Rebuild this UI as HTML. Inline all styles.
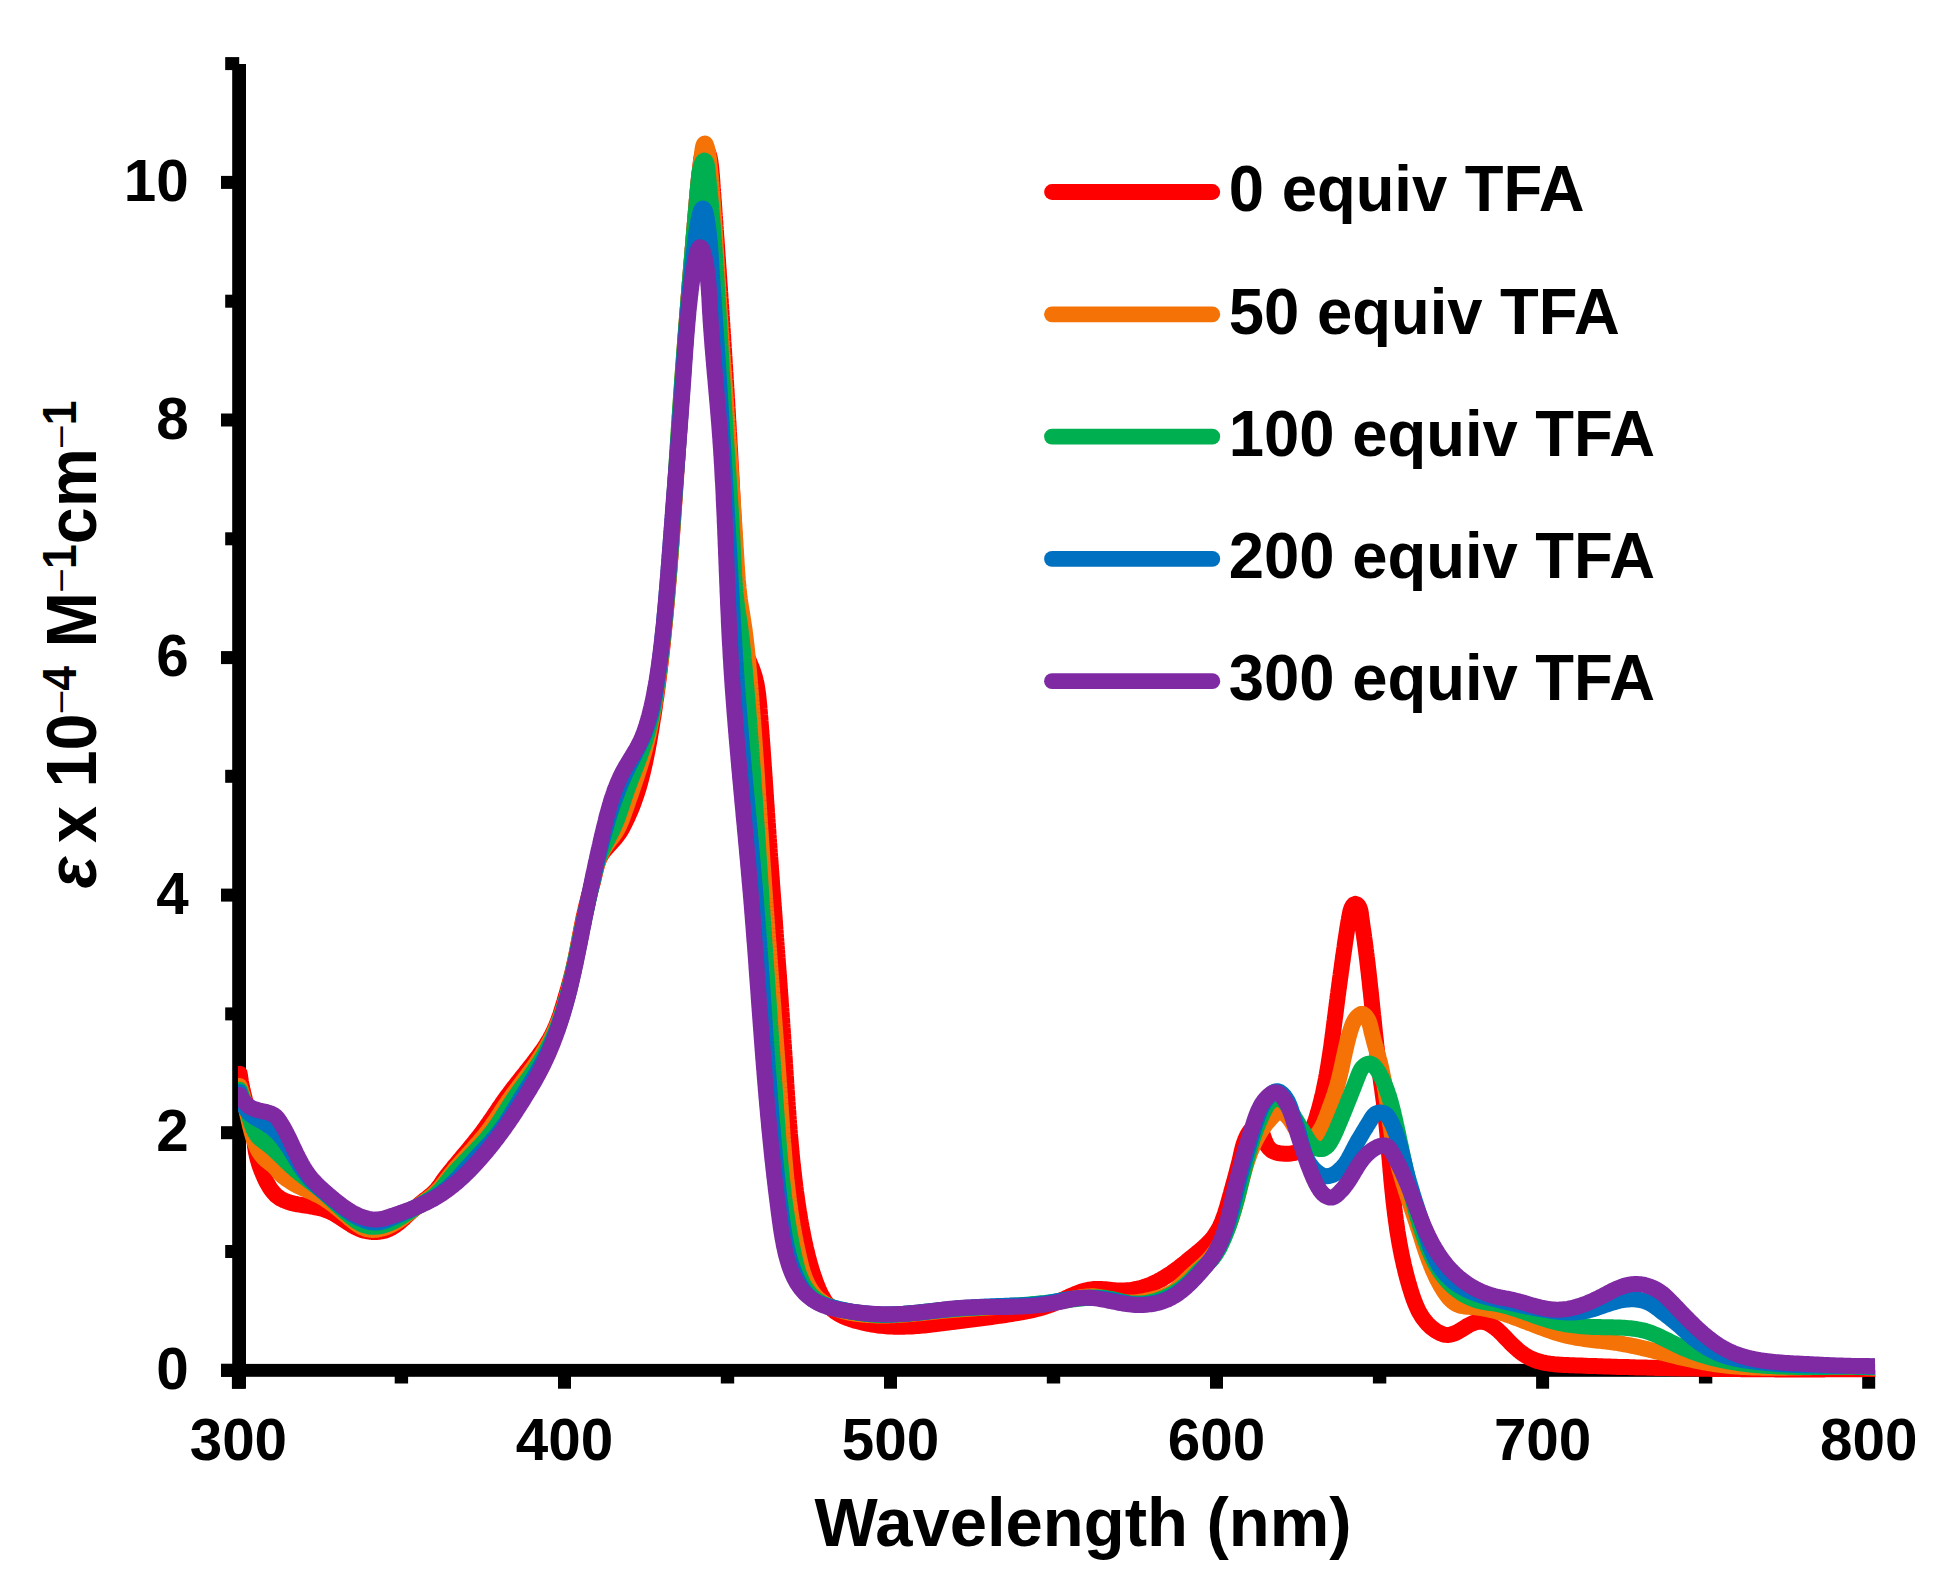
<!DOCTYPE html>
<html><head><meta charset="utf-8"><title>UV-vis titration</title>
<style>
html,body{margin:0;padding:0;background:#fff;}
body{width:1945px;height:1594px;overflow:hidden;}
svg{display:block;}
text{font-family:"Liberation Sans",sans-serif;font-weight:bold;fill:#000;}
</style></head><body>
<svg width="1945" height="1594" viewBox="0 0 1945 1594">
<rect width="1945" height="1594" fill="#fff"/>
<defs><clipPath id="pc"><rect x="238" y="0" width="1637" height="1400"/></clipPath></defs>
<g fill="#000"><rect x="232.2" y="64" width="13.8" height="1324.7"/><rect x="221" y="1363.9" width="1654.1" height="12.9"/><rect x="221" y="1363.8" width="18" height="13"/><rect x="225.2" y="1245.0" width="14" height="13"/><rect x="221" y="1126.2" width="18" height="13"/><rect x="225.2" y="1007.4" width="14" height="13"/><rect x="221" y="888.6" width="18" height="13"/><rect x="225.2" y="769.8" width="14" height="13"/><rect x="221" y="651.1" width="18" height="13"/><rect x="225.2" y="532.3" width="14" height="13"/><rect x="221" y="413.5" width="18" height="13"/><rect x="225.2" y="294.7" width="14" height="13"/><rect x="221" y="175.9" width="18" height="13"/><rect x="225.2" y="57.1" width="14" height="13"/><rect x="231.9" y="1370" width="13" height="18.7"/><rect x="394.7" y="1370" width="13.4" height="13.5"/><rect x="558.0" y="1370" width="13" height="18.7"/><rect x="720.8" y="1370" width="13.4" height="13.5"/><rect x="884.0" y="1370" width="13" height="18.7"/><rect x="1046.8" y="1370" width="13.4" height="13.5"/><rect x="1210.0" y="1370" width="13" height="18.7"/><rect x="1372.9" y="1370" width="13.4" height="13.5"/><rect x="1536.1" y="1370" width="13" height="18.7"/><rect x="1698.9" y="1370" width="13.4" height="13.5"/><rect x="1862.2" y="1370" width="13" height="18.7"/></g>
<g clip-path="url(#pc)" fill="none" stroke-width="16" stroke-linejoin="round" stroke-linecap="round">
<path stroke="#FF0000" d="M239.7 1073.8L240.0 1075.8L240.3 1077.8L240.6 1079.7L240.9 1081.7L241.3 1083.7L241.7 1085.6L242.1 1087.6L242.5 1089.5L243.0 1091.5L243.4 1093.4L243.9 1095.4L244.4 1097.3L244.9 1099.3L245.5 1101.2L246.0 1103.1L246.6 1105.1L247.1 1107.0L247.7 1108.9L248.3 1110.8L248.9 1112.7L249.5 1114.6L250.1 1116.5L250.6 1118.4L251.2 1120.4L251.7 1122.3L252.2 1124.2L252.7 1126.1L253.0 1128.1L253.4 1130.1L253.7 1132.1L253.9 1134.1L254.1 1136.1L254.2 1138.1L254.4 1140.2L254.6 1142.2L254.8 1144.2L255.0 1146.2L255.3 1148.1L255.6 1150.1L256.0 1152.0L256.4 1154.0L256.8 1155.9L257.3 1157.8L257.8 1159.7L258.4 1161.6L258.9 1163.5L259.6 1165.4L260.2 1167.3L260.9 1169.1L261.6 1171.0L262.4 1172.9L263.1 1174.7L264.0 1176.6L264.8 1178.4L265.7 1180.3L266.6 1182.1L267.6 1183.9L268.6 1185.7L269.7 1187.5L270.8 1189.2L272.0 1190.8L273.2 1192.3L274.6 1193.8L275.9 1195.2L277.4 1196.4L279.0 1197.6L280.6 1198.6L282.3 1199.5L284.0 1200.4L285.8 1201.1L287.7 1201.8L289.6 1202.4L291.5 1202.9L293.5 1203.4L295.5 1203.9L297.5 1204.3L299.5 1204.6L301.6 1205.0L303.6 1205.3L305.6 1205.6L307.6 1205.9L309.6 1206.2L311.6 1206.6L313.6 1206.9L315.5 1207.3L317.5 1207.7L319.4 1208.1L321.3 1208.6L323.2 1209.1L325.0 1209.7L326.9 1210.4L328.7 1211.1L330.5 1211.9L332.3 1212.8L334.0 1213.7L335.8 1214.7L337.5 1215.8L339.2 1216.8L340.9 1218.0L342.6 1219.1L344.3 1220.3L346.0 1221.4L347.7 1222.5L349.5 1223.7L351.2 1224.7L352.9 1225.8L354.7 1226.8L356.5 1227.7L358.3 1228.5L360.2 1229.3L362.0 1230.0L363.9 1230.6L365.9 1231.0L367.8 1231.4L369.8 1231.7L371.7 1231.9L373.7 1232.0L375.6 1232.0L377.6 1231.9L379.5 1231.7L381.5 1231.4L383.4 1231.0L385.3 1230.5L387.1 1229.8L388.9 1229.1L390.7 1228.2L392.5 1227.2L394.2 1226.2L395.8 1225.0L397.5 1223.8L399.1 1222.5L400.7 1221.2L402.2 1219.8L403.8 1218.5L405.3 1217.0L406.8 1215.6L408.3 1214.2L409.8 1212.8L411.2 1211.5L412.7 1210.1L414.2 1208.8L415.7 1207.5L417.2 1206.3L418.6 1205.0L420.1 1203.8L421.7 1202.5L423.2 1201.3L424.7 1200.0L426.3 1198.8L427.9 1197.6L429.5 1196.3L431.1 1195.0L432.6 1193.7L434.1 1192.3L435.5 1190.9L436.9 1189.4L438.1 1187.8L439.3 1186.3L440.5 1184.7L441.6 1183.0L442.7 1181.4L443.9 1179.7L445.0 1178.1L446.2 1176.5L447.5 1174.9L448.7 1173.4L449.9 1171.8L451.2 1170.2L452.5 1168.7L453.7 1167.1L455.0 1165.6L456.3 1164.0L457.6 1162.5L458.8 1161.0L460.1 1159.4L461.4 1157.9L462.7 1156.3L464.0 1154.8L465.3 1153.3L466.6 1151.7L467.8 1150.2L469.1 1148.7L470.4 1147.1L471.7 1145.6L472.9 1144.0L474.2 1142.5L475.4 1140.9L476.7 1139.3L477.9 1137.8L479.1 1136.2L480.4 1134.6L481.6 1133.0L482.8 1131.4L483.9 1129.8L485.1 1128.2L486.3 1126.5L487.4 1124.9L488.6 1123.3L489.7 1121.6L490.8 1120.0L492.0 1118.3L493.1 1116.7L494.2 1115.0L495.3 1113.3L496.5 1111.7L497.6 1110.0L498.7 1108.4L499.8 1106.7L501.0 1105.1L502.1 1103.4L503.2 1101.8L504.4 1100.1L505.6 1098.5L506.7 1096.9L507.9 1095.3L509.1 1093.7L510.3 1092.1L511.5 1090.5L512.7 1088.9L513.9 1087.3L515.2 1085.7L516.4 1084.2L517.6 1082.6L518.9 1081.0L520.1 1079.5L521.4 1077.9L522.6 1076.3L523.9 1074.8L525.1 1073.2L526.3 1071.6L527.6 1070.0L528.8 1068.5L530.1 1066.9L531.3 1065.3L532.6 1063.7L533.8 1062.1L535.0 1060.5L536.2 1058.9L537.5 1057.3L538.6 1055.7L539.8 1054.1L541.0 1052.4L542.2 1050.8L543.3 1049.2L544.4 1047.5L545.5 1045.8L546.6 1044.1L547.6 1042.4L548.7 1040.7L549.7 1039.0L550.6 1037.2L551.6 1035.5L552.5 1033.7L553.4 1031.9L554.2 1030.1L555.0 1028.3L555.8 1026.5L556.6 1024.6L557.3 1022.8L558.0 1020.9L558.7 1019.0L559.4 1017.1L560.1 1015.2L560.7 1013.3L561.3 1011.4L561.9 1009.5L562.5 1007.6L563.1 1005.6L563.7 1003.7L564.3 1001.8L564.8 999.9L565.4 997.9L566.0 996.0L566.5 994.1L567.1 992.2L567.6 990.2L568.2 988.3L568.7 986.4L569.2 984.5L569.8 982.5L570.3 980.6L570.8 978.7L571.3 976.8L571.8 974.8L572.3 972.9L572.8 970.9L573.2 969.0L573.7 967.1L574.1 965.1L574.5 963.2L575.0 961.2L575.4 959.2L575.8 957.3L576.2 955.3L576.6 953.3L577.0 951.4L577.4 949.4L577.8 947.4L578.1 945.5L578.5 943.5L578.9 941.5L579.3 939.6L579.6 937.6L580.0 935.6L580.4 933.6L580.8 931.7L581.1 929.7L581.5 927.7L581.9 925.8L582.3 923.8L582.7 921.8L583.1 919.9L583.5 917.9L583.9 916.0L584.4 914.0L584.8 912.1L585.3 910.1L585.7 908.2L586.2 906.2L586.7 904.3L587.2 902.4L587.7 900.5L588.2 898.6L588.7 896.6L589.3 894.7L589.8 892.8L590.4 890.9L590.9 889.0L591.5 887.1L592.0 885.1L592.6 883.2L593.1 881.2L593.6 879.3L594.0 877.3L594.5 875.3L594.9 873.3L595.4 871.3L595.9 869.3L596.4 867.3L596.9 865.4L597.5 863.5L598.1 861.6L598.8 859.7L599.6 857.9L600.6 856.2L601.6 854.5L602.6 852.8L603.8 851.3L605.1 849.7L606.3 848.2L607.7 846.7L609.0 845.2L610.4 843.7L611.8 842.2L613.1 840.7L614.5 839.2L615.8 837.6L617.0 836.1L618.2 834.5L619.4 832.8L620.5 831.1L621.5 829.4L622.5 827.7L623.4 825.9L624.3 824.1L625.2 822.3L626.1 820.5L627.0 818.7L627.8 816.9L628.6 815.1L629.4 813.3L630.2 811.5L631.0 809.6L631.7 807.8L632.5 805.9L633.2 804.1L633.9 802.2L634.5 800.3L635.2 798.4L635.8 796.6L636.5 794.7L637.1 792.8L637.7 790.9L638.3 789.0L638.9 787.1L639.4 785.2L640.0 783.2L640.5 781.3L641.0 779.4L641.5 777.5L642.0 775.5L642.5 773.6L643.0 771.6L643.4 769.7L643.9 767.7L644.3 765.8L644.8 763.8L645.2 761.9L645.6 759.9L646.0 758.0L646.4 756.0L646.8 754.0L647.2 752.1L647.6 750.1L648.0 748.1L648.3 746.2L648.7 744.2L649.1 742.2L649.4 740.2L649.8 738.2L650.1 736.3L650.4 734.3L650.8 732.3L651.1 730.3L651.4 728.4L651.8 726.4L652.1 724.4L652.4 722.4L652.7 720.4L653.0 718.5L653.4 716.5L653.7 714.5L654.0 712.5L654.3 710.5L654.6 708.6L654.9 706.6L655.1 704.6L655.4 702.6L655.7 700.6L656.0 698.7L656.3 696.7L656.6 694.7L656.8 692.7L657.1 690.7L657.4 688.7L657.6 686.8L657.9 684.8L658.2 682.8L658.4 680.8L658.7 678.8L658.9 676.8L659.2 674.8L659.4 672.9L659.7 670.9L659.9 668.9L660.1 666.9L660.4 664.9L660.6 662.9L660.8 660.9L661.1 659.0L661.3 657.0L661.5 655.0L661.7 653.0L662.0 651.0L662.2 649.0L662.4 647.0L662.6 645.1L662.8 643.1L663.0 641.1L663.2 639.1L663.4 637.1L663.6 635.1L663.8 633.1L664.0 631.1L664.2 629.1L664.4 627.2L664.6 625.2L664.8 623.2L665.0 621.2L665.2 619.2L665.4 617.2L665.6 615.2L665.8 613.2L665.9 611.2L666.1 609.2L666.3 607.2L666.5 605.3L666.7 603.3L666.8 601.3L667.0 599.3L667.2 597.3L667.3 595.3L667.5 593.3L667.7 591.3L667.8 589.3L668.0 587.3L668.2 585.3L668.3 583.3L668.5 581.3L668.7 579.4L668.8 577.4L669.0 575.4L669.1 573.4L669.3 571.4L669.5 569.4L669.6 567.4L669.8 565.4L669.9 563.4L670.1 561.4L670.2 559.4L670.4 557.4L670.5 555.4L670.7 553.4L670.8 551.4L671.0 549.4L671.1 547.4L671.3 545.5L671.4 543.5L671.6 541.5L671.7 539.5L671.9 537.5L672.0 535.5L672.2 533.5L672.3 531.5L672.4 529.5L672.6 527.5L672.7 525.5L672.9 523.5L673.0 521.5L673.2 519.5L673.3 517.5L673.4 515.5L673.6 513.5L673.7 511.5L673.9 509.5L674.0 507.5L674.1 505.5L674.3 503.5L674.4 501.5L674.6 499.5L674.7 497.5L674.8 495.5L675.0 493.6L675.1 491.6L675.2 489.6L675.4 487.6L675.5 485.6L675.6 483.6L675.8 481.6L675.9 479.6L676.1 477.6L676.2 475.6L676.3 473.6L676.5 471.6L676.6 469.6L676.7 467.6L676.9 465.6L677.0 463.6L677.1 461.6L677.3 459.6L677.4 457.6L677.5 455.6L677.7 453.6L677.8 451.6L677.9 449.6L678.1 447.6L678.2 445.6L678.3 443.6L678.5 441.6L678.6 439.6L678.7 437.6L678.9 435.6L679.0 433.6L679.1 431.6L679.3 429.6L679.4 427.6L679.5 425.6L679.7 423.6L679.8 421.6L679.9 419.6L680.1 417.6L680.2 415.7L680.3 413.7L680.5 411.7L680.6 409.7L680.7 407.7L680.9 405.7L681.0 403.7L681.1 401.7L681.3 399.7L681.4 397.7L681.5 395.7L681.7 393.7L681.8 391.7L681.9 389.7L682.1 387.7L682.2 385.7L682.4 383.7L682.5 381.7L682.6 379.7L682.8 377.7L682.9 375.7L683.0 373.7L683.2 371.7L683.3 369.7L683.5 367.7L683.6 365.7L683.7 363.7L683.9 361.7L684.0 359.7L684.2 357.7L684.3 355.7L684.4 353.7L684.6 351.7L684.7 349.8L684.9 347.8L685.0 345.8L685.2 343.8L685.3 341.8L685.5 339.8L685.6 337.8L685.7 335.8L685.9 333.8L686.0 331.8L686.2 329.8L686.3 327.8L686.5 325.8L686.6 323.8L686.8 321.8L686.9 319.8L687.1 317.8L687.2 315.8L687.4 313.8L687.5 311.8L687.7 309.8L687.9 307.9L688.0 305.9L688.2 303.9L688.3 301.9L688.5 299.9L688.6 297.9L688.8 295.9L689.0 293.9L689.1 291.9L689.3 289.9L689.4 287.9L689.6 285.9L689.8 283.9L689.9 281.9L690.1 280.0L690.3 278.0L690.4 276.0L690.6 274.0L690.8 272.0L690.9 270.0L691.1 268.0L691.3 266.0L691.4 264.0L691.6 262.0L691.8 260.0L692.0 258.0L692.1 256.0L692.3 254.0L692.5 252.0L692.6 250.1L692.8 248.1L693.0 246.1L693.1 244.1L693.3 242.1L693.5 240.1L693.6 238.1L693.8 236.1L694.0 234.1L694.1 232.1L694.3 230.1L694.5 228.1L694.7 226.1L694.8 224.1L695.0 222.1L695.2 220.1L695.3 218.1L695.5 216.1L695.7 214.1L695.8 212.1L696.0 210.1L696.2 208.1L696.3 206.1L696.5 204.2L696.7 202.2L696.8 200.2L697.0 198.2L697.2 196.2L697.4 194.2L697.5 192.3L697.7 190.3L697.9 188.3L698.1 186.3L698.3 184.3L698.5 182.3L698.7 180.3L698.9 178.4L699.1 176.4L699.3 174.4L699.6 172.4L699.8 170.4L700.1 168.4L700.3 166.4L700.6 164.4L700.8 162.3L701.1 160.3L701.4 158.3L701.9 156.3L702.5 154.3L703.4 152.3L704.5 150.7L705.7 150.1L706.8 150.8L707.8 152.2L708.6 153.8L709.2 155.7L709.7 157.7L710.1 159.8L710.5 161.9L710.7 164.0L711.0 166.2L711.2 168.2L711.4 170.3L711.6 172.3L711.8 174.3L712.0 176.3L712.1 178.3L712.3 180.3L712.4 182.3L712.5 184.3L712.7 186.3L712.8 188.2L713.0 190.2L713.1 192.2L713.3 194.2L713.4 196.2L713.5 198.2L713.7 200.1L713.8 202.1L714.0 204.1L714.1 206.1L714.3 208.1L714.4 210.1L714.5 212.1L714.7 214.0L714.8 216.0L715.0 218.0L715.1 220.0L715.3 222.0L715.4 224.0L715.5 226.0L715.7 228.0L715.8 230.0L716.0 231.9L716.1 233.9L716.2 235.9L716.4 237.9L716.5 239.9L716.7 241.9L716.8 243.9L717.0 245.9L717.1 247.9L717.2 249.9L717.4 251.9L717.5 253.8L717.6 255.8L717.8 257.8L717.9 259.8L718.1 261.8L718.2 263.8L718.3 265.8L718.5 267.8L718.6 269.8L718.8 271.8L718.9 273.8L719.0 275.8L719.2 277.8L719.3 279.8L719.4 281.8L719.6 283.8L719.7 285.8L719.9 287.8L720.0 289.7L720.1 291.7L720.3 293.7L720.4 295.7L720.5 297.7L720.7 299.7L720.8 301.7L720.9 303.7L721.1 305.7L721.2 307.7L721.3 309.7L721.5 311.7L721.6 313.7L721.7 315.7L721.9 317.7L722.0 319.7L722.1 321.7L722.3 323.7L722.4 325.7L722.5 327.7L722.7 329.7L722.8 331.7L722.9 333.7L723.1 335.7L723.2 337.7L723.3 339.7L723.4 341.7L723.6 343.7L723.7 345.7L723.8 347.7L724.0 349.7L724.1 351.7L724.2 353.7L724.3 355.7L724.5 357.7L724.6 359.7L724.7 361.7L724.8 363.7L725.0 365.7L725.1 367.7L725.2 369.7L725.3 371.7L725.5 373.7L725.6 375.7L725.7 377.7L725.8 379.7L726.0 381.7L726.1 383.7L726.2 385.7L726.3 387.7L726.5 389.7L726.6 391.7L726.7 393.7L726.8 395.7L726.9 397.7L727.1 399.7L727.2 401.7L727.3 403.7L727.4 405.7L727.5 407.7L727.7 409.7L727.8 411.7L727.9 413.7L728.0 415.7L728.1 417.7L728.2 419.7L728.4 421.7L728.5 423.7L728.6 425.7L728.7 427.7L728.8 429.7L728.9 431.7L729.1 433.7L729.2 435.7L729.3 437.7L729.4 439.7L729.5 441.7L729.6 443.7L729.7 445.7L729.8 447.6L730.0 449.6L730.1 451.6L730.2 453.6L730.3 455.6L730.4 457.6L730.5 459.6L730.6 461.6L730.7 463.6L730.8 465.6L730.9 467.6L731.0 469.6L731.1 471.6L731.3 473.6L731.4 475.6L731.5 477.6L731.6 479.6L731.7 481.6L731.8 483.6L731.9 485.6L732.0 487.6L732.1 489.6L732.2 491.6L732.3 493.6L732.4 495.6L732.5 497.6L732.6 499.6L732.7 501.6L732.8 503.6L732.9 505.5L733.0 507.5L733.1 509.5L733.2 511.5L733.3 513.5L733.4 515.5L733.5 517.5L733.6 519.5L733.7 521.5L733.8 523.5L733.9 525.5L734.0 527.5L734.1 529.5L734.2 531.5L734.3 533.5L734.4 535.5L734.4 537.5L734.5 539.5L734.6 541.5L734.7 543.5L734.8 545.5L734.9 547.5L735.0 549.5L735.1 551.5L735.2 553.5L735.3 555.5L735.4 557.5L735.5 559.5L735.5 561.5L735.6 563.5L735.7 565.5L735.8 567.5L735.9 569.5L736.0 571.5L736.1 573.5L736.2 575.5L736.2 577.5L736.3 579.5L736.4 581.5L736.5 583.5L736.6 585.5L736.7 587.5L736.7 589.5L736.8 591.5L736.9 593.5L737.0 595.5L737.1 597.5L737.2 599.5L737.3 601.5L737.5 603.5L737.6 605.5L737.7 607.5L737.9 609.5L738.0 611.5L738.2 613.5L738.4 615.5L738.6 617.5L738.8 619.5L739.1 621.4L739.3 623.4L739.6 625.4L739.9 627.4L740.2 629.4L740.6 631.4L740.9 633.3L741.3 635.3L741.7 637.3L742.1 639.2L742.6 641.2L743.0 643.1L743.5 645.0L744.0 646.9L744.6 648.8L745.2 650.8L745.8 652.6L746.4 654.5L747.1 656.4L747.8 658.3L748.6 660.2L749.4 662.0L750.1 663.9L750.9 665.8L751.7 667.6L752.4 669.5L753.1 671.4L753.7 673.3L754.3 675.2L754.9 677.1L755.4 679.1L755.8 681.0L756.3 682.9L756.7 684.9L757.0 686.8L757.3 688.8L757.6 690.8L757.9 692.8L758.2 694.7L758.4 696.7L758.6 698.7L758.8 700.7L759.0 702.7L759.2 704.7L759.4 706.7L759.5 708.7L759.7 710.7L759.9 712.7L760.0 714.7L760.2 716.7L760.4 718.7L760.5 720.7L760.7 722.7L760.8 724.7L761.0 726.6L761.1 728.6L761.3 730.6L761.4 732.6L761.6 734.6L761.7 736.6L761.9 738.6L762.0 740.6L762.2 742.6L762.3 744.6L762.5 746.6L762.6 748.6L762.8 750.6L762.9 752.6L763.0 754.6L763.2 756.6L763.3 758.6L763.5 760.6L763.6 762.6L763.7 764.6L763.9 766.6L764.0 768.6L764.2 770.6L764.3 772.6L764.4 774.6L764.6 776.6L764.7 778.6L764.9 780.6L765.0 782.6L765.1 784.6L765.3 786.6L765.4 788.6L765.5 790.6L765.7 792.6L765.8 794.6L765.9 796.6L766.1 798.6L766.2 800.6L766.3 802.6L766.5 804.6L766.6 806.6L766.8 808.6L766.9 810.6L767.0 812.5L767.2 814.5L767.3 816.5L767.4 818.5L767.6 820.5L767.7 822.5L767.9 824.5L768.0 826.5L768.1 828.5L768.3 830.5L768.4 832.5L768.5 834.5L768.7 836.5L768.8 838.5L769.0 840.5L769.1 842.5L769.3 844.5L769.4 846.5L769.5 848.5L769.7 850.5L769.8 852.5L770.0 854.5L770.1 856.5L770.3 858.4L770.4 860.4L770.5 862.4L770.7 864.4L770.8 866.4L771.0 868.4L771.1 870.4L771.3 872.4L771.4 874.4L771.6 876.4L771.7 878.4L771.9 880.4L772.0 882.4L772.1 884.4L772.3 886.4L772.4 888.4L772.6 890.4L772.7 892.4L772.9 894.3L773.0 896.3L773.2 898.3L773.3 900.3L773.5 902.3L773.6 904.3L773.8 906.3L773.9 908.3L774.1 910.3L774.2 912.3L774.4 914.3L774.5 916.3L774.7 918.3L774.8 920.3L774.9 922.3L775.1 924.3L775.2 926.3L775.4 928.2L775.5 930.2L775.7 932.2L775.8 934.2L776.0 936.2L776.1 938.2L776.3 940.2L776.4 942.2L776.6 944.2L776.7 946.2L776.9 948.2L777.0 950.2L777.2 952.2L777.3 954.2L777.5 956.2L777.6 958.2L777.8 960.2L777.9 962.2L778.0 964.1L778.2 966.1L778.3 968.1L778.5 970.1L778.6 972.1L778.8 974.1L778.9 976.1L779.1 978.1L779.2 980.1L779.4 982.1L779.5 984.1L779.7 986.1L779.8 988.1L779.9 990.1L780.1 992.1L780.2 994.1L780.4 996.1L780.5 998.1L780.7 1000.1L780.8 1002.1L780.9 1004.1L781.1 1006.0L781.2 1008.0L781.4 1010.0L781.5 1012.0L781.7 1014.0L781.8 1016.0L781.9 1018.0L782.1 1020.0L782.2 1022.0L782.3 1024.0L782.5 1026.0L782.6 1028.0L782.8 1030.0L782.9 1032.0L783.0 1034.0L783.2 1036.0L783.3 1038.0L783.4 1040.0L783.6 1042.0L783.7 1044.0L783.9 1046.0L784.0 1048.0L784.1 1050.0L784.3 1052.0L784.4 1054.0L784.5 1056.0L784.7 1058.0L784.8 1060.0L784.9 1062.0L785.0 1064.0L785.2 1066.0L785.3 1068.0L785.4 1070.0L785.6 1072.0L785.7 1074.0L785.8 1076.0L786.0 1078.0L786.1 1080.0L786.2 1082.0L786.3 1084.0L786.5 1086.0L786.6 1088.0L786.7 1090.0L786.9 1092.0L787.0 1094.0L787.1 1096.0L787.3 1098.0L787.4 1100.0L787.5 1102.0L787.7 1104.0L787.8 1106.0L788.0 1108.0L788.1 1110.0L788.3 1112.0L788.4 1114.0L788.5 1116.0L788.7 1118.0L788.8 1120.0L789.0 1122.0L789.1 1124.0L789.3 1126.0L789.5 1128.0L789.6 1130.0L789.8 1132.0L789.9 1134.0L790.1 1136.0L790.3 1138.0L790.5 1139.9L790.6 1141.9L790.8 1143.9L791.0 1145.9L791.2 1147.9L791.4 1149.9L791.5 1151.9L791.7 1153.9L791.9 1155.9L792.1 1157.9L792.3 1159.9L792.5 1161.8L792.7 1163.8L792.9 1165.8L793.2 1167.8L793.4 1169.8L793.6 1171.8L793.8 1173.8L794.1 1175.8L794.3 1177.7L794.5 1179.7L794.8 1181.7L795.0 1183.7L795.3 1185.7L795.5 1187.6L795.8 1189.6L796.0 1191.6L796.3 1193.6L796.6 1195.5L796.9 1197.5L797.1 1199.5L797.4 1201.5L797.7 1203.4L798.0 1205.4L798.3 1207.4L798.6 1209.4L798.9 1211.3L799.3 1213.3L799.6 1215.3L799.9 1217.2L800.2 1219.2L800.6 1221.2L800.9 1223.1L801.3 1225.1L801.6 1227.0L802.0 1229.0L802.4 1231.0L802.7 1232.9L803.1 1234.9L803.5 1236.8L803.9 1238.8L804.3 1240.7L804.7 1242.7L805.2 1244.6L805.6 1246.6L806.0 1248.5L806.5 1250.5L807.0 1252.4L807.4 1254.4L807.9 1256.3L808.4 1258.3L808.9 1260.2L809.5 1262.1L810.0 1264.1L810.6 1266.0L811.1 1268.0L811.7 1269.9L812.3 1271.8L813.0 1273.8L813.6 1275.7L814.3 1277.6L814.9 1279.6L815.6 1281.5L816.3 1283.4L817.1 1285.3L817.8 1287.2L818.6 1289.1L819.5 1291.0L820.3 1292.8L821.2 1294.6L822.2 1296.4L823.2 1298.1L824.2 1299.8L825.3 1301.5L826.4 1303.1L827.6 1304.6L828.9 1306.1L830.2 1307.5L831.6 1308.8L833.1 1310.1L834.6 1311.3L836.2 1312.4L837.8 1313.5L839.6 1314.5L841.3 1315.4L843.1 1316.3L845.0 1317.1L846.9 1317.9L848.8 1318.6L850.7 1319.3L852.7 1319.9L854.6 1320.5L856.6 1321.1L858.6 1321.6L860.6 1322.1L862.6 1322.6L864.5 1323.0L866.5 1323.5L868.5 1323.9L870.4 1324.2L872.4 1324.6L874.4 1324.9L876.3 1325.2L878.3 1325.5L880.3 1325.7L882.2 1325.9L884.2 1326.1L886.2 1326.3L888.1 1326.4L890.1 1326.5L892.1 1326.6L894.1 1326.7L896.1 1326.7L898.1 1326.7L900.0 1326.7L902.0 1326.7L904.0 1326.7L906.0 1326.6L908.0 1326.6L910.0 1326.5L912.0 1326.4L914.0 1326.3L916.0 1326.1L918.0 1326.0L920.0 1325.8L922.0 1325.6L924.0 1325.5L926.0 1325.3L928.0 1325.1L930.0 1324.8L932.0 1324.6L934.0 1324.4L936.0 1324.1L938.0 1323.9L940.0 1323.6L942.0 1323.4L944.0 1323.1L945.9 1322.9L947.9 1322.6L949.9 1322.3L951.9 1322.1L953.9 1321.8L955.9 1321.5L957.9 1321.3L959.9 1321.0L961.9 1320.8L963.9 1320.5L965.8 1320.2L967.8 1320.0L969.8 1319.7L971.8 1319.5L973.8 1319.2L975.7 1319.0L977.7 1318.7L979.7 1318.5L981.7 1318.2L983.6 1318.0L985.6 1317.7L987.6 1317.5L989.5 1317.2L991.5 1317.0L993.5 1316.7L995.5 1316.4L997.4 1316.1L999.4 1315.9L1001.4 1315.6L1003.4 1315.3L1005.3 1315.0L1007.3 1314.7L1009.3 1314.4L1011.3 1314.1L1013.2 1313.7L1015.2 1313.4L1017.2 1313.1L1019.2 1312.7L1021.2 1312.3L1023.2 1312.0L1025.1 1311.6L1027.1 1311.2L1029.1 1310.8L1031.1 1310.4L1033.1 1309.9L1035.0 1309.4L1037.0 1309.0L1038.9 1308.5L1040.8 1307.9L1042.8 1307.4L1044.7 1306.8L1046.6 1306.2L1048.4 1305.6L1050.3 1304.9L1052.1 1304.2L1053.9 1303.5L1055.7 1302.7L1057.5 1302.0L1059.3 1301.2L1061.1 1300.3L1062.9 1299.5L1064.7 1298.7L1066.6 1297.8L1068.4 1297.0L1070.3 1296.1L1072.1 1295.3L1074.0 1294.5L1075.9 1293.7L1077.8 1293.0L1079.7 1292.3L1081.6 1291.6L1083.6 1291.1L1085.5 1290.5L1087.4 1290.1L1089.4 1289.7L1091.4 1289.4L1093.3 1289.1L1095.3 1289.0L1097.3 1289.0L1099.3 1289.0L1101.3 1289.1L1103.3 1289.2L1105.3 1289.3L1107.3 1289.5L1109.3 1289.7L1111.3 1289.9L1113.3 1290.1L1115.3 1290.3L1117.3 1290.4L1119.3 1290.5L1121.4 1290.6L1123.3 1290.5L1125.3 1290.5L1127.3 1290.3L1129.3 1290.1L1131.3 1289.9L1133.2 1289.6L1135.2 1289.2L1137.1 1288.8L1139.1 1288.4L1141.0 1287.9L1142.9 1287.3L1144.8 1286.7L1146.6 1286.1L1148.5 1285.4L1150.4 1284.7L1152.2 1283.9L1154.0 1283.1L1155.8 1282.2L1157.6 1281.3L1159.3 1280.4L1161.1 1279.5L1162.8 1278.5L1164.5 1277.4L1166.2 1276.4L1167.9 1275.3L1169.6 1274.2L1171.3 1273.1L1172.9 1271.9L1174.5 1270.8L1176.2 1269.6L1177.8 1268.4L1179.4 1267.1L1181.0 1265.9L1182.6 1264.7L1184.2 1263.4L1185.8 1262.1L1187.4 1260.8L1188.9 1259.6L1190.5 1258.3L1192.1 1257.0L1193.6 1255.7L1195.2 1254.4L1196.8 1253.1L1198.3 1251.8L1199.9 1250.6L1201.4 1249.3L1202.9 1248.0L1204.4 1246.6L1205.9 1245.3L1207.3 1243.9L1208.7 1242.5L1210.0 1241.1L1211.4 1239.7L1212.6 1238.2L1213.8 1236.6L1214.9 1235.0L1216.0 1233.4L1217.1 1231.7L1218.0 1230.0L1219.0 1228.3L1219.9 1226.5L1220.7 1224.7L1221.5 1222.9L1222.3 1221.0L1223.0 1219.1L1223.7 1217.2L1224.4 1215.3L1225.1 1213.4L1225.7 1211.4L1226.3 1209.5L1226.9 1207.5L1227.5 1205.5L1228.0 1203.6L1228.6 1201.6L1229.1 1199.6L1229.7 1197.7L1230.2 1195.7L1230.8 1193.8L1231.3 1191.8L1231.8 1189.9L1232.4 1188.0L1232.9 1186.0L1233.4 1184.1L1234.0 1182.2L1234.5 1180.3L1235.0 1178.4L1235.5 1176.5L1236.0 1174.6L1236.5 1172.7L1237.0 1170.8L1237.5 1168.9L1238.0 1166.9L1238.5 1165.0L1239.0 1163.1L1239.5 1161.2L1239.9 1159.2L1240.4 1157.3L1240.8 1155.3L1241.3 1153.4L1241.7 1151.4L1242.2 1149.5L1242.7 1147.5L1243.2 1145.6L1243.8 1143.7L1244.5 1141.8L1245.2 1139.9L1246.0 1138.0L1246.9 1136.2L1247.8 1134.4L1248.9 1132.6L1250.1 1130.9L1251.5 1129.4L1253.0 1128.1L1254.8 1127.3L1256.8 1127.0L1258.5 1127.5L1259.8 1128.6L1260.9 1130.2L1261.7 1132.2L1262.5 1134.2L1263.3 1136.2L1264.0 1138.3L1264.7 1140.3L1265.5 1142.2L1266.4 1144.0L1267.3 1145.8L1268.4 1147.3L1269.6 1148.7L1271.0 1150.0L1272.5 1151.0L1274.2 1151.8L1276.1 1152.5L1278.0 1153.0L1280.1 1153.3L1282.2 1153.6L1284.3 1153.7L1286.4 1153.7L1288.6 1153.7L1290.7 1153.5L1292.7 1153.2L1294.6 1152.8L1296.5 1152.2L1298.2 1151.4L1299.7 1150.4L1301.2 1149.2L1302.5 1148.0L1303.8 1146.6L1305.0 1145.0L1306.0 1143.4L1307.1 1141.7L1308.0 1139.9L1308.9 1138.1L1309.7 1136.2L1310.5 1134.2L1311.3 1132.3L1312.0 1130.4L1312.8 1128.4L1313.5 1126.5L1314.1 1124.5L1314.8 1122.6L1315.5 1120.7L1316.1 1118.8L1316.7 1116.8L1317.3 1114.9L1317.9 1113.0L1318.4 1111.1L1319.0 1109.1L1319.5 1107.2L1320.0 1105.3L1320.5 1103.4L1321.0 1101.5L1321.5 1099.5L1322.0 1097.6L1322.4 1095.7L1322.9 1093.7L1323.3 1091.8L1323.7 1089.9L1324.1 1088.0L1324.5 1086.0L1324.9 1084.1L1325.3 1082.1L1325.7 1080.2L1326.1 1078.2L1326.4 1076.3L1326.8 1074.3L1327.1 1072.4L1327.5 1070.4L1327.8 1068.4L1328.2 1066.5L1328.5 1064.5L1328.8 1062.5L1329.1 1060.5L1329.4 1058.6L1329.7 1056.6L1330.0 1054.6L1330.3 1052.6L1330.6 1050.6L1330.9 1048.6L1331.2 1046.7L1331.5 1044.7L1331.7 1042.7L1332.0 1040.7L1332.3 1038.7L1332.5 1036.7L1332.8 1034.7L1333.1 1032.7L1333.3 1030.7L1333.6 1028.7L1333.8 1026.7L1334.1 1024.7L1334.3 1022.7L1334.6 1020.7L1334.8 1018.8L1335.1 1016.8L1335.4 1014.8L1335.6 1012.8L1335.9 1010.8L1336.1 1008.8L1336.4 1006.8L1336.6 1004.8L1336.9 1002.8L1337.1 1000.8L1337.4 998.9L1337.6 996.9L1337.9 994.9L1338.2 992.9L1338.4 990.9L1338.7 988.9L1339.0 987.0L1339.2 985.0L1339.5 983.0L1339.8 981.0L1340.0 979.1L1340.3 977.1L1340.6 975.1L1340.8 973.1L1341.1 971.1L1341.4 969.2L1341.7 967.2L1341.9 965.2L1342.2 963.2L1342.5 961.3L1342.8 959.3L1343.0 957.3L1343.3 955.3L1343.6 953.4L1343.9 951.4L1344.2 949.4L1344.5 947.4L1344.7 945.5L1345.0 943.5L1345.3 941.5L1345.6 939.5L1345.9 937.6L1346.2 935.6L1346.5 933.6L1346.8 931.6L1347.1 929.6L1347.4 927.6L1347.8 925.7L1348.1 923.7L1348.4 921.7L1348.8 919.7L1349.1 917.7L1349.5 915.7L1349.9 913.7L1350.3 911.7L1350.9 909.7L1351.6 907.8L1352.6 906.1L1353.9 904.6L1355.4 903.9L1357.0 904.5L1358.4 905.9L1359.4 907.7L1360.1 909.6L1360.6 911.6L1360.9 913.7L1361.1 915.8L1361.4 917.8L1361.7 919.8L1362.0 921.8L1362.2 923.8L1362.5 925.8L1362.8 927.7L1363.1 929.7L1363.4 931.7L1363.7 933.6L1364.0 935.6L1364.2 937.6L1364.5 939.6L1364.8 941.5L1365.0 943.5L1365.3 945.5L1365.6 947.5L1365.8 949.4L1366.1 951.4L1366.3 953.4L1366.6 955.4L1366.8 957.4L1367.1 959.3L1367.3 961.3L1367.5 963.3L1367.8 965.3L1368.0 967.3L1368.2 969.3L1368.5 971.3L1368.7 973.3L1368.9 975.2L1369.1 977.2L1369.4 979.2L1369.6 981.2L1369.8 983.2L1370.0 985.2L1370.2 987.2L1370.4 989.2L1370.7 991.2L1370.9 993.2L1371.1 995.2L1371.3 997.2L1371.5 999.2L1371.7 1001.1L1371.9 1003.1L1372.1 1005.1L1372.3 1007.1L1372.5 1009.1L1372.7 1011.1L1372.9 1013.1L1373.1 1015.1L1373.4 1017.1L1373.6 1019.1L1373.8 1021.1L1374.0 1023.1L1374.2 1025.0L1374.4 1027.0L1374.6 1029.0L1374.8 1031.0L1375.0 1033.0L1375.2 1035.0L1375.4 1037.0L1375.7 1039.0L1375.9 1040.9L1376.1 1042.9L1376.3 1044.9L1376.6 1046.9L1376.8 1048.9L1377.0 1050.9L1377.2 1052.9L1377.5 1054.8L1377.7 1056.8L1378.0 1058.8L1378.2 1060.8L1378.5 1062.8L1378.7 1064.8L1379.0 1066.7L1379.2 1068.7L1379.5 1070.7L1379.8 1072.7L1380.0 1074.7L1380.3 1076.6L1380.6 1078.6L1380.9 1080.6L1381.1 1082.6L1381.4 1084.6L1381.7 1086.6L1382.0 1088.5L1382.3 1090.5L1382.5 1092.5L1382.8 1094.5L1383.1 1096.5L1383.3 1098.4L1383.6 1100.4L1383.9 1102.4L1384.1 1104.4L1384.4 1106.4L1384.6 1108.4L1384.8 1110.4L1385.1 1112.3L1385.3 1114.3L1385.5 1116.3L1385.7 1118.3L1386.0 1120.3L1386.2 1122.3L1386.4 1124.3L1386.6 1126.3L1386.8 1128.3L1387.0 1130.3L1387.2 1132.2L1387.4 1134.2L1387.5 1136.2L1387.7 1138.2L1387.9 1140.2L1388.1 1142.2L1388.3 1144.2L1388.4 1146.2L1388.6 1148.2L1388.8 1150.2L1389.0 1152.2L1389.1 1154.2L1389.3 1156.2L1389.5 1158.2L1389.7 1160.2L1389.8 1162.2L1390.0 1164.2L1390.2 1166.1L1390.4 1168.1L1390.5 1170.1L1390.7 1172.1L1390.9 1174.1L1391.1 1176.1L1391.2 1178.1L1391.4 1180.1L1391.6 1182.1L1391.8 1184.1L1392.0 1186.1L1392.2 1188.1L1392.4 1190.1L1392.6 1192.1L1392.8 1194.0L1393.0 1196.0L1393.2 1198.0L1393.4 1200.0L1393.6 1202.0L1393.9 1204.0L1394.1 1206.0L1394.3 1208.0L1394.6 1209.9L1394.8 1211.9L1395.0 1213.9L1395.3 1215.9L1395.6 1217.9L1395.8 1219.9L1396.1 1221.8L1396.4 1223.8L1396.7 1225.8L1396.9 1227.8L1397.2 1229.8L1397.5 1231.7L1397.9 1233.7L1398.2 1235.7L1398.5 1237.6L1398.8 1239.6L1399.2 1241.6L1399.5 1243.6L1399.9 1245.5L1400.3 1247.5L1400.6 1249.5L1401.0 1251.4L1401.4 1253.4L1401.8 1255.3L1402.2 1257.3L1402.6 1259.3L1403.1 1261.2L1403.5 1263.2L1403.9 1265.1L1404.4 1267.1L1404.9 1269.0L1405.3 1271.0L1405.8 1272.9L1406.3 1274.9L1406.8 1276.8L1407.3 1278.7L1407.9 1280.7L1408.4 1282.6L1409.0 1284.5L1409.5 1286.5L1410.1 1288.4L1410.7 1290.3L1411.3 1292.3L1411.9 1294.2L1412.5 1296.1L1413.2 1298.0L1413.9 1299.9L1414.6 1301.8L1415.3 1303.6L1416.1 1305.5L1416.9 1307.3L1417.7 1309.1L1418.6 1310.9L1419.5 1312.6L1420.5 1314.3L1421.5 1316.0L1422.6 1317.6L1423.8 1319.2L1425.0 1320.8L1426.2 1322.3L1427.5 1323.8L1428.9 1325.2L1430.4 1326.6L1431.9 1327.9L1433.6 1329.2L1435.2 1330.4L1437.0 1331.5L1438.9 1332.5L1440.8 1333.4L1442.7 1334.2L1444.7 1334.7L1446.7 1334.9L1448.6 1334.9L1450.6 1334.6L1452.6 1334.1L1454.5 1333.4L1456.3 1332.6L1458.1 1331.7L1459.8 1330.7L1461.5 1329.7L1463.1 1328.6L1464.8 1327.6L1466.5 1326.5L1468.2 1325.5L1470.1 1324.5L1471.9 1323.6L1473.9 1322.9L1475.8 1322.2L1477.8 1321.8L1479.8 1321.6L1481.8 1321.6L1483.7 1321.9L1485.7 1322.4L1487.6 1323.2L1489.4 1324.1L1491.1 1325.1L1492.8 1326.2L1494.4 1327.3L1495.9 1328.5L1497.4 1329.7L1498.8 1331.0L1500.2 1332.3L1501.6 1333.7L1503.0 1335.1L1504.3 1336.5L1505.7 1338.0L1507.1 1339.4L1508.5 1340.9L1509.9 1342.4L1511.4 1343.8L1512.9 1345.3L1514.4 1346.7L1515.9 1348.1L1517.5 1349.5L1519.1 1350.9L1520.7 1352.2L1522.4 1353.4L1524.1 1354.6L1525.8 1355.7L1527.5 1356.7L1529.2 1357.6L1531.0 1358.5L1532.8 1359.3L1534.6 1360.0L1536.5 1360.7L1538.3 1361.3L1540.2 1361.8L1542.1 1362.3L1544.0 1362.7L1545.9 1363.1L1547.9 1363.4L1549.8 1363.7L1551.8 1363.9L1553.8 1364.2L1555.8 1364.4L1557.7 1364.5L1559.7 1364.7L1561.7 1364.8L1563.7 1364.9L1565.8 1365.0L1567.8 1365.1L1569.8 1365.2L1571.8 1365.2L1573.8 1365.3L1575.8 1365.4L1577.8 1365.5L1579.8 1365.6L1581.8 1365.6L1583.8 1365.7L1585.8 1365.8L1587.9 1365.9L1589.9 1365.9L1591.9 1366.0L1593.9 1366.1L1595.9 1366.1L1597.9 1366.2L1599.9 1366.3L1601.9 1366.3L1603.9 1366.4L1605.9 1366.5L1607.9 1366.5L1609.9 1366.6L1611.9 1366.7L1613.9 1366.7L1615.9 1366.8L1617.9 1366.9L1619.9 1366.9L1621.9 1367.0L1623.9 1367.0L1625.9 1367.1L1627.9 1367.1L1629.9 1367.2L1631.9 1367.3L1634.0 1367.3L1636.0 1367.4L1638.0 1367.4L1640.0 1367.5L1642.0 1367.5L1644.0 1367.6L1646.0 1367.6L1648.0 1367.7L1650.0 1367.7L1651.9 1367.8L1653.9 1367.8L1655.9 1367.9L1657.9 1367.9L1659.9 1368.0L1661.9 1368.0L1663.9 1368.0L1665.9 1368.1L1667.9 1368.1L1669.9 1368.2L1671.9 1368.2L1673.9 1368.2L1675.9 1368.3L1677.9 1368.3L1679.9 1368.4L1681.9 1368.4L1683.9 1368.4L1685.9 1368.5L1687.9 1368.5L1689.9 1368.5L1691.9 1368.6L1693.9 1368.6L1695.9 1368.6L1697.9 1368.7L1699.9 1368.7L1701.9 1368.7L1703.9 1368.7L1705.9 1368.8L1707.9 1368.8L1709.9 1368.8L1711.9 1368.9L1713.9 1368.9L1715.9 1368.9L1717.9 1368.9L1719.8 1369.0L1721.8 1369.0L1723.8 1369.0L1725.8 1369.0L1727.8 1369.0L1729.8 1369.1L1731.8 1369.1L1733.8 1369.1L1735.8 1369.1L1737.8 1369.1L1739.8 1369.1L1741.8 1369.2L1743.8 1369.2L1745.8 1369.2L1747.8 1369.2L1749.8 1369.2L1751.8 1369.2L1753.8 1369.3L1755.8 1369.3L1757.8 1369.3L1759.8 1369.3L1761.8 1369.3L1763.8 1369.3L1765.8 1369.3L1767.8 1369.3L1769.8 1369.3L1771.8 1369.3L1773.8 1369.3L1775.8 1369.4L1777.8 1369.4L1779.8 1369.4L1781.8 1369.4L1783.8 1369.4L1785.7 1369.4L1787.7 1369.4L1789.7 1369.4L1791.7 1369.4L1793.7 1369.4L1795.7 1369.4L1797.7 1369.4L1799.7 1369.4L1801.7 1369.4L1803.7 1369.4L1805.8 1369.4L1807.8 1369.4L1809.8 1369.4L1811.8 1369.4L1813.8 1369.4L1815.8 1369.4L1817.8 1369.4L1819.8 1369.4L1821.8 1369.4L1823.8 1369.4L1825.8 1369.3L1827.8 1369.3L1829.8 1369.3L1831.8 1369.3L1833.8 1369.3L1835.8 1369.3L1837.8 1369.3L1839.8 1369.3L1841.8 1369.3L1843.8 1369.3L1845.8 1369.3L1847.8 1369.2L1849.8 1369.2L1851.9 1369.2L1853.9 1369.2L1855.9 1369.2L1857.9 1369.2L1859.9 1369.2L1861.9 1369.2L1863.9 1369.1L1865.9 1369.1L1867.9 1369.1L1869.9 1369.1L1872.0 1369.1L1874.0 1369.1L1876.0 1369.0L1878.0 1369.0L1880.0 1369.0"/>
<path stroke="#F47206" d="M239.6 1086.0L240.3 1087.9L240.9 1089.8L241.5 1091.8L242.1 1093.7L242.7 1095.6L243.2 1097.5L243.7 1099.5L244.2 1101.4L244.7 1103.3L245.2 1105.3L245.7 1107.2L246.1 1109.1L246.6 1111.1L247.0 1113.0L247.5 1115.0L247.9 1116.9L248.4 1118.9L248.8 1120.8L249.3 1122.7L249.7 1124.7L250.2 1126.6L250.7 1128.6L251.2 1130.5L251.7 1132.5L252.3 1134.4L252.8 1136.3L253.4 1138.3L254.0 1140.2L254.7 1142.1L255.4 1144.0L256.1 1145.8L256.9 1147.7L257.8 1149.4L258.7 1151.2L259.8 1152.9L260.9 1154.5L262.1 1156.0L263.4 1157.5L264.8 1158.9L266.3 1160.3L267.9 1161.5L269.5 1162.8L271.2 1164.1L272.7 1165.3L274.2 1166.7L275.6 1168.1L276.9 1169.7L278.1 1171.2L279.4 1172.8L280.7 1174.2L282.2 1175.6L283.7 1176.9L285.3 1178.1L286.9 1179.3L288.6 1180.4L290.3 1181.5L291.9 1182.5L293.6 1183.5L295.3 1184.5L297.1 1185.5L298.9 1186.4L300.7 1187.2L302.5 1188.1L304.3 1188.9L306.2 1189.7L308.0 1190.6L309.9 1191.4L311.7 1192.2L313.5 1193.0L315.4 1193.9L317.2 1194.8L318.9 1195.7L320.7 1196.6L322.4 1197.6L324.1 1198.6L325.8 1199.7L327.4 1200.8L329.0 1201.9L330.6 1203.0L332.2 1204.2L333.8 1205.4L335.4 1206.6L336.9 1207.9L338.5 1209.1L340.0 1210.4L341.6 1211.7L343.1 1213.0L344.7 1214.3L346.2 1215.6L347.8 1216.9L349.3 1218.2L350.9 1219.5L352.5 1220.8L354.1 1222.1L355.7 1223.3L357.4 1224.5L359.1 1225.6L360.8 1226.6L362.6 1227.5L364.3 1228.2L366.2 1228.9L368.1 1229.4L370.0 1229.7L372.0 1229.9L374.0 1229.9L376.0 1229.7L378.0 1229.5L380.0 1229.1L382.0 1228.6L383.9 1228.0L385.8 1227.4L387.7 1226.7L389.5 1225.9L391.3 1225.0L393.1 1224.1L394.9 1223.1L396.6 1222.1L398.3 1221.0L400.0 1219.9L401.6 1218.7L403.2 1217.6L404.8 1216.4L406.4 1215.1L408.0 1213.9L409.6 1212.7L411.1 1211.4L412.7 1210.2L414.3 1209.0L415.8 1207.7L417.4 1206.5L419.0 1205.3L420.6 1204.1L422.3 1203.0L423.9 1201.8L425.5 1200.6L427.2 1199.4L428.8 1198.2L430.4 1197.0L431.9 1195.7L433.4 1194.5L434.9 1193.1L436.4 1191.8L437.7 1190.3L439.1 1188.9L440.4 1187.4L441.7 1185.9L443.0 1184.3L444.2 1182.7L445.4 1181.2L446.7 1179.6L447.9 1178.0L449.1 1176.4L450.3 1174.8L451.6 1173.2L452.9 1171.7L454.1 1170.1L455.4 1168.6L456.7 1167.1L458.0 1165.6L459.4 1164.0L460.7 1162.5L462.0 1161.0L463.4 1159.5L464.7 1158.1L466.0 1156.6L467.4 1155.1L468.7 1153.6L470.1 1152.1L471.4 1150.6L472.8 1149.1L474.1 1147.6L475.4 1146.1L476.7 1144.6L478.0 1143.1L479.4 1141.6L480.6 1140.1L481.9 1138.6L483.2 1137.0L484.5 1135.5L485.7 1133.9L486.9 1132.3L488.1 1130.7L489.3 1129.1L490.5 1127.5L491.7 1125.9L492.8 1124.3L493.9 1122.6L495.1 1121.0L496.2 1119.3L497.3 1117.6L498.4 1116.0L499.5 1114.3L500.6 1112.6L501.7 1110.9L502.8 1109.3L503.9 1107.6L505.0 1105.9L506.1 1104.3L507.3 1102.6L508.4 1100.9L509.5 1099.3L510.7 1097.7L511.8 1096.0L513.0 1094.4L514.2 1092.8L515.4 1091.2L516.6 1089.6L517.8 1088.0L519.0 1086.4L520.2 1084.8L521.4 1083.2L522.6 1081.6L523.8 1080.0L525.0 1078.4L526.2 1076.8L527.4 1075.2L528.6 1073.6L529.8 1072.0L531.0 1070.4L532.2 1068.8L533.4 1067.1L534.5 1065.5L535.7 1063.8L536.8 1062.2L537.9 1060.5L539.0 1058.9L540.1 1057.2L541.2 1055.5L542.3 1053.8L543.3 1052.1L544.4 1050.4L545.4 1048.6L546.4 1046.9L547.4 1045.2L548.4 1043.4L549.3 1041.7L550.3 1039.9L551.2 1038.1L552.1 1036.3L553.0 1034.5L553.8 1032.7L554.6 1030.9L555.5 1029.1L556.3 1027.3L557.0 1025.4L557.8 1023.6L558.5 1021.8L559.3 1019.9L560.0 1018.0L560.7 1016.2L561.3 1014.3L562.0 1012.4L562.6 1010.5L563.3 1008.6L563.9 1006.7L564.5 1004.8L565.0 1002.9L565.6 1001.0L566.2 999.1L566.7 997.2L567.2 995.2L567.8 993.3L568.3 991.4L568.8 989.4L569.3 987.5L569.7 985.5L570.2 983.6L570.7 981.6L571.1 979.7L571.6 977.7L572.0 975.7L572.5 973.8L572.9 971.8L573.3 969.9L573.7 967.9L574.2 965.9L574.6 963.9L575.0 962.0L575.4 960.0L575.8 958.0L576.2 956.1L576.6 954.1L577.0 952.1L577.4 950.1L577.8 948.2L578.1 946.2L578.5 944.2L578.9 942.3L579.3 940.3L579.7 938.3L580.1 936.4L580.5 934.4L581.0 932.5L581.4 930.5L581.8 928.6L582.2 926.6L582.6 924.7L583.1 922.7L583.5 920.8L583.9 918.8L584.3 916.9L584.8 914.9L585.2 913.0L585.7 911.1L586.1 909.1L586.6 907.2L587.0 905.2L587.5 903.3L587.9 901.4L588.4 899.4L588.8 897.5L589.3 895.5L589.8 893.6L590.2 891.6L590.7 889.7L591.2 887.8L591.6 885.8L592.1 883.9L592.6 881.9L593.0 879.9L593.5 878.0L594.0 876.0L594.5 874.1L595.0 872.1L595.5 870.2L596.0 868.2L596.6 866.3L597.1 864.4L597.8 862.5L598.4 860.6L599.1 858.7L599.8 856.9L600.6 855.0L601.5 853.3L602.4 851.5L603.3 849.7L604.3 848.0L605.4 846.3L606.5 844.7L607.7 843.0L608.9 841.4L610.1 839.8L611.4 838.2L612.6 836.6L613.8 835.0L615.0 833.3L616.0 831.6L617.0 829.9L618.0 828.2L618.9 826.4L619.7 824.6L620.5 822.8L621.3 820.9L622.0 819.1L622.7 817.2L623.4 815.4L624.1 813.5L624.7 811.6L625.4 809.7L626.1 807.8L626.7 805.9L627.4 804.0L628.0 802.1L628.7 800.2L629.3 798.3L630.0 796.4L630.7 794.5L631.3 792.6L632.0 790.7L632.6 788.8L633.3 786.9L633.9 785.0L634.6 783.1L635.2 781.2L635.8 779.3L636.5 777.4L637.1 775.5L637.7 773.6L638.3 771.7L638.9 769.8L639.5 767.9L640.1 766.0L640.7 764.1L641.3 762.2L641.9 760.2L642.4 758.3L643.0 756.4L643.5 754.5L644.1 752.5L644.6 750.6L645.1 748.7L645.6 746.8L646.1 744.8L646.6 742.9L647.1 740.9L647.5 739.0L648.0 737.1L648.4 735.1L648.9 733.2L649.3 731.2L649.7 729.3L650.1 727.3L650.5 725.3L650.9 723.4L651.3 721.4L651.7 719.5L652.1 717.5L652.5 715.6L652.8 713.6L653.2 711.6L653.5 709.7L653.9 707.7L654.2 705.7L654.6 703.7L654.9 701.8L655.2 699.8L655.5 697.8L655.8 695.8L656.1 693.9L656.4 691.9L656.7 689.9L657.0 687.9L657.3 686.0L657.6 684.0L657.8 682.0L658.1 680.0L658.4 678.0L658.6 676.0L658.9 674.1L659.1 672.1L659.4 670.1L659.6 668.1L659.9 666.1L660.1 664.1L660.4 662.1L660.6 660.1L660.8 658.2L661.1 656.2L661.3 654.2L661.5 652.2L661.7 650.2L661.9 648.2L662.2 646.2L662.4 644.2L662.6 642.2L662.8 640.2L663.0 638.2L663.2 636.3L663.4 634.3L663.6 632.3L663.8 630.3L664.0 628.3L664.2 626.3L664.4 624.3L664.6 622.3L664.8 620.3L665.0 618.3L665.2 616.3L665.4 614.3L665.6 612.4L665.8 610.4L666.0 608.4L666.2 606.4L666.3 604.4L666.5 602.4L666.7 600.4L666.9 598.4L667.1 596.4L667.2 594.4L667.4 592.4L667.6 590.4L667.8 588.4L667.9 586.4L668.1 584.4L668.3 582.4L668.4 580.5L668.6 578.5L668.8 576.5L668.9 574.5L669.1 572.5L669.2 570.5L669.4 568.5L669.6 566.5L669.7 564.5L669.9 562.5L670.0 560.5L670.2 558.5L670.3 556.5L670.5 554.5L670.6 552.5L670.8 550.5L670.9 548.5L671.1 546.5L671.2 544.5L671.4 542.5L671.5 540.5L671.7 538.6L671.8 536.6L672.0 534.6L672.1 532.6L672.2 530.6L672.4 528.6L672.5 526.6L672.7 524.6L672.8 522.6L672.9 520.6L673.1 518.6L673.2 516.6L673.4 514.6L673.5 512.6L673.6 510.6L673.8 508.6L673.9 506.6L674.0 504.6L674.2 502.6L674.3 500.6L674.4 498.6L674.6 496.6L674.7 494.6L674.8 492.6L675.0 490.6L675.1 488.6L675.2 486.6L675.3 484.7L675.5 482.7L675.6 480.7L675.7 478.7L675.9 476.7L676.0 474.7L676.1 472.7L676.3 470.7L676.4 468.7L676.5 466.7L676.6 464.7L676.8 462.7L676.9 460.7L677.0 458.7L677.1 456.7L677.3 454.7L677.4 452.7L677.5 450.7L677.7 448.7L677.8 446.7L677.9 444.7L678.0 442.7L678.2 440.7L678.3 438.7L678.4 436.7L678.6 434.7L678.7 432.7L678.8 430.7L679.0 428.7L679.1 426.7L679.2 424.8L679.3 422.8L679.5 420.8L679.6 418.8L679.7 416.8L679.9 414.8L680.0 412.8L680.1 410.8L680.3 408.8L680.4 406.8L680.5 404.8L680.7 402.8L680.8 400.8L680.9 398.8L681.1 396.8L681.2 394.8L681.4 392.8L681.5 390.8L681.6 388.8L681.8 386.8L681.9 384.8L682.1 382.8L682.2 380.8L682.3 378.9L682.5 376.9L682.6 374.9L682.8 372.9L682.9 370.9L683.1 368.9L683.2 366.9L683.4 364.9L683.5 362.9L683.7 360.9L683.8 358.9L684.0 356.9L684.1 354.9L684.3 352.9L684.4 350.9L684.6 348.9L684.7 346.9L684.9 344.9L685.0 342.9L685.2 341.0L685.3 339.0L685.5 337.0L685.6 335.0L685.8 333.0L685.9 331.0L686.1 329.0L686.3 327.0L686.4 325.0L686.6 323.0L686.7 321.0L686.9 319.0L687.1 317.0L687.2 315.0L687.4 313.0L687.5 311.0L687.7 309.0L687.9 307.0L688.0 305.1L688.2 303.1L688.3 301.1L688.5 299.1L688.7 297.1L688.8 295.1L689.0 293.1L689.1 291.1L689.3 289.1L689.5 287.1L689.6 285.1L689.8 283.1L690.0 281.1L690.1 279.1L690.3 277.1L690.5 275.1L690.6 273.1L690.8 271.1L691.0 269.1L691.1 267.1L691.3 265.1L691.5 263.2L691.6 261.2L691.8 259.2L692.0 257.2L692.1 255.2L692.3 253.2L692.5 251.2L692.6 249.2L692.8 247.2L693.0 245.2L693.1 243.2L693.3 241.2L693.5 239.2L693.7 237.2L693.8 235.2L694.0 233.2L694.2 231.2L694.3 229.2L694.5 227.2L694.7 225.2L694.8 223.2L695.0 221.2L695.2 219.2L695.3 217.2L695.5 215.2L695.7 213.2L695.9 211.2L696.0 209.2L696.2 207.2L696.4 205.3L696.6 203.3L696.7 201.3L696.9 199.3L697.1 197.3L697.3 195.3L697.5 193.3L697.7 191.4L697.9 189.4L698.1 187.4L698.3 185.4L698.5 183.5L698.7 181.5L698.9 179.6L699.1 177.6L699.3 175.6L699.5 173.7L699.8 171.7L700.0 169.7L700.2 167.8L700.5 165.8L700.7 163.8L701.0 161.8L701.2 159.7L701.5 157.7L701.8 155.6L702.0 153.5L702.3 151.4L702.6 149.2L703.0 147.1L703.5 145.2L704.3 143.8L705.1 143.5L705.9 144.8L706.5 146.6L707.1 148.4L707.5 150.4L708.0 152.3L708.3 154.3L708.6 156.4L708.9 158.4L709.2 160.5L709.4 162.5L709.6 164.6L709.8 166.6L710.0 168.6L710.2 170.6L710.4 172.6L710.6 174.6L710.8 176.6L711.0 178.6L711.1 180.5L711.3 182.5L711.5 184.5L711.6 186.5L711.8 188.5L711.9 190.5L712.1 192.4L712.3 194.4L712.4 196.4L712.6 198.4L712.7 200.4L712.8 202.4L713.0 204.4L713.1 206.4L713.3 208.3L713.4 210.3L713.6 212.3L713.7 214.3L713.8 216.3L714.0 218.3L714.1 220.3L714.2 222.3L714.3 224.3L714.5 226.3L714.6 228.3L714.7 230.3L714.9 232.3L715.0 234.3L715.1 236.3L715.2 238.3L715.4 240.3L715.5 242.3L715.6 244.3L715.7 246.3L715.8 248.3L716.0 250.2L716.1 252.2L716.2 254.2L716.3 256.2L716.4 258.2L716.6 260.2L716.7 262.2L716.8 264.2L716.9 266.2L717.0 268.2L717.2 270.2L717.3 272.2L717.4 274.2L717.5 276.2L717.6 278.2L717.8 280.2L717.9 282.2L718.0 284.2L718.1 286.2L718.2 288.2L718.4 290.2L718.5 292.2L718.6 294.2L718.7 296.2L718.9 298.2L719.0 300.2L719.1 302.2L719.2 304.2L719.4 306.2L719.5 308.2L719.6 310.2L719.8 312.2L719.9 314.2L720.0 316.2L720.2 318.2L720.3 320.2L720.4 322.2L720.6 324.2L720.7 326.2L720.8 328.2L720.9 330.2L721.1 332.2L721.2 334.2L721.4 336.2L721.5 338.2L721.6 340.2L721.8 342.2L721.9 344.2L722.0 346.2L722.2 348.2L722.3 350.2L722.4 352.2L722.6 354.2L722.7 356.1L722.9 358.1L723.0 360.1L723.1 362.1L723.3 364.1L723.4 366.1L723.5 368.1L723.7 370.1L723.8 372.1L724.0 374.1L724.1 376.1L724.2 378.1L724.4 380.1L724.5 382.1L724.7 384.1L724.8 386.1L724.9 388.1L725.1 390.1L725.2 392.1L725.4 394.1L725.5 396.1L725.7 398.1L725.8 400.1L725.9 402.1L726.1 404.0L726.2 406.0L726.4 408.0L726.5 410.0L726.6 412.0L726.8 414.0L726.9 416.0L727.1 418.0L727.2 420.0L727.3 422.0L727.5 424.0L727.6 426.0L727.8 428.0L727.9 430.0L728.1 432.0L728.2 434.0L728.3 436.0L728.5 438.0L728.6 440.0L728.8 442.0L728.9 444.0L729.0 445.9L729.2 447.9L729.3 449.9L729.5 451.9L729.6 453.9L729.7 455.9L729.9 457.9L730.0 459.9L730.1 461.9L730.3 463.9L730.4 465.9L730.6 467.9L730.7 469.9L730.8 471.9L731.0 473.9L731.1 475.9L731.2 477.9L731.4 479.9L731.5 481.9L731.7 483.9L731.8 485.9L731.9 487.9L732.1 489.9L732.2 491.9L732.3 493.9L732.5 495.8L732.6 497.8L732.7 499.8L732.9 501.8L733.0 503.8L733.1 505.8L733.2 507.8L733.4 509.8L733.5 511.8L733.6 513.8L733.8 515.8L733.9 517.8L734.0 519.8L734.1 521.8L734.3 523.8L734.4 525.8L734.5 527.8L734.6 529.8L734.8 531.8L734.9 533.8L735.0 535.8L735.1 537.8L735.3 539.8L735.4 541.8L735.5 543.8L735.6 545.8L735.7 547.8L735.9 549.8L736.0 551.8L736.1 553.8L736.2 555.8L736.3 557.8L736.5 559.8L736.6 561.8L736.7 563.8L736.8 565.8L737.0 567.8L737.1 569.8L737.2 571.8L737.4 573.8L737.5 575.8L737.7 577.8L737.8 579.7L738.0 581.7L738.2 583.7L738.4 585.7L738.5 587.7L738.7 589.7L739.0 591.7L739.2 593.7L739.4 595.7L739.7 597.6L739.9 599.6L740.2 601.6L740.5 603.6L740.8 605.6L741.1 607.5L741.4 609.5L741.7 611.5L742.0 613.4L742.4 615.4L742.7 617.4L743.0 619.4L743.3 621.3L743.6 623.3L743.9 625.3L744.2 627.3L744.5 629.3L744.8 631.2L745.0 633.2L745.3 635.2L745.5 637.2L745.8 639.2L746.0 641.2L746.2 643.2L746.5 645.1L746.7 647.1L746.9 649.1L747.1 651.1L747.3 653.1L747.5 655.1L747.7 657.1L747.9 659.1L748.1 661.1L748.3 663.1L748.4 665.1L748.6 667.1L748.8 669.1L749.0 671.1L749.2 673.1L749.3 675.1L749.5 677.1L749.7 679.1L749.9 681.0L750.0 683.0L750.2 685.0L750.4 687.0L750.5 689.0L750.7 691.0L750.9 693.0L751.0 695.0L751.2 697.0L751.4 699.0L751.5 701.0L751.7 703.0L751.8 705.0L752.0 707.0L752.1 709.0L752.3 711.0L752.4 713.0L752.6 715.0L752.8 717.0L752.9 719.0L753.1 720.9L753.2 722.9L753.3 724.9L753.5 726.9L753.6 728.9L753.8 730.9L753.9 732.9L754.1 734.9L754.2 736.9L754.4 738.9L754.5 740.9L754.6 742.9L754.8 744.9L754.9 746.9L755.1 748.9L755.2 750.9L755.3 752.9L755.5 754.9L755.6 756.8L755.7 758.8L755.9 760.8L756.0 762.8L756.2 764.8L756.3 766.8L756.4 768.8L756.6 770.8L756.7 772.8L756.8 774.8L757.0 776.8L757.1 778.8L757.2 780.8L757.3 782.8L757.5 784.8L757.6 786.8L757.7 788.8L757.9 790.8L758.0 792.7L758.1 794.7L758.3 796.7L758.4 798.7L758.5 800.7L758.7 802.7L758.8 804.7L758.9 806.7L759.0 808.7L759.2 810.7L759.3 812.7L759.4 814.7L759.6 816.7L759.7 818.7L759.8 820.7L759.9 822.7L760.1 824.7L760.2 826.7L760.3 828.7L760.5 830.7L760.6 832.7L760.7 834.6L760.9 836.6L761.0 838.6L761.1 840.6L761.3 842.6L761.4 844.6L761.5 846.6L761.7 848.6L761.8 850.6L761.9 852.6L762.1 854.6L762.2 856.6L762.3 858.6L762.5 860.6L762.6 862.6L762.7 864.6L762.9 866.6L763.0 868.6L763.2 870.6L763.3 872.6L763.4 874.6L763.6 876.6L763.7 878.6L763.9 880.6L764.0 882.6L764.1 884.6L764.3 886.6L764.4 888.6L764.6 890.6L764.7 892.6L764.9 894.5L765.0 896.5L765.1 898.5L765.3 900.5L765.4 902.5L765.6 904.5L765.7 906.5L765.9 908.5L766.0 910.5L766.2 912.5L766.3 914.5L766.5 916.5L766.6 918.5L766.8 920.5L766.9 922.5L767.1 924.5L767.2 926.5L767.3 928.5L767.5 930.5L767.6 932.5L767.8 934.5L767.9 936.5L768.1 938.5L768.2 940.5L768.4 942.5L768.6 944.5L768.7 946.5L768.9 948.5L769.0 950.5L769.2 952.5L769.3 954.5L769.5 956.5L769.6 958.5L769.8 960.5L769.9 962.5L770.1 964.5L770.2 966.5L770.4 968.5L770.5 970.5L770.7 972.5L770.8 974.5L771.0 976.5L771.1 978.5L771.3 980.5L771.4 982.5L771.6 984.5L771.7 986.5L771.9 988.5L772.1 990.5L772.2 992.5L772.4 994.4L772.5 996.4L772.7 998.4L772.8 1000.4L773.0 1002.4L773.1 1004.4L773.3 1006.4L773.4 1008.4L773.6 1010.4L773.7 1012.4L773.9 1014.4L774.0 1016.4L774.2 1018.4L774.3 1020.4L774.5 1022.4L774.6 1024.4L774.8 1026.4L774.9 1028.4L775.1 1030.4L775.2 1032.4L775.4 1034.4L775.5 1036.4L775.7 1038.4L775.8 1040.4L776.0 1042.4L776.1 1044.4L776.3 1046.4L776.4 1048.3L776.6 1050.3L776.7 1052.3L776.9 1054.3L777.0 1056.3L777.2 1058.3L777.3 1060.3L777.5 1062.3L777.6 1064.3L777.8 1066.3L777.9 1068.3L778.0 1070.3L778.2 1072.3L778.3 1074.3L778.5 1076.3L778.6 1078.3L778.8 1080.3L778.9 1082.2L779.1 1084.2L779.2 1086.2L779.3 1088.2L779.5 1090.2L779.6 1092.2L779.8 1094.2L779.9 1096.2L780.0 1098.2L780.2 1100.2L780.3 1102.2L780.4 1104.2L780.6 1106.2L780.7 1108.1L780.9 1110.1L781.0 1112.1L781.1 1114.1L781.3 1116.1L781.4 1118.1L781.6 1120.1L781.7 1122.1L781.8 1124.1L782.0 1126.1L782.1 1128.0L782.3 1130.0L782.4 1132.0L782.5 1134.0L782.7 1136.0L782.8 1138.0L783.0 1140.0L783.1 1142.0L783.3 1144.0L783.5 1145.9L783.6 1147.9L783.8 1149.9L783.9 1151.9L784.1 1153.9L784.3 1155.9L784.4 1157.9L784.6 1159.9L784.8 1161.9L785.0 1163.8L785.2 1165.8L785.3 1167.8L785.5 1169.8L785.7 1171.8L785.9 1173.8L786.1 1175.8L786.3 1177.8L786.5 1179.7L786.8 1181.7L787.0 1183.7L787.2 1185.7L787.4 1187.7L787.7 1189.7L787.9 1191.7L788.1 1193.7L788.4 1195.6L788.6 1197.6L788.9 1199.6L789.1 1201.6L789.4 1203.6L789.7 1205.6L790.0 1207.6L790.2 1209.6L790.5 1211.6L790.8 1213.5L791.1 1215.5L791.4 1217.5L791.7 1219.5L792.1 1221.5L792.4 1223.5L792.7 1225.5L793.1 1227.5L793.4 1229.5L793.8 1231.4L794.1 1233.4L794.5 1235.4L794.9 1237.4L795.3 1239.4L795.6 1241.4L796.0 1243.4L796.5 1245.4L796.9 1247.4L797.3 1249.3L797.7 1251.3L798.2 1253.3L798.6 1255.3L799.1 1257.3L799.5 1259.3L800.0 1261.3L800.5 1263.3L801.0 1265.2L801.5 1267.2L802.1 1269.2L802.6 1271.1L803.2 1273.0L803.9 1274.9L804.5 1276.8L805.2 1278.7L806.0 1280.5L806.8 1282.3L807.6 1284.0L808.5 1285.8L809.4 1287.5L810.4 1289.1L811.4 1290.7L812.5 1292.3L813.6 1293.8L814.8 1295.2L816.1 1296.6L817.5 1298.0L818.9 1299.3L820.4 1300.5L822.0 1301.7L823.6 1302.8L825.3 1303.8L827.0 1304.8L828.8 1305.7L830.7 1306.6L832.6 1307.5L834.5 1308.2L836.4 1309.0L838.4 1309.6L840.3 1310.3L842.3 1310.9L844.3 1311.4L846.3 1311.9L848.3 1312.4L850.3 1312.8L852.3 1313.2L854.3 1313.5L856.3 1313.8L858.3 1314.1L860.2 1314.3L862.2 1314.5L864.2 1314.7L866.2 1314.9L868.2 1315.0L870.2 1315.1L872.1 1315.2L874.1 1315.3L876.1 1315.4L878.1 1315.4L880.1 1315.5L882.1 1315.5L884.1 1315.4L886.1 1315.4L888.0 1315.4L890.0 1315.3L892.0 1315.2L894.0 1315.2L896.0 1315.1L898.0 1315.0L900.0 1314.8L902.0 1314.7L904.0 1314.6L906.0 1314.4L908.0 1314.3L910.0 1314.1L911.9 1313.9L913.9 1313.7L915.9 1313.6L917.9 1313.4L919.9 1313.2L921.9 1313.0L923.9 1312.8L925.9 1312.6L927.9 1312.4L929.9 1312.2L931.9 1311.9L933.9 1311.7L935.9 1311.5L937.9 1311.3L939.9 1311.1L941.9 1310.9L943.9 1310.7L945.9 1310.6L947.9 1310.4L949.8 1310.2L951.8 1310.0L953.8 1309.8L955.8 1309.7L957.8 1309.5L959.8 1309.4L961.8 1309.2L963.8 1309.1L965.8 1308.9L967.8 1308.8L969.8 1308.7L971.8 1308.5L973.8 1308.4L975.8 1308.3L977.8 1308.1L979.8 1308.0L981.8 1307.9L983.8 1307.8L985.8 1307.7L987.8 1307.5L989.7 1307.4L991.7 1307.3L993.7 1307.2L995.7 1307.1L997.7 1307.0L999.7 1306.9L1001.7 1306.8L1003.7 1306.7L1005.7 1306.6L1007.7 1306.5L1009.7 1306.4L1011.7 1306.3L1013.7 1306.1L1015.7 1306.0L1017.7 1305.9L1019.7 1305.8L1021.7 1305.7L1023.7 1305.6L1025.7 1305.4L1027.7 1305.3L1029.7 1305.1L1031.6 1305.0L1033.6 1304.8L1035.6 1304.6L1037.6 1304.5L1039.6 1304.3L1041.6 1304.1L1043.6 1303.8L1045.6 1303.6L1047.6 1303.4L1049.6 1303.1L1051.5 1302.8L1053.5 1302.6L1055.5 1302.3L1057.5 1301.9L1059.5 1301.6L1061.5 1301.2L1063.4 1300.9L1065.4 1300.5L1067.4 1300.1L1069.4 1299.7L1071.3 1299.2L1073.3 1298.8L1075.3 1298.4L1077.3 1298.0L1079.2 1297.6L1081.2 1297.2L1083.2 1296.9L1085.2 1296.7L1087.1 1296.5L1089.1 1296.4L1091.1 1296.3L1093.1 1296.3L1095.0 1296.5L1097.0 1296.7L1099.0 1296.9L1101.0 1297.3L1103.0 1297.6L1105.0 1298.1L1106.9 1298.5L1108.9 1299.0L1110.9 1299.4L1112.9 1299.9L1114.9 1300.4L1116.8 1300.8L1118.8 1301.2L1120.8 1301.6L1122.7 1301.9L1124.7 1302.2L1126.7 1302.4L1128.6 1302.5L1130.6 1302.6L1132.6 1302.6L1134.6 1302.5L1136.5 1302.3L1138.5 1302.0L1140.5 1301.8L1142.5 1301.4L1144.4 1301.0L1146.4 1300.6L1148.4 1300.2L1150.4 1299.8L1152.4 1299.3L1154.4 1298.8L1156.4 1298.3L1158.4 1297.8L1160.3 1297.2L1162.2 1296.6L1164.1 1296.0L1166.0 1295.2L1167.8 1294.4L1169.6 1293.6L1171.3 1292.6L1173.0 1291.6L1174.6 1290.5L1176.2 1289.3L1177.7 1288.0L1179.2 1286.8L1180.7 1285.4L1182.2 1284.1L1183.7 1282.7L1185.1 1281.3L1186.6 1279.9L1188.0 1278.5L1189.5 1277.1L1191.0 1275.8L1192.5 1274.4L1194.0 1273.1L1195.5 1271.7L1197.0 1270.4L1198.5 1269.1L1200.0 1267.7L1201.5 1266.4L1203.0 1265.0L1204.4 1263.7L1205.9 1262.3L1207.3 1260.9L1208.7 1259.5L1210.0 1258.0L1211.3 1256.5L1212.6 1255.0L1213.8 1253.4L1215.0 1251.8L1216.2 1250.2L1217.3 1248.5L1218.4 1246.9L1219.4 1245.2L1220.4 1243.4L1221.4 1241.7L1222.4 1239.9L1223.3 1238.2L1224.2 1236.4L1225.0 1234.6L1225.8 1232.8L1226.6 1231.0L1227.4 1229.1L1228.1 1227.3L1228.9 1225.4L1229.6 1223.6L1230.2 1221.7L1230.9 1219.8L1231.5 1217.9L1232.1 1216.0L1232.7 1214.1L1233.3 1212.2L1233.9 1210.2L1234.4 1208.3L1235.0 1206.4L1235.5 1204.4L1236.1 1202.5L1236.6 1200.5L1237.1 1198.6L1237.6 1196.6L1238.1 1194.7L1238.6 1192.7L1239.1 1190.8L1239.6 1188.8L1240.1 1186.9L1240.6 1184.9L1241.0 1183.0L1241.5 1181.0L1242.1 1179.1L1242.6 1177.1L1243.1 1175.2L1243.6 1173.2L1244.2 1171.3L1244.7 1169.4L1245.3 1167.4L1245.8 1165.5L1246.4 1163.6L1247.0 1161.7L1247.7 1159.8L1248.3 1157.9L1249.0 1156.1L1249.6 1154.2L1250.3 1152.3L1251.1 1150.5L1251.8 1148.7L1252.6 1146.8L1253.4 1145.0L1254.2 1143.2L1255.1 1141.5L1256.0 1139.7L1256.9 1137.9L1257.9 1136.2L1258.9 1134.5L1259.9 1132.8L1260.9 1131.1L1262.0 1129.4L1263.2 1127.8L1264.4 1126.1L1265.6 1124.5L1266.8 1122.9L1268.2 1121.4L1269.5 1119.8L1270.9 1118.3L1272.3 1116.7L1273.7 1115.2L1275.2 1113.7L1276.8 1112.5L1278.4 1111.7L1280.1 1111.5L1281.9 1112.0L1283.7 1113.1L1285.5 1114.5L1287.1 1116.1L1288.5 1117.7L1289.8 1119.3L1290.9 1121.0L1292.0 1122.6L1293.0 1124.3L1293.9 1125.9L1294.9 1127.5L1296.0 1129.1L1297.0 1130.7L1298.2 1132.4L1299.4 1134.1L1300.7 1136.0L1302.1 1137.8L1303.6 1139.4L1305.2 1140.5L1307.0 1140.9L1308.8 1140.4L1310.7 1139.6L1312.4 1138.5L1314.0 1137.4L1315.5 1136.1L1316.9 1134.7L1318.1 1133.2L1319.3 1131.6L1320.3 1130.0L1321.3 1128.3L1322.3 1126.5L1323.1 1124.7L1324.0 1122.8L1324.8 1120.9L1325.5 1119.0L1326.3 1117.1L1327.0 1115.2L1327.7 1113.3L1328.4 1111.4L1329.1 1109.5L1329.8 1107.6L1330.5 1105.7L1331.2 1103.8L1331.9 1102.0L1332.6 1100.1L1333.2 1098.2L1333.8 1096.3L1334.5 1094.4L1335.1 1092.5L1335.7 1090.6L1336.3 1088.7L1336.8 1086.8L1337.4 1084.9L1337.9 1083.0L1338.4 1081.1L1338.9 1079.1L1339.4 1077.2L1339.9 1075.3L1340.3 1073.3L1340.8 1071.4L1341.2 1069.5L1341.6 1067.5L1342.1 1065.6L1342.5 1063.6L1342.9 1061.6L1343.3 1059.7L1343.7 1057.7L1344.2 1055.8L1344.6 1053.8L1345.0 1051.8L1345.5 1049.9L1345.9 1047.9L1346.4 1046.0L1346.8 1044.0L1347.3 1042.0L1347.8 1040.1L1348.3 1038.1L1348.8 1036.2L1349.4 1034.2L1349.9 1032.3L1350.5 1030.4L1351.1 1028.4L1351.8 1026.5L1352.5 1024.6L1353.3 1022.8L1354.2 1021.0L1355.2 1019.4L1356.4 1017.8L1357.8 1016.3L1359.3 1015.0L1361.0 1014.1L1362.7 1014.0L1364.3 1014.8L1365.8 1016.3L1367.1 1018.2L1368.2 1020.1L1369.1 1022.1L1369.7 1024.0L1370.2 1025.9L1370.7 1027.8L1371.1 1029.7L1371.5 1031.6L1372.0 1033.5L1372.5 1035.4L1373.0 1037.4L1373.5 1039.3L1374.0 1041.2L1374.5 1043.1L1375.0 1045.0L1375.6 1046.9L1376.1 1048.9L1376.7 1050.8L1377.2 1052.7L1377.8 1054.7L1378.3 1056.6L1378.8 1058.5L1379.4 1060.5L1379.9 1062.4L1380.3 1064.4L1380.8 1066.3L1381.3 1068.3L1381.7 1070.2L1382.1 1072.2L1382.5 1074.2L1382.9 1076.1L1383.3 1078.1L1383.7 1080.1L1384.0 1082.0L1384.4 1084.0L1384.7 1086.0L1385.0 1088.0L1385.3 1089.9L1385.7 1091.9L1386.0 1093.9L1386.2 1095.9L1386.5 1097.9L1386.8 1099.8L1387.1 1101.8L1387.4 1103.8L1387.7 1105.8L1387.9 1107.8L1388.2 1109.8L1388.5 1111.8L1388.7 1113.7L1389.0 1115.7L1389.3 1117.7L1389.6 1119.7L1389.8 1121.7L1390.1 1123.7L1390.4 1125.6L1390.7 1127.6L1391.0 1129.6L1391.3 1131.6L1391.6 1133.5L1391.9 1135.5L1392.3 1137.5L1392.6 1139.5L1393.0 1141.4L1393.3 1143.4L1393.7 1145.3L1394.1 1147.3L1394.5 1149.3L1394.9 1151.2L1395.3 1153.2L1395.8 1155.1L1396.2 1157.0L1396.7 1159.0L1397.2 1160.9L1397.7 1162.9L1398.2 1164.8L1398.7 1166.7L1399.2 1168.7L1399.7 1170.6L1400.3 1172.5L1400.8 1174.4L1401.4 1176.3L1402.0 1178.3L1402.5 1180.2L1403.1 1182.1L1403.7 1184.0L1404.3 1185.9L1404.9 1187.8L1405.5 1189.7L1406.1 1191.6L1406.8 1193.6L1407.4 1195.5L1408.0 1197.4L1408.6 1199.3L1409.3 1201.2L1409.9 1203.1L1410.6 1205.0L1411.2 1206.9L1411.8 1208.8L1412.5 1210.7L1413.1 1212.6L1413.7 1214.5L1414.4 1216.4L1415.0 1218.3L1415.6 1220.2L1416.3 1222.1L1416.9 1224.0L1417.5 1225.9L1418.1 1227.8L1418.8 1229.7L1419.4 1231.5L1420.0 1233.4L1420.6 1235.3L1421.2 1237.2L1421.8 1239.1L1422.4 1241.0L1423.0 1242.9L1423.6 1244.8L1424.2 1246.7L1424.9 1248.6L1425.5 1250.5L1426.2 1252.4L1426.8 1254.3L1427.5 1256.1L1428.2 1258.0L1428.8 1259.9L1429.6 1261.7L1430.3 1263.6L1431.0 1265.5L1431.8 1267.3L1432.5 1269.2L1433.3 1271.0L1434.1 1272.8L1435.0 1274.7L1435.8 1276.5L1436.7 1278.3L1437.6 1280.1L1438.6 1281.9L1439.5 1283.7L1440.5 1285.5L1441.6 1287.3L1442.6 1289.0L1443.7 1290.8L1444.8 1292.5L1446.0 1294.2L1447.2 1295.8L1448.5 1297.4L1449.8 1298.9L1451.2 1300.3L1452.7 1301.6L1454.2 1302.7L1455.8 1303.7L1457.5 1304.6L1459.3 1305.3L1461.1 1305.9L1463.1 1306.2L1465.1 1306.5L1467.2 1306.7L1469.2 1306.8L1471.3 1306.9L1473.4 1307.1L1475.4 1307.3L1477.4 1307.6L1479.5 1307.8L1481.5 1308.1L1483.5 1308.5L1485.4 1308.9L1487.4 1309.2L1489.4 1309.7L1491.3 1310.1L1493.2 1310.6L1495.2 1311.1L1497.1 1311.6L1499.0 1312.2L1500.9 1312.7L1502.8 1313.3L1504.7 1313.9L1506.5 1314.6L1508.4 1315.2L1510.3 1315.8L1512.2 1316.5L1514.0 1317.2L1515.9 1317.9L1517.8 1318.6L1519.6 1319.3L1521.5 1320.0L1523.3 1320.7L1525.2 1321.4L1527.1 1322.1L1528.9 1322.9L1530.8 1323.6L1532.7 1324.3L1534.5 1325.0L1536.4 1325.8L1538.3 1326.5L1540.2 1327.2L1542.0 1327.9L1543.9 1328.6L1545.8 1329.3L1547.7 1329.9L1549.6 1330.6L1551.5 1331.2L1553.4 1331.9L1555.3 1332.5L1557.2 1333.1L1559.1 1333.7L1561.1 1334.2L1563.0 1334.8L1564.9 1335.3L1566.9 1335.7L1568.8 1336.2L1570.8 1336.6L1572.7 1337.0L1574.7 1337.4L1576.7 1337.8L1578.6 1338.1L1580.6 1338.4L1582.6 1338.7L1584.6 1339.0L1586.6 1339.3L1588.5 1339.5L1590.5 1339.8L1592.5 1340.0L1594.5 1340.3L1596.5 1340.5L1598.5 1340.7L1600.5 1340.9L1602.5 1341.2L1604.5 1341.4L1606.5 1341.6L1608.5 1341.9L1610.5 1342.1L1612.4 1342.4L1614.4 1342.7L1616.4 1342.9L1618.4 1343.2L1620.4 1343.6L1622.3 1343.9L1624.3 1344.3L1626.3 1344.6L1628.2 1345.0L1630.2 1345.4L1632.1 1345.8L1634.1 1346.2L1636.0 1346.6L1638.0 1347.0L1639.9 1347.5L1641.9 1347.9L1643.8 1348.4L1645.8 1348.8L1647.7 1349.3L1649.7 1349.8L1651.6 1350.2L1653.6 1350.7L1655.5 1351.2L1657.4 1351.7L1659.4 1352.2L1661.3 1352.6L1663.3 1353.1L1665.2 1353.6L1667.1 1354.1L1669.1 1354.6L1671.0 1355.0L1673.0 1355.5L1674.9 1356.0L1676.9 1356.4L1678.8 1356.9L1680.8 1357.4L1682.7 1357.8L1684.7 1358.3L1686.6 1358.7L1688.6 1359.1L1690.5 1359.6L1692.5 1360.0L1694.4 1360.4L1696.4 1360.8L1698.4 1361.2L1700.3 1361.6L1702.3 1362.0L1704.2 1362.3L1706.2 1362.7L1708.2 1363.0L1710.1 1363.4L1712.1 1363.7L1714.1 1364.0L1716.1 1364.3L1718.0 1364.6L1720.0 1364.8L1722.0 1365.1L1724.0 1365.3L1726.0 1365.6L1727.9 1365.8L1729.9 1366.0L1731.9 1366.2L1733.9 1366.3L1735.9 1366.5L1737.9 1366.6L1739.9 1366.8L1741.9 1366.9L1743.9 1367.0L1745.9 1367.1L1747.9 1367.2L1749.9 1367.3L1751.9 1367.4L1753.9 1367.5L1755.9 1367.5L1757.9 1367.6L1759.9 1367.6L1761.9 1367.7L1763.9 1367.7L1765.9 1367.7L1767.9 1367.7L1769.9 1367.8L1771.9 1367.8L1773.9 1367.8L1775.9 1367.8L1777.9 1367.7L1779.9 1367.7L1782.0 1367.7L1784.0 1367.7L1786.0 1367.7L1788.0 1367.6L1790.0 1367.6L1792.0 1367.5L1794.0 1367.5L1796.0 1367.5L1798.1 1367.4L1800.1 1367.4L1802.1 1367.3L1804.1 1367.3L1806.1 1367.2L1808.1 1367.2L1810.1 1367.2L1812.1 1367.1L1814.1 1367.1L1816.2 1367.0L1818.2 1367.0L1820.2 1366.9L1822.2 1366.9L1824.2 1366.9L1826.2 1366.8L1828.2 1366.8L1830.2 1366.8L1832.2 1366.8L1834.2 1366.8L1836.2 1366.7L1838.2 1366.7L1840.2 1366.7L1842.2 1366.7L1844.2 1366.8L1846.2 1366.8L1848.2 1366.8L1850.2 1366.8L1852.2 1366.9L1854.2 1366.9L1856.2 1367.0L1858.2 1367.0L1860.2 1367.1L1862.2 1367.2L1864.2 1367.3L1866.1 1367.4L1868.1 1367.5L1870.1 1367.6L1872.1 1367.7L1874.1 1367.9L1876.0 1368.0L1878.0 1368.2L1880.0 1368.3"/>
<path stroke="#00B050" d="M239.7 1089.8L240.3 1091.7L241.0 1093.6L241.6 1095.5L242.3 1097.4L243.1 1099.2L243.8 1101.1L244.5 1103.0L245.3 1104.8L246.0 1106.7L246.7 1108.6L247.3 1110.5L248.0 1112.4L248.6 1114.3L249.1 1116.2L249.7 1118.1L250.3 1120.0L250.9 1121.9L251.5 1123.8L252.2 1125.7L252.9 1127.6L253.7 1129.4L254.6 1131.2L255.6 1133.0L256.6 1134.7L257.8 1136.3L259.1 1137.8L260.6 1139.1L262.2 1140.4L263.8 1141.5L265.4 1142.7L267.1 1143.9L268.6 1145.2L270.2 1146.4L271.7 1147.7L273.2 1149.0L274.7 1150.4L276.2 1151.7L277.6 1153.1L279.1 1154.5L280.5 1155.9L282.0 1157.3L283.4 1158.7L284.8 1160.1L286.2 1161.5L287.7 1162.8L289.1 1164.2L290.6 1165.6L292.0 1167.0L293.5 1168.3L295.0 1169.6L296.5 1170.9L298.1 1172.2L299.6 1173.5L301.2 1174.7L302.8 1175.9L304.3 1177.2L305.9 1178.4L307.5 1179.6L309.1 1180.8L310.7 1182.0L312.3 1183.2L313.9 1184.5L315.5 1185.7L317.1 1186.9L318.6 1188.2L320.2 1189.4L321.7 1190.7L323.2 1192.0L324.7 1193.3L326.2 1194.6L327.7 1196.0L329.1 1197.3L330.6 1198.7L332.1 1200.0L333.5 1201.4L335.0 1202.7L336.4 1204.1L337.9 1205.4L339.4 1206.8L340.8 1208.2L342.3 1209.5L343.8 1210.9L345.3 1212.2L346.9 1213.5L348.4 1214.8L350.0 1216.1L351.5 1217.4L353.2 1218.7L354.8 1219.9L356.5 1221.1L358.1 1222.1L359.9 1223.2L361.6 1224.1L363.4 1224.9L365.3 1225.6L367.2 1226.1L369.1 1226.5L371.0 1226.7L373.1 1226.8L375.1 1226.8L377.1 1226.6L379.1 1226.3L381.1 1225.9L383.1 1225.4L385.0 1224.8L386.9 1224.2L388.7 1223.5L390.6 1222.8L392.4 1221.9L394.2 1221.1L395.9 1220.2L397.7 1219.2L399.4 1218.2L401.1 1217.2L402.8 1216.1L404.5 1215.0L406.2 1213.9L407.9 1212.8L409.5 1211.7L411.2 1210.6L412.9 1209.5L414.6 1208.4L416.3 1207.3L418.0 1206.2L419.8 1205.2L421.5 1204.1L423.2 1203.1L425.0 1202.1L426.7 1201.0L428.4 1200.0L430.1 1198.9L431.7 1197.8L433.3 1196.6L434.8 1195.4L436.3 1194.1L437.8 1192.7L439.2 1191.3L440.5 1189.9L441.8 1188.4L443.1 1186.8L444.3 1185.3L445.6 1183.7L446.8 1182.1L448.1 1180.5L449.3 1179.0L450.6 1177.4L451.9 1175.8L453.2 1174.3L454.5 1172.8L455.8 1171.3L457.2 1169.8L458.5 1168.3L459.9 1166.8L461.3 1165.4L462.7 1163.9L464.1 1162.4L465.5 1161.0L466.9 1159.6L468.3 1158.1L469.7 1156.7L471.1 1155.2L472.5 1153.8L473.9 1152.4L475.3 1150.9L476.7 1149.5L478.0 1148.0L479.4 1146.6L480.8 1145.1L482.1 1143.7L483.5 1142.2L484.8 1140.7L486.1 1139.2L487.4 1137.7L488.7 1136.1L489.9 1134.6L491.2 1133.0L492.4 1131.5L493.6 1129.9L494.7 1128.3L495.9 1126.6L497.0 1125.0L498.1 1123.3L499.2 1121.7L500.3 1120.0L501.4 1118.3L502.5 1116.6L503.5 1114.9L504.6 1113.2L505.7 1111.5L506.7 1109.8L507.8 1108.1L508.9 1106.4L509.9 1104.7L511.0 1103.0L512.1 1101.3L513.2 1099.6L514.3 1098.0L515.4 1096.3L516.6 1094.7L517.7 1093.0L518.9 1091.4L520.1 1089.8L521.3 1088.1L522.4 1086.5L523.6 1084.9L524.8 1083.3L526.0 1081.7L527.2 1080.1L528.4 1078.5L529.6 1076.8L530.7 1075.2L531.9 1073.6L533.1 1072.0L534.2 1070.3L535.3 1068.7L536.5 1067.0L537.6 1065.3L538.7 1063.7L539.7 1062.0L540.8 1060.3L541.8 1058.6L542.9 1056.9L543.9 1055.1L544.9 1053.4L545.8 1051.6L546.8 1049.9L547.7 1048.1L548.7 1046.4L549.6 1044.6L550.5 1042.8L551.3 1041.0L552.2 1039.2L553.0 1037.4L553.9 1035.5L554.7 1033.7L555.4 1031.9L556.2 1030.0L556.9 1028.2L557.7 1026.3L558.4 1024.4L559.1 1022.6L559.8 1020.7L560.4 1018.8L561.1 1016.9L561.7 1015.0L562.3 1013.1L562.9 1011.2L563.5 1009.3L564.1 1007.4L564.7 1005.4L565.3 1003.5L565.8 1001.6L566.3 999.7L566.9 997.7L567.4 995.8L567.9 993.8L568.4 991.9L568.9 989.9L569.4 988.0L569.8 986.0L570.3 984.1L570.8 982.1L571.2 980.2L571.7 978.2L572.1 976.3L572.5 974.3L573.0 972.3L573.4 970.4L573.8 968.4L574.2 966.5L574.7 964.5L575.1 962.6L575.5 960.6L575.9 958.6L576.3 956.7L576.7 954.7L577.1 952.8L577.5 950.8L577.9 948.9L578.3 946.9L578.7 944.9L579.1 943.0L579.5 941.0L580.0 939.1L580.4 937.1L580.8 935.2L581.2 933.2L581.6 931.3L582.0 929.3L582.4 927.4L582.8 925.4L583.3 923.5L583.7 921.5L584.1 919.5L584.5 917.6L584.9 915.6L585.4 913.7L585.8 911.7L586.2 909.8L586.7 907.8L587.1 905.9L587.5 903.9L588.0 902.0L588.4 900.0L588.8 898.0L589.3 896.1L589.7 894.1L590.1 892.2L590.6 890.2L591.0 888.3L591.4 886.3L591.9 884.3L592.3 882.4L592.8 880.4L593.2 878.5L593.6 876.5L594.1 874.5L594.5 872.6L595.0 870.6L595.5 868.7L596.0 866.7L596.5 864.8L597.1 862.9L597.7 861.0L598.3 859.1L599.0 857.2L599.7 855.4L600.5 853.5L601.3 851.7L602.2 849.9L603.1 848.1L604.0 846.3L604.9 844.6L605.8 842.8L606.8 841.0L607.7 839.3L608.6 837.5L609.6 835.7L610.5 833.9L611.4 832.2L612.3 830.4L613.1 828.6L614.0 826.7L614.8 824.9L615.6 823.1L616.3 821.2L617.1 819.4L617.8 817.5L618.5 815.6L619.1 813.7L619.8 811.9L620.4 810.0L621.1 808.1L621.7 806.1L622.3 804.2L623.0 802.3L623.6 800.4L624.2 798.5L624.8 796.6L625.5 794.7L626.1 792.8L626.7 790.9L627.4 789.0L628.1 787.2L628.8 785.3L629.5 783.4L630.2 781.5L630.9 779.7L631.6 777.8L632.4 776.0L633.1 774.1L633.8 772.2L634.5 770.4L635.3 768.5L636.0 766.6L636.7 764.8L637.4 762.9L638.1 761.0L638.8 759.1L639.5 757.3L640.2 755.4L640.9 753.5L641.6 751.6L642.2 749.7L642.9 747.8L643.5 745.9L644.1 744.0L644.8 742.1L645.4 740.2L645.9 738.3L646.5 736.4L647.1 734.4L647.6 732.5L648.1 730.6L648.6 728.7L649.1 726.7L649.6 724.8L650.1 722.8L650.5 720.9L651.0 718.9L651.4 717.0L651.8 715.0L652.2 713.1L652.6 711.1L653.0 709.2L653.3 707.2L653.7 705.2L654.0 703.2L654.4 701.3L654.7 699.3L655.0 697.3L655.4 695.4L655.7 693.4L656.0 691.4L656.3 689.4L656.6 687.4L656.9 685.5L657.1 683.5L657.4 681.5L657.7 679.5L658.0 677.5L658.2 675.5L658.5 673.5L658.8 671.6L659.0 669.6L659.3 667.6L659.5 665.6L659.8 663.6L660.0 661.6L660.3 659.6L660.5 657.7L660.8 655.7L661.0 653.7L661.2 651.7L661.5 649.7L661.7 647.7L661.9 645.7L662.1 643.7L662.4 641.7L662.6 639.8L662.8 637.8L663.0 635.8L663.3 633.8L663.5 631.8L663.7 629.8L663.9 627.8L664.1 625.8L664.3 623.8L664.5 621.8L664.7 619.8L664.9 617.9L665.1 615.9L665.3 613.9L665.5 611.9L665.7 609.9L665.9 607.9L666.1 605.9L666.2 603.9L666.4 601.9L666.6 599.9L666.8 597.9L667.0 595.9L667.2 593.9L667.3 592.0L667.5 590.0L667.7 588.0L667.9 586.0L668.0 584.0L668.2 582.0L668.4 580.0L668.5 578.0L668.7 576.0L668.9 574.0L669.0 572.0L669.2 570.0L669.3 568.0L669.5 566.0L669.6 564.0L669.8 562.0L670.0 560.0L670.1 558.0L670.3 556.0L670.4 554.1L670.6 552.1L670.7 550.1L670.9 548.1L671.0 546.1L671.2 544.1L671.3 542.1L671.4 540.1L671.6 538.1L671.7 536.1L671.9 534.1L672.0 532.1L672.2 530.1L672.3 528.1L672.4 526.1L672.6 524.1L672.7 522.1L672.8 520.1L673.0 518.1L673.1 516.1L673.2 514.1L673.4 512.1L673.5 510.1L673.6 508.1L673.8 506.1L673.9 504.1L674.0 502.1L674.2 500.1L674.3 498.1L674.4 496.1L674.6 494.1L674.7 492.1L674.8 490.2L674.9 488.2L675.1 486.2L675.2 484.2L675.3 482.2L675.5 480.2L675.6 478.2L675.7 476.2L675.8 474.2L676.0 472.2L676.1 470.2L676.2 468.2L676.4 466.2L676.5 464.2L676.6 462.2L676.7 460.2L676.9 458.2L677.0 456.2L677.1 454.2L677.3 452.2L677.4 450.2L677.5 448.2L677.6 446.2L677.8 444.2L677.9 442.2L678.0 440.2L678.2 438.2L678.3 436.2L678.4 434.2L678.6 432.2L678.7 430.2L678.8 428.2L679.0 426.2L679.1 424.2L679.2 422.2L679.4 420.2L679.5 418.2L679.6 416.3L679.8 414.3L679.9 412.3L680.1 410.3L680.2 408.3L680.3 406.3L680.5 404.3L680.6 402.3L680.8 400.3L680.9 398.3L681.0 396.3L681.2 394.3L681.3 392.3L681.5 390.3L681.6 388.3L681.8 386.3L681.9 384.3L682.1 382.3L682.2 380.3L682.3 378.3L682.5 376.3L682.6 374.3L682.8 372.3L682.9 370.3L683.1 368.3L683.2 366.4L683.4 364.4L683.5 362.4L683.7 360.4L683.8 358.4L684.0 356.4L684.1 354.4L684.3 352.4L684.4 350.4L684.6 348.4L684.7 346.4L684.9 344.4L685.0 342.4L685.2 340.4L685.4 338.4L685.5 336.4L685.7 334.4L685.8 332.4L686.0 330.4L686.1 328.4L686.3 326.4L686.5 324.4L686.6 322.5L686.8 320.5L686.9 318.5L687.1 316.5L687.2 314.5L687.4 312.5L687.6 310.5L687.7 308.5L687.9 306.5L688.0 304.5L688.2 302.5L688.4 300.5L688.5 298.5L688.7 296.5L688.9 294.5L689.0 292.5L689.2 290.5L689.3 288.5L689.5 286.5L689.7 284.5L689.8 282.5L690.0 280.6L690.2 278.6L690.3 276.6L690.5 274.6L690.7 272.6L690.8 270.6L691.0 268.6L691.2 266.6L691.3 264.6L691.5 262.6L691.7 260.6L691.8 258.6L692.0 256.6L692.2 254.6L692.3 252.6L692.5 250.6L692.7 248.6L692.9 246.6L693.0 244.6L693.2 242.6L693.4 240.6L693.5 238.6L693.7 236.6L693.9 234.6L694.0 232.7L694.2 230.7L694.4 228.7L694.6 226.7L694.7 224.7L694.9 222.7L695.1 220.7L695.3 218.7L695.4 216.7L695.6 214.7L695.8 212.7L695.9 210.7L696.1 208.7L696.3 206.8L696.5 204.8L696.6 202.8L696.8 200.8L697.0 198.8L697.2 196.8L697.3 194.8L697.5 192.9L697.7 190.9L697.9 188.9L698.0 186.9L698.2 184.9L698.4 183.0L698.6 181.0L698.8 179.0L699.0 176.9L699.3 174.9L699.5 172.8L699.9 170.8L700.3 168.7L700.8 166.7L701.5 164.6L702.4 162.7L703.3 161.2L704.3 160.6L705.2 161.0L706.0 162.4L706.6 164.2L707.1 166.3L707.4 168.4L707.6 170.7L707.8 172.9L708.0 175.0L708.2 177.0L708.4 179.0L708.6 181.0L708.8 183.0L709.0 185.0L709.2 186.9L709.5 188.9L709.7 190.9L709.8 192.8L710.0 194.8L710.2 196.8L710.4 198.8L710.6 200.8L710.8 202.7L711.0 204.7L711.2 206.7L711.3 208.7L711.5 210.7L711.7 212.7L711.8 214.6L712.0 216.6L712.2 218.6L712.3 220.6L712.5 222.6L712.7 224.6L712.8 226.6L713.0 228.6L713.1 230.6L713.3 232.6L713.4 234.6L713.6 236.6L713.7 238.6L713.9 240.5L714.0 242.5L714.2 244.5L714.3 246.5L714.5 248.5L714.6 250.5L714.7 252.5L714.9 254.5L715.0 256.5L715.1 258.5L715.3 260.5L715.4 262.5L715.5 264.5L715.7 266.5L715.8 268.5L715.9 270.5L716.1 272.5L716.2 274.5L716.3 276.5L716.4 278.5L716.6 280.5L716.7 282.5L716.8 284.5L716.9 286.5L717.1 288.5L717.2 290.5L717.3 292.5L717.4 294.5L717.5 296.5L717.7 298.5L717.8 300.5L717.9 302.5L718.0 304.5L718.1 306.5L718.3 308.5L718.4 310.5L718.5 312.5L718.6 314.5L718.7 316.5L718.8 318.5L719.0 320.5L719.1 322.5L719.2 324.5L719.3 326.5L719.4 328.5L719.5 330.5L719.7 332.5L719.8 334.5L719.9 336.5L720.0 338.5L720.1 340.5L720.2 342.5L720.3 344.5L720.5 346.5L720.6 348.5L720.7 350.5L720.8 352.5L720.9 354.5L721.0 356.5L721.1 358.5L721.3 360.5L721.4 362.5L721.5 364.5L721.6 366.5L721.7 368.5L721.8 370.5L722.0 372.5L722.1 374.5L722.2 376.5L722.3 378.5L722.4 380.5L722.5 382.4L722.7 384.4L722.8 386.4L722.9 388.4L723.0 390.4L723.1 392.4L723.3 394.4L723.4 396.4L723.5 398.4L723.6 400.4L723.7 402.4L723.9 404.4L724.0 406.4L724.1 408.4L724.2 410.4L724.4 412.4L724.5 414.4L724.6 416.4L724.7 418.4L724.9 420.4L725.0 422.4L725.1 424.4L725.2 426.4L725.4 428.4L725.5 430.4L725.6 432.4L725.7 434.4L725.9 436.4L726.0 438.4L726.1 440.4L726.3 442.4L726.4 444.4L726.5 446.4L726.7 448.3L726.8 450.3L726.9 452.3L727.1 454.3L727.2 456.3L727.4 458.3L727.5 460.3L727.6 462.3L727.8 464.3L727.9 466.3L728.0 468.3L728.2 470.3L728.3 472.3L728.4 474.3L728.6 476.3L728.7 478.3L728.8 480.3L729.0 482.3L729.1 484.3L729.2 486.3L729.4 488.3L729.5 490.3L729.6 492.3L729.8 494.3L729.9 496.3L730.0 498.3L730.1 500.3L730.3 502.3L730.4 504.3L730.5 506.3L730.6 508.3L730.8 510.3L730.9 512.3L731.0 514.3L731.1 516.3L731.3 518.3L731.4 520.3L731.5 522.3L731.6 524.3L731.7 526.3L731.8 528.3L731.9 530.3L732.1 532.3L732.2 534.3L732.3 536.3L732.4 538.3L732.5 540.3L732.6 542.3L732.7 544.3L732.8 546.3L732.9 548.3L733.0 550.3L733.1 552.3L733.2 554.3L733.2 556.3L733.3 558.3L733.4 560.3L733.5 562.3L733.6 564.3L733.7 566.3L733.8 568.3L733.9 570.3L734.0 572.2L734.1 574.2L734.2 576.2L734.4 578.2L734.5 580.2L734.6 582.2L734.8 584.2L734.9 586.2L735.1 588.2L735.3 590.2L735.4 592.2L735.6 594.2L735.8 596.2L736.1 598.2L736.3 600.1L736.5 602.1L736.8 604.1L737.1 606.1L737.3 608.1L737.6 610.1L737.9 612.0L738.2 614.0L738.5 616.0L738.8 618.0L739.1 620.0L739.4 622.0L739.7 623.9L740.0 625.9L740.3 627.9L740.5 629.9L740.8 631.9L741.0 633.9L741.3 635.9L741.5 637.8L741.8 639.8L742.0 641.8L742.2 643.8L742.4 645.8L742.6 647.8L742.8 649.8L743.1 651.8L743.3 653.8L743.5 655.8L743.6 657.7L743.8 659.7L744.0 661.7L744.2 663.7L744.4 665.7L744.6 667.7L744.8 669.7L745.0 671.7L745.1 673.7L745.3 675.7L745.5 677.7L745.7 679.7L745.8 681.7L746.0 683.6L746.2 685.6L746.4 687.6L746.5 689.6L746.7 691.6L746.9 693.6L747.0 695.6L747.2 697.6L747.4 699.6L747.5 701.6L747.7 703.6L747.9 705.6L748.0 707.6L748.2 709.6L748.4 711.6L748.5 713.6L748.7 715.6L748.8 717.6L749.0 719.5L749.2 721.5L749.3 723.5L749.5 725.5L749.6 727.5L749.8 729.5L749.9 731.5L750.1 733.5L750.2 735.5L750.4 737.5L750.5 739.5L750.7 741.5L750.8 743.5L751.0 745.5L751.1 747.5L751.3 749.5L751.4 751.5L751.6 753.5L751.7 755.5L751.9 757.5L752.0 759.5L752.2 761.5L752.3 763.5L752.5 765.5L752.6 767.5L752.7 769.4L752.9 771.4L753.0 773.4L753.2 775.4L753.3 777.4L753.4 779.4L753.6 781.4L753.7 783.4L753.9 785.4L754.0 787.4L754.1 789.4L754.3 791.4L754.4 793.4L754.6 795.4L754.7 797.4L754.8 799.4L755.0 801.4L755.1 803.4L755.2 805.4L755.4 807.4L755.5 809.4L755.6 811.4L755.8 813.4L755.9 815.4L756.0 817.4L756.2 819.4L756.3 821.4L756.4 823.4L756.6 825.4L756.7 827.4L756.9 829.4L757.0 831.4L757.1 833.4L757.3 835.4L757.4 837.4L757.5 839.3L757.7 841.3L757.8 843.3L757.9 845.3L758.1 847.3L758.2 849.3L758.3 851.3L758.5 853.3L758.6 855.3L758.7 857.3L758.9 859.3L759.0 861.3L759.1 863.3L759.3 865.3L759.4 867.3L759.5 869.3L759.7 871.3L759.8 873.3L759.9 875.3L760.1 877.3L760.2 879.3L760.3 881.3L760.5 883.3L760.6 885.3L760.7 887.3L760.9 889.3L761.0 891.3L761.1 893.3L761.3 895.3L761.4 897.3L761.5 899.3L761.7 901.3L761.8 903.3L761.9 905.2L762.1 907.2L762.2 909.2L762.4 911.2L762.5 913.2L762.6 915.2L762.8 917.2L762.9 919.2L763.0 921.2L763.2 923.2L763.3 925.2L763.4 927.2L763.6 929.2L763.7 931.2L763.9 933.2L764.0 935.2L764.1 937.2L764.3 939.2L764.4 941.2L764.5 943.2L764.7 945.2L764.8 947.2L765.0 949.2L765.1 951.2L765.2 953.2L765.4 955.2L765.5 957.2L765.6 959.2L765.8 961.2L765.9 963.1L766.1 965.1L766.2 967.1L766.3 969.1L766.5 971.1L766.6 973.1L766.7 975.1L766.9 977.1L767.0 979.1L767.2 981.1L767.3 983.1L767.4 985.1L767.6 987.1L767.7 989.1L767.9 991.1L768.0 993.1L768.1 995.1L768.3 997.1L768.4 999.1L768.6 1001.1L768.7 1003.1L768.8 1005.1L769.0 1007.1L769.1 1009.1L769.2 1011.1L769.4 1013.1L769.5 1015.1L769.7 1017.1L769.8 1019.1L769.9 1021.0L770.1 1023.0L770.2 1025.0L770.4 1027.0L770.5 1029.0L770.6 1031.0L770.8 1033.0L770.9 1035.0L771.1 1037.0L771.2 1039.0L771.3 1041.0L771.5 1043.0L771.6 1045.0L771.8 1047.0L771.9 1049.0L772.0 1051.0L772.2 1053.0L772.3 1055.0L772.5 1057.0L772.6 1059.0L772.7 1061.0L772.9 1063.0L773.0 1065.0L773.2 1067.0L773.3 1069.0L773.4 1071.0L773.6 1073.0L773.7 1075.0L773.9 1077.0L774.0 1079.0L774.1 1081.0L774.3 1083.0L774.4 1084.9L774.6 1086.9L774.7 1088.9L774.8 1090.9L775.0 1092.9L775.1 1094.9L775.3 1096.9L775.4 1098.9L775.5 1100.9L775.7 1102.9L775.8 1104.9L776.0 1106.9L776.1 1108.9L776.2 1110.9L776.4 1112.9L776.5 1114.9L776.7 1116.9L776.8 1118.9L777.0 1120.9L777.1 1122.9L777.3 1124.9L777.4 1126.9L777.6 1128.9L777.7 1130.9L777.9 1132.9L778.0 1134.9L778.2 1136.9L778.3 1138.9L778.5 1140.9L778.6 1142.9L778.8 1144.9L779.0 1146.9L779.1 1148.8L779.3 1150.8L779.5 1152.8L779.7 1154.8L779.8 1156.8L780.0 1158.8L780.2 1160.8L780.4 1162.8L780.6 1164.8L780.8 1166.8L781.0 1168.8L781.2 1170.8L781.4 1172.8L781.6 1174.7L781.8 1176.7L782.0 1178.7L782.2 1180.7L782.4 1182.7L782.7 1184.7L782.9 1186.7L783.1 1188.7L783.4 1190.6L783.6 1192.6L783.8 1194.6L784.1 1196.6L784.3 1198.6L784.6 1200.6L784.9 1202.6L785.1 1204.5L785.4 1206.5L785.7 1208.5L786.0 1210.5L786.3 1212.5L786.6 1214.4L786.9 1216.4L787.2 1218.4L787.5 1220.4L787.8 1222.3L788.1 1224.3L788.5 1226.3L788.8 1228.3L789.1 1230.2L789.5 1232.2L789.8 1234.2L790.2 1236.1L790.6 1238.1L790.9 1240.1L791.3 1242.1L791.7 1244.0L792.1 1246.0L792.5 1247.9L792.9 1249.9L793.3 1251.9L793.7 1253.8L794.2 1255.8L794.6 1257.8L795.1 1259.7L795.5 1261.7L796.0 1263.6L796.5 1265.6L797.0 1267.5L797.6 1269.4L798.1 1271.3L798.8 1273.2L799.4 1275.1L800.1 1277.0L800.9 1278.8L801.7 1280.6L802.5 1282.4L803.4 1284.2L804.4 1285.9L805.5 1287.6L806.6 1289.3L807.8 1290.9L809.0 1292.5L810.4 1294.1L811.8 1295.6L813.3 1297.0L814.8 1298.4L816.4 1299.7L818.0 1300.9L819.7 1302.0L821.4 1303.0L823.1 1303.9L824.9 1304.8L826.7 1305.5L828.5 1306.2L830.4 1306.9L832.3 1307.5L834.2 1308.0L836.1 1308.5L838.1 1309.0L840.0 1309.4L842.0 1309.8L844.0 1310.2L845.9 1310.6L847.9 1311.0L849.9 1311.4L851.9 1311.8L853.9 1312.1L855.9 1312.5L857.9 1312.8L859.9 1313.1L861.9 1313.4L863.9 1313.7L865.9 1313.9L867.9 1314.1L869.9 1314.3L871.9 1314.5L873.9 1314.6L875.9 1314.7L877.8 1314.8L879.8 1314.8L881.8 1314.9L883.8 1314.9L885.8 1314.9L887.8 1314.8L889.8 1314.8L891.8 1314.7L893.8 1314.6L895.8 1314.5L897.8 1314.4L899.8 1314.3L901.8 1314.2L903.8 1314.0L905.7 1313.8L907.7 1313.7L909.7 1313.5L911.7 1313.3L913.7 1313.1L915.7 1312.9L917.7 1312.7L919.7 1312.5L921.7 1312.2L923.7 1312.0L925.7 1311.8L927.7 1311.6L929.6 1311.4L931.6 1311.1L933.6 1310.9L935.6 1310.7L937.6 1310.5L939.6 1310.3L941.6 1310.1L943.6 1309.9L945.6 1309.7L947.6 1309.5L949.6 1309.3L951.6 1309.2L953.6 1309.0L955.6 1308.9L957.6 1308.7L959.6 1308.6L961.6 1308.5L963.6 1308.3L965.6 1308.2L967.6 1308.1L969.6 1308.0L971.6 1307.9L973.5 1307.8L975.5 1307.7L977.5 1307.6L979.5 1307.5L981.5 1307.4L983.5 1307.3L985.5 1307.2L987.5 1307.1L989.5 1307.0L991.5 1306.9L993.5 1306.8L995.5 1306.7L997.5 1306.6L999.5 1306.5L1001.5 1306.4L1003.5 1306.3L1005.5 1306.2L1007.5 1306.1L1009.5 1306.0L1011.5 1305.8L1013.5 1305.7L1015.5 1305.5L1017.5 1305.4L1019.5 1305.3L1021.5 1305.1L1023.5 1304.9L1025.4 1304.8L1027.4 1304.6L1029.4 1304.4L1031.4 1304.2L1033.4 1304.1L1035.4 1303.9L1037.4 1303.7L1039.4 1303.5L1041.4 1303.3L1043.4 1303.1L1045.4 1302.9L1047.4 1302.6L1049.3 1302.4L1051.3 1302.2L1053.3 1302.0L1055.3 1301.7L1057.3 1301.5L1059.3 1301.2L1061.3 1301.0L1063.3 1300.7L1065.2 1300.5L1067.2 1300.2L1069.2 1300.0L1071.2 1299.7L1073.2 1299.4L1075.2 1299.2L1077.2 1298.9L1079.2 1298.7L1081.1 1298.5L1083.1 1298.3L1085.1 1298.1L1087.1 1297.9L1089.1 1297.8L1091.0 1297.7L1093.0 1297.6L1095.0 1297.6L1097.0 1297.6L1098.9 1297.6L1100.9 1297.7L1102.9 1297.8L1104.8 1298.0L1106.8 1298.3L1108.8 1298.6L1110.7 1298.9L1112.7 1299.3L1114.6 1299.8L1116.6 1300.2L1118.6 1300.7L1120.5 1301.2L1122.5 1301.7L1124.5 1302.1L1126.4 1302.5L1128.4 1302.9L1130.4 1303.2L1132.4 1303.4L1134.4 1303.5L1136.4 1303.6L1138.4 1303.6L1140.5 1303.5L1142.5 1303.4L1144.5 1303.1L1146.5 1302.9L1148.5 1302.5L1150.5 1302.1L1152.5 1301.7L1154.5 1301.2L1156.4 1300.6L1158.4 1300.0L1160.3 1299.3L1162.2 1298.6L1164.1 1297.9L1165.9 1297.1L1167.7 1296.2L1169.5 1295.3L1171.3 1294.4L1173.0 1293.5L1174.7 1292.5L1176.4 1291.5L1178.1 1290.4L1179.7 1289.3L1181.3 1288.1L1182.8 1287.0L1184.4 1285.7L1185.9 1284.5L1187.4 1283.1L1188.8 1281.8L1190.3 1280.4L1191.7 1278.9L1193.0 1277.4L1194.4 1275.9L1195.8 1274.4L1197.2 1272.9L1198.6 1271.5L1200.0 1270.0L1201.5 1268.7L1203.0 1267.3L1204.5 1266.0L1206.0 1264.8L1207.5 1263.5L1209.0 1262.1L1210.4 1260.8L1211.8 1259.4L1213.0 1257.9L1214.2 1256.3L1215.4 1254.7L1216.5 1253.0L1217.5 1251.3L1218.5 1249.6L1219.5 1247.8L1220.4 1246.0L1221.3 1244.2L1222.1 1242.3L1223.0 1240.5L1223.8 1238.6L1224.6 1236.8L1225.3 1234.9L1226.1 1233.0L1226.8 1231.2L1227.5 1229.3L1228.2 1227.4L1228.9 1225.5L1229.5 1223.6L1230.2 1221.7L1230.8 1219.8L1231.4 1217.9L1232.0 1216.0L1232.6 1214.1L1233.2 1212.1L1233.8 1210.2L1234.3 1208.3L1234.9 1206.4L1235.4 1204.4L1235.9 1202.5L1236.5 1200.6L1237.0 1198.6L1237.5 1196.7L1238.0 1194.7L1238.5 1192.8L1239.0 1190.9L1239.4 1188.9L1239.9 1187.0L1240.4 1185.0L1240.9 1183.1L1241.4 1181.1L1241.8 1179.2L1242.3 1177.2L1242.8 1175.3L1243.3 1173.4L1243.7 1171.4L1244.2 1169.5L1244.7 1167.5L1245.2 1165.6L1245.7 1163.7L1246.2 1161.7L1246.7 1159.8L1247.2 1157.9L1247.7 1155.9L1248.2 1154.0L1248.8 1152.1L1249.3 1150.2L1249.9 1148.2L1250.4 1146.3L1251.0 1144.4L1251.6 1142.5L1252.2 1140.6L1252.8 1138.7L1253.5 1136.8L1254.1 1134.9L1254.8 1133.1L1255.4 1131.2L1256.1 1129.3L1256.8 1127.5L1257.6 1125.6L1258.3 1123.7L1259.1 1121.9L1259.9 1120.1L1260.7 1118.2L1261.5 1116.4L1262.4 1114.6L1263.2 1112.8L1264.1 1111.0L1265.1 1109.2L1266.0 1107.4L1267.0 1105.6L1268.2 1104.0L1269.5 1102.4L1271.0 1101.1L1272.8 1099.9L1274.7 1099.1L1276.7 1098.7L1278.7 1098.8L1280.5 1099.4L1282.2 1100.4L1283.8 1101.7L1285.3 1103.2L1286.6 1104.8L1287.8 1106.4L1289.0 1108.0L1290.0 1109.7L1291.1 1111.4L1292.1 1113.2L1293.1 1114.9L1294.1 1116.7L1295.1 1118.4L1296.2 1120.1L1297.2 1121.9L1298.2 1123.6L1299.2 1125.2L1300.2 1126.9L1301.3 1128.5L1302.3 1130.2L1303.3 1131.9L1304.3 1133.6L1305.4 1135.4L1306.4 1137.2L1307.5 1139.0L1308.6 1140.8L1309.8 1142.5L1311.1 1144.1L1312.4 1145.5L1313.9 1146.8L1315.6 1147.8L1317.4 1148.6L1319.3 1149.1L1321.3 1149.1L1323.1 1148.8L1324.7 1148.0L1326.3 1146.9L1327.7 1145.6L1329.0 1144.0L1330.2 1142.2L1331.3 1140.3L1332.4 1138.4L1333.3 1136.5L1334.2 1134.7L1335.1 1132.8L1335.9 1131.0L1336.7 1129.2L1337.4 1127.4L1338.2 1125.6L1338.9 1123.8L1339.7 1122.0L1340.5 1120.1L1341.2 1118.3L1342.0 1116.5L1342.7 1114.7L1343.5 1112.8L1344.2 1111.0L1345.0 1109.2L1345.7 1107.3L1346.5 1105.5L1347.2 1103.6L1347.9 1101.8L1348.7 1099.9L1349.4 1098.0L1350.2 1096.2L1350.9 1094.3L1351.6 1092.4L1352.4 1090.6L1353.1 1088.7L1353.9 1086.8L1354.6 1084.9L1355.3 1083.0L1356.1 1081.1L1356.8 1079.2L1357.5 1077.3L1358.3 1075.4L1359.0 1073.5L1359.9 1071.7L1360.8 1069.9L1361.9 1068.3L1363.2 1066.8L1364.7 1065.5L1366.4 1064.4L1368.2 1063.7L1370.0 1063.6L1371.7 1064.1L1373.2 1065.1L1374.7 1066.6L1376.0 1068.3L1377.3 1070.1L1378.4 1071.9L1379.4 1073.7L1380.4 1075.5L1381.3 1077.2L1382.2 1079.0L1383.1 1080.8L1383.9 1082.6L1384.7 1084.4L1385.4 1086.2L1386.1 1088.1L1386.8 1089.9L1387.5 1091.8L1388.1 1093.7L1388.8 1095.6L1389.3 1097.5L1389.9 1099.4L1390.5 1101.3L1391.0 1103.2L1391.5 1105.2L1392.0 1107.1L1392.5 1109.1L1393.0 1111.0L1393.5 1113.0L1393.9 1114.9L1394.4 1116.9L1394.8 1118.9L1395.3 1120.8L1395.7 1122.8L1396.1 1124.7L1396.6 1126.7L1397.0 1128.7L1397.4 1130.6L1397.8 1132.6L1398.3 1134.5L1398.7 1136.5L1399.1 1138.5L1399.5 1140.4L1399.9 1142.4L1400.3 1144.3L1400.8 1146.3L1401.2 1148.2L1401.6 1150.2L1402.0 1152.2L1402.4 1154.1L1402.8 1156.1L1403.2 1158.0L1403.6 1160.0L1404.1 1161.9L1404.5 1163.9L1404.9 1165.8L1405.3 1167.8L1405.7 1169.7L1406.2 1171.7L1406.6 1173.6L1407.0 1175.6L1407.5 1177.5L1407.9 1179.4L1408.4 1181.4L1408.8 1183.3L1409.3 1185.3L1409.7 1187.2L1410.2 1189.2L1410.6 1191.1L1411.1 1193.0L1411.6 1195.0L1412.1 1196.9L1412.6 1198.8L1413.1 1200.8L1413.6 1202.7L1414.1 1204.6L1414.6 1206.6L1415.1 1208.5L1415.7 1210.4L1416.2 1212.3L1416.7 1214.3L1417.3 1216.2L1417.9 1218.1L1418.4 1220.0L1419.0 1221.9L1419.6 1223.9L1420.2 1225.8L1420.8 1227.7L1421.5 1229.6L1422.1 1231.5L1422.7 1233.4L1423.4 1235.3L1424.1 1237.3L1424.7 1239.2L1425.4 1241.1L1426.1 1243.0L1426.9 1244.9L1427.6 1246.7L1428.3 1248.6L1429.1 1250.5L1429.9 1252.4L1430.7 1254.2L1431.6 1256.1L1432.4 1257.9L1433.3 1259.7L1434.2 1261.5L1435.1 1263.2L1436.1 1265.0L1437.1 1266.7L1438.1 1268.4L1439.1 1270.1L1440.2 1271.8L1441.3 1273.4L1442.5 1275.0L1443.7 1276.6L1444.9 1278.2L1446.2 1279.7L1447.5 1281.2L1448.8 1282.6L1450.2 1284.0L1451.6 1285.4L1453.1 1286.8L1454.6 1288.1L1456.2 1289.3L1457.8 1290.5L1459.4 1291.7L1461.0 1292.8L1462.7 1293.9L1464.5 1294.9L1466.2 1295.9L1468.0 1296.8L1469.8 1297.6L1471.7 1298.4L1473.6 1299.2L1475.4 1299.8L1477.3 1300.4L1479.3 1301.0L1481.2 1301.4L1483.2 1301.8L1485.2 1302.2L1487.1 1302.5L1489.1 1302.8L1491.1 1303.1L1493.1 1303.4L1495.1 1303.7L1497.1 1304.0L1499.0 1304.4L1501.0 1304.8L1502.9 1305.3L1504.9 1305.8L1506.8 1306.3L1508.8 1306.8L1510.7 1307.4L1512.6 1308.0L1514.5 1308.6L1516.4 1309.2L1518.4 1309.8L1520.3 1310.5L1522.2 1311.1L1524.1 1311.8L1526.0 1312.5L1527.9 1313.1L1529.8 1313.8L1531.7 1314.5L1533.6 1315.2L1535.5 1315.9L1537.4 1316.5L1539.2 1317.2L1541.1 1317.8L1543.1 1318.4L1545.0 1319.1L1546.9 1319.7L1548.8 1320.2L1550.7 1320.8L1552.6 1321.3L1554.5 1321.8L1556.5 1322.3L1558.4 1322.7L1560.3 1323.2L1562.3 1323.5L1564.2 1323.9L1566.2 1324.3L1568.1 1324.6L1570.1 1324.9L1572.1 1325.1L1574.0 1325.4L1576.0 1325.6L1578.0 1325.8L1580.0 1326.0L1582.0 1326.2L1584.0 1326.4L1585.9 1326.5L1587.9 1326.6L1589.9 1326.8L1591.9 1326.9L1594.0 1326.9L1596.0 1327.0L1598.0 1327.1L1600.0 1327.1L1602.0 1327.2L1604.0 1327.2L1606.0 1327.2L1608.1 1327.3L1610.1 1327.3L1612.1 1327.3L1614.1 1327.4L1616.1 1327.4L1618.2 1327.5L1620.2 1327.6L1622.2 1327.7L1624.2 1327.8L1626.2 1327.9L1628.2 1328.1L1630.2 1328.3L1632.1 1328.5L1634.1 1328.8L1636.1 1329.0L1638.0 1329.4L1639.9 1329.7L1641.9 1330.2L1643.8 1330.6L1645.7 1331.1L1647.6 1331.7L1649.5 1332.3L1651.3 1333.0L1653.2 1333.7L1655.0 1334.5L1656.9 1335.2L1658.7 1336.1L1660.5 1336.9L1662.3 1337.8L1664.2 1338.7L1666.0 1339.6L1667.8 1340.5L1669.6 1341.4L1671.4 1342.3L1673.2 1343.2L1675.0 1344.1L1676.9 1345.0L1678.7 1345.9L1680.5 1346.7L1682.4 1347.6L1684.2 1348.4L1686.1 1349.2L1687.9 1349.9L1689.8 1350.7L1691.7 1351.4L1693.5 1352.1L1695.4 1352.8L1697.3 1353.4L1699.2 1354.0L1701.1 1354.7L1703.0 1355.3L1704.9 1355.8L1706.8 1356.4L1708.8 1356.9L1710.7 1357.4L1712.6 1357.9L1714.6 1358.4L1716.5 1358.9L1718.4 1359.3L1720.4 1359.8L1722.3 1360.2L1724.3 1360.6L1726.2 1361.0L1728.2 1361.3L1730.2 1361.7L1732.1 1362.0L1734.1 1362.4L1736.1 1362.7L1738.0 1363.0L1740.0 1363.2L1742.0 1363.5L1744.0 1363.8L1746.0 1364.0L1747.9 1364.2L1749.9 1364.5L1751.9 1364.7L1753.9 1364.9L1755.9 1365.0L1757.9 1365.2L1759.9 1365.4L1761.9 1365.5L1763.9 1365.7L1765.9 1365.8L1767.8 1365.9L1769.8 1366.0L1771.8 1366.1L1773.8 1366.2L1775.8 1366.3L1777.9 1366.4L1779.9 1366.5L1781.9 1366.6L1783.9 1366.6L1785.9 1366.7L1787.9 1366.7L1789.9 1366.8L1791.9 1366.8L1793.9 1366.8L1795.9 1366.9L1797.9 1366.9L1799.9 1366.9L1801.9 1366.9L1803.9 1366.9L1806.0 1366.9L1808.0 1366.9L1810.0 1366.9L1812.0 1366.9L1814.0 1366.9L1816.0 1366.9L1818.0 1366.9L1820.0 1366.9L1822.0 1366.9L1824.1 1366.9L1826.1 1366.9L1828.1 1366.8L1830.1 1366.8L1832.1 1366.8L1834.1 1366.8L1836.1 1366.8L1838.1 1366.8L1840.1 1366.8L1842.1 1366.8L1844.1 1366.8L1846.1 1366.8L1848.1 1366.8L1850.1 1366.8L1852.1 1366.8L1854.1 1366.8L1856.1 1366.9L1858.1 1366.9L1860.1 1366.9L1862.1 1367.0L1864.1 1367.0L1866.1 1367.0L1868.1 1367.1L1870.1 1367.2L1872.0 1367.2L1874.0 1367.3L1876.0 1367.4L1878.0 1367.5L1880.0 1367.6"/>
<path stroke="#0070C0" d="M239.7 1092.0L240.1 1093.7L240.6 1095.5L241.1 1097.4L241.7 1099.4L242.4 1101.4L243.1 1103.4L243.9 1105.3L244.9 1107.2L245.9 1109.0L247.1 1110.7L248.3 1112.3L249.7 1113.7L251.2 1115.0L252.8 1116.1L254.4 1117.2L256.1 1118.2L257.9 1119.2L259.6 1120.2L261.4 1121.1L263.2 1122.1L264.9 1123.2L266.6 1124.2L268.2 1125.3L269.9 1126.5L271.5 1127.7L273.0 1128.9L274.5 1130.2L276.0 1131.5L277.4 1132.9L278.8 1134.3L280.1 1135.8L281.4 1137.3L282.6 1138.8L283.8 1140.4L285.0 1142.0L286.2 1143.6L287.3 1145.3L288.4 1146.9L289.5 1148.6L290.5 1150.3L291.6 1152.0L292.7 1153.8L293.7 1155.5L294.7 1157.2L295.8 1159.0L296.8 1160.7L297.9 1162.4L298.9 1164.1L300.0 1165.8L301.1 1167.5L302.2 1169.2L303.4 1170.8L304.6 1172.4L305.8 1174.0L307.0 1175.6L308.3 1177.1L309.6 1178.6L311.0 1180.0L312.3 1181.5L313.8 1182.9L315.2 1184.2L316.7 1185.6L318.2 1186.9L319.7 1188.2L321.2 1189.6L322.7 1190.9L324.3 1192.1L325.8 1193.4L327.3 1194.7L328.9 1196.0L330.4 1197.3L332.0 1198.6L333.5 1199.9L335.1 1201.2L336.6 1202.5L338.1 1203.8L339.7 1205.1L341.2 1206.4L342.8 1207.6L344.4 1208.9L346.0 1210.1L347.6 1211.2L349.2 1212.4L350.8 1213.5L352.5 1214.6L354.2 1215.6L355.9 1216.6L357.7 1217.5L359.5 1218.4L361.3 1219.2L363.2 1220.0L365.1 1220.7L367.0 1221.3L368.9 1221.8L370.9 1222.2L372.8 1222.4L374.8 1222.6L376.7 1222.6L378.7 1222.4L380.7 1222.1L382.6 1221.6L384.6 1221.0L386.5 1220.3L388.4 1219.5L390.3 1218.7L392.2 1217.9L394.1 1217.1L395.9 1216.3L397.8 1215.5L399.6 1214.7L401.4 1213.9L403.2 1213.0L405.0 1212.2L406.8 1211.4L408.6 1210.6L410.4 1209.7L412.2 1208.9L414.0 1208.0L415.8 1207.2L417.6 1206.3L419.4 1205.5L421.2 1204.6L423.0 1203.7L424.8 1202.8L426.6 1201.9L428.4 1201.0L430.2 1200.1L432.0 1199.1L433.7 1198.1L435.4 1197.0L437.1 1195.9L438.7 1194.8L440.4 1193.7L441.9 1192.5L443.5 1191.2L445.1 1190.0L446.6 1188.7L448.1 1187.4L449.5 1186.1L451.0 1184.7L452.4 1183.3L453.9 1181.9L455.3 1180.5L456.7 1179.1L458.1 1177.6L459.4 1176.2L460.8 1174.7L462.1 1173.2L463.5 1171.7L464.8 1170.2L466.2 1168.7L467.5 1167.2L468.9 1165.7L470.2 1164.2L471.6 1162.7L472.9 1161.2L474.3 1159.7L475.6 1158.2L477.0 1156.8L478.4 1155.3L479.8 1153.8L481.1 1152.4L482.5 1150.9L483.9 1149.5L485.3 1148.0L486.6 1146.5L488.0 1145.1L489.3 1143.6L490.7 1142.1L492.0 1140.6L493.3 1139.1L494.6 1137.6L495.9 1136.1L497.1 1134.5L498.4 1133.0L499.6 1131.4L500.8 1129.8L502.0 1128.2L503.1 1126.6L504.3 1125.0L505.4 1123.3L506.5 1121.6L507.6 1120.0L508.6 1118.3L509.7 1116.6L510.8 1114.9L511.8 1113.2L512.9 1111.4L513.9 1109.7L514.9 1108.0L516.0 1106.3L517.0 1104.6L518.0 1102.8L519.1 1101.1L520.1 1099.4L521.2 1097.7L522.2 1096.0L523.3 1094.3L524.3 1092.6L525.4 1090.9L526.5 1089.2L527.5 1087.5L528.6 1085.8L529.7 1084.1L530.7 1082.4L531.8 1080.7L532.8 1079.0L533.9 1077.3L534.9 1075.6L536.0 1073.9L537.0 1072.1L538.0 1070.4L539.0 1068.7L540.0 1067.0L541.0 1065.2L541.9 1063.5L542.9 1061.7L543.8 1059.9L544.7 1058.1L545.7 1056.4L546.5 1054.6L547.4 1052.8L548.3 1051.0L549.1 1049.2L550.0 1047.3L550.8 1045.5L551.6 1043.7L552.4 1041.8L553.2 1040.0L553.9 1038.1L554.7 1036.3L555.4 1034.4L556.2 1032.6L556.9 1030.7L557.6 1028.8L558.3 1027.0L558.9 1025.1L559.6 1023.2L560.2 1021.3L560.9 1019.4L561.5 1017.5L562.1 1015.6L562.7 1013.7L563.3 1011.8L563.9 1009.9L564.4 1008.0L565.0 1006.1L565.5 1004.1L566.1 1002.2L566.6 1000.3L567.1 998.3L567.7 996.4L568.2 994.5L568.7 992.5L569.1 990.6L569.6 988.7L570.1 986.7L570.6 984.8L571.0 982.8L571.5 980.9L571.9 978.9L572.4 977.0L572.8 975.0L573.3 973.0L573.7 971.1L574.1 969.1L574.5 967.2L574.9 965.2L575.4 963.2L575.8 961.3L576.2 959.3L576.6 957.4L577.0 955.4L577.4 953.4L577.8 951.5L578.2 949.5L578.6 947.5L579.0 945.6L579.4 943.6L579.8 941.6L580.1 939.7L580.5 937.7L580.9 935.7L581.3 933.8L581.7 931.8L582.1 929.8L582.5 927.9L582.9 925.9L583.3 924.0L583.7 922.0L584.1 920.0L584.5 918.1L584.9 916.1L585.3 914.2L585.7 912.2L586.2 910.3L586.6 908.3L587.0 906.3L587.4 904.4L587.8 902.4L588.2 900.5L588.7 898.5L589.1 896.6L589.5 894.6L589.9 892.7L590.4 890.7L590.8 888.8L591.2 886.8L591.7 884.9L592.1 882.9L592.5 881.0L593.0 879.0L593.4 877.1L593.9 875.1L594.3 873.2L594.8 871.2L595.2 869.3L595.7 867.3L596.1 865.4L596.6 863.4L597.1 861.5L597.5 859.6L598.0 857.6L598.5 855.7L598.9 853.7L599.4 851.8L599.9 849.8L600.4 847.9L600.9 845.9L601.4 844.0L601.9 842.1L602.4 840.1L602.9 838.2L603.4 836.2L603.9 834.3L604.5 832.4L605.0 830.4L605.6 828.5L606.1 826.6L606.7 824.7L607.2 822.7L607.8 820.8L608.4 818.9L608.9 817.0L609.5 815.1L610.1 813.2L610.8 811.3L611.4 809.4L612.0 807.5L612.6 805.6L613.3 803.7L613.9 801.8L614.6 799.9L615.3 798.1L616.0 796.2L616.7 794.3L617.4 792.4L618.1 790.6L618.8 788.7L619.6 786.9L620.3 785.0L621.1 783.2L621.9 781.3L622.7 779.5L623.5 777.7L624.3 775.9L625.1 774.0L626.0 772.2L626.8 770.4L627.7 768.6L628.6 766.8L629.5 765.0L630.4 763.2L631.3 761.4L632.2 759.7L633.1 757.9L634.0 756.1L634.9 754.3L635.8 752.5L636.7 750.7L637.6 748.9L638.5 747.1L639.4 745.3L640.2 743.5L641.1 741.7L641.9 739.9L642.7 738.1L643.4 736.2L644.2 734.4L644.9 732.5L645.6 730.7L646.3 728.8L646.9 726.9L647.6 725.0L648.2 723.1L648.7 721.2L649.3 719.3L649.8 717.4L650.4 715.5L650.9 713.5L651.3 711.6L651.8 709.6L652.3 707.7L652.7 705.7L653.1 703.8L653.5 701.8L653.9 699.8L654.3 697.9L654.6 695.9L655.0 693.9L655.3 691.9L655.7 689.9L656.0 688.0L656.3 686.0L656.6 684.0L656.9 682.0L657.2 680.0L657.5 678.0L657.8 676.0L658.0 674.0L658.3 672.0L658.6 670.0L658.9 668.1L659.1 666.1L659.4 664.1L659.6 662.1L659.9 660.1L660.1 658.1L660.4 656.1L660.6 654.1L660.9 652.1L661.1 650.1L661.3 648.1L661.5 646.1L661.8 644.2L662.0 642.2L662.2 640.2L662.4 638.2L662.6 636.2L662.8 634.2L663.1 632.2L663.3 630.2L663.5 628.2L663.7 626.2L663.9 624.3L664.1 622.3L664.2 620.3L664.4 618.3L664.6 616.3L664.8 614.3L665.0 612.3L665.2 610.3L665.4 608.3L665.5 606.3L665.7 604.3L665.9 602.4L666.1 600.4L666.2 598.4L666.4 596.4L666.6 594.4L666.7 592.4L666.9 590.4L667.1 588.4L667.2 586.4L667.4 584.4L667.6 582.4L667.7 580.5L667.9 578.5L668.0 576.5L668.2 574.5L668.4 572.5L668.5 570.5L668.7 568.5L668.8 566.5L669.0 564.5L669.2 562.5L669.3 560.5L669.5 558.5L669.6 556.6L669.8 554.6L669.9 552.6L670.1 550.6L670.2 548.6L670.4 546.6L670.6 544.6L670.7 542.6L670.9 540.6L671.0 538.6L671.2 536.6L671.3 534.6L671.5 532.6L671.7 530.6L671.8 528.7L672.0 526.7L672.1 524.7L672.3 522.7L672.5 520.7L672.6 518.7L672.8 516.7L672.9 514.7L673.1 512.7L673.2 510.7L673.4 508.7L673.6 506.7L673.7 504.7L673.9 502.7L674.0 500.7L674.2 498.7L674.3 496.7L674.5 494.7L674.7 492.7L674.8 490.7L675.0 488.7L675.1 486.8L675.3 484.8L675.4 482.8L675.6 480.8L675.7 478.8L675.9 476.8L676.0 474.8L676.2 472.8L676.4 470.8L676.5 468.8L676.7 466.8L676.8 464.8L677.0 462.8L677.1 460.8L677.3 458.8L677.4 456.8L677.6 454.8L677.7 452.8L677.9 450.8L678.0 448.8L678.2 446.8L678.3 444.8L678.4 442.8L678.6 440.8L678.7 438.8L678.9 436.8L679.0 434.8L679.2 432.8L679.3 430.8L679.4 428.8L679.6 426.8L679.7 424.8L679.9 422.8L680.0 420.8L680.1 418.9L680.3 416.9L680.4 414.9L680.6 412.9L680.7 410.9L680.8 408.9L681.0 406.9L681.1 404.9L681.2 402.9L681.4 400.9L681.5 398.9L681.7 396.9L681.8 394.9L681.9 392.9L682.1 390.9L682.2 388.9L682.3 386.9L682.5 384.9L682.6 382.9L682.7 380.9L682.9 378.9L683.0 376.9L683.2 374.9L683.3 372.9L683.4 370.9L683.6 368.9L683.7 366.9L683.9 364.9L684.0 362.9L684.1 360.9L684.3 358.9L684.4 356.9L684.6 354.9L684.7 352.9L684.9 350.9L685.0 348.9L685.1 347.0L685.3 345.0L685.4 343.0L685.6 341.0L685.7 339.0L685.9 337.0L686.0 335.0L686.2 333.0L686.4 331.0L686.5 329.0L686.7 327.0L686.8 325.0L687.0 323.0L687.2 321.0L687.3 319.0L687.5 317.0L687.6 315.0L687.8 313.0L688.0 311.1L688.2 309.1L688.3 307.1L688.5 305.1L688.7 303.1L688.9 301.1L689.0 299.1L689.2 297.1L689.4 295.1L689.6 293.1L689.8 291.1L690.0 289.2L690.2 287.2L690.4 285.2L690.5 283.2L690.7 281.2L690.9 279.2L691.1 277.2L691.4 275.2L691.6 273.2L691.8 271.3L692.0 269.3L692.2 267.3L692.4 265.3L692.6 263.3L692.8 261.3L693.1 259.3L693.3 257.4L693.5 255.4L693.8 253.4L694.0 251.4L694.2 249.4L694.5 247.4L694.7 245.5L695.0 243.5L695.2 241.5L695.5 239.5L695.7 237.5L696.0 235.5L696.3 233.6L696.6 231.6L696.9 229.6L697.2 227.6L697.5 225.6L697.9 223.6L698.2 221.6L698.6 219.6L699.1 217.6L699.5 215.6L700.0 213.6L700.6 211.7L701.4 209.8L702.5 208.5L703.6 208.7L704.7 210.3L705.4 212.2L705.9 214.1L706.3 216.1L706.7 218.1L707.0 220.2L707.3 222.2L707.6 224.2L707.9 226.2L708.2 228.2L708.4 230.2L708.7 232.2L708.9 234.2L709.1 236.2L709.3 238.2L709.5 240.2L709.7 242.1L709.9 244.1L710.0 246.1L710.2 248.1L710.3 250.1L710.5 252.1L710.6 254.1L710.8 256.1L710.9 258.1L711.0 260.1L711.2 262.1L711.3 264.1L711.4 266.0L711.5 268.0L711.7 270.0L711.8 272.0L711.9 274.0L712.1 276.0L712.2 278.0L712.3 280.0L712.5 282.0L712.6 284.0L712.7 286.0L712.9 288.0L713.0 290.0L713.1 292.0L713.3 294.0L713.4 296.0L713.5 297.9L713.7 299.9L713.8 301.9L713.9 303.9L714.1 305.9L714.2 307.9L714.3 309.9L714.5 311.9L714.6 313.9L714.7 315.9L714.9 317.9L715.0 319.9L715.1 321.9L715.3 323.9L715.4 325.9L715.5 327.9L715.7 329.9L715.8 331.9L715.9 333.9L716.1 335.9L716.2 337.9L716.3 339.9L716.5 341.9L716.6 343.9L716.7 345.9L716.9 347.9L717.0 349.9L717.1 351.9L717.3 353.9L717.4 355.9L717.5 357.9L717.7 359.9L717.8 361.9L717.9 363.9L718.1 365.9L718.2 367.9L718.3 369.9L718.4 371.9L718.6 373.9L718.7 375.9L718.8 377.9L719.0 379.9L719.1 381.8L719.2 383.8L719.3 385.8L719.5 387.8L719.6 389.8L719.7 391.8L719.8 393.8L720.0 395.8L720.1 397.8L720.2 399.8L720.3 401.8L720.5 403.8L720.6 405.8L720.7 407.8L720.8 409.8L721.0 411.8L721.1 413.8L721.2 415.8L721.3 417.8L721.5 419.8L721.6 421.8L721.7 423.8L721.8 425.8L721.9 427.8L722.1 429.8L722.2 431.8L722.3 433.8L722.4 435.8L722.6 437.8L722.7 439.8L722.8 441.8L722.9 443.8L723.0 445.8L723.2 447.8L723.3 449.8L723.4 451.8L723.5 453.8L723.6 455.8L723.7 457.8L723.9 459.8L724.0 461.7L724.1 463.7L724.2 465.7L724.3 467.7L724.5 469.7L724.6 471.7L724.7 473.7L724.8 475.7L724.9 477.7L725.0 479.7L725.2 481.7L725.3 483.7L725.4 485.7L725.5 487.7L725.6 489.7L725.7 491.7L725.9 493.7L726.0 495.7L726.1 497.7L726.2 499.7L726.3 501.7L726.4 503.7L726.5 505.7L726.7 507.7L726.8 509.7L726.9 511.7L727.0 513.7L727.1 515.7L727.2 517.7L727.3 519.7L727.5 521.7L727.6 523.7L727.7 525.7L727.8 527.7L727.9 529.7L728.0 531.7L728.1 533.7L728.2 535.7L728.4 537.6L728.5 539.6L728.6 541.6L728.7 543.6L728.8 545.6L728.9 547.6L729.0 549.6L729.1 551.6L729.3 553.6L729.4 555.6L729.5 557.6L729.6 559.6L729.7 561.6L729.8 563.6L729.9 565.6L730.0 567.6L730.1 569.6L730.3 571.6L730.4 573.6L730.5 575.6L730.6 577.6L730.7 579.6L730.8 581.6L730.9 583.6L731.0 585.6L731.1 587.6L731.2 589.6L731.4 591.6L731.5 593.6L731.6 595.6L731.7 597.6L731.8 599.6L731.9 601.6L732.0 603.6L732.1 605.6L732.2 607.6L732.4 609.6L732.5 611.6L732.6 613.6L732.7 615.6L732.8 617.6L732.9 619.6L733.0 621.6L733.1 623.6L733.3 625.6L733.4 627.6L733.5 629.6L733.6 631.6L733.7 633.6L733.8 635.6L734.0 637.5L734.1 639.5L734.2 641.5L734.3 643.5L734.4 645.5L734.6 647.5L734.7 649.5L734.8 651.5L734.9 653.5L735.1 655.5L735.2 657.5L735.3 659.5L735.4 661.5L735.6 663.5L735.7 665.5L735.8 667.5L736.0 669.5L736.1 671.5L736.2 673.5L736.4 675.5L736.5 677.5L736.6 679.5L736.8 681.5L736.9 683.5L737.1 685.5L737.2 687.5L737.4 689.5L737.5 691.5L737.7 693.5L737.8 695.5L738.0 697.5L738.1 699.4L738.3 701.4L738.4 703.4L738.6 705.4L738.7 707.4L738.9 709.4L739.0 711.4L739.2 713.4L739.4 715.4L739.5 717.4L739.7 719.4L739.9 721.4L740.0 723.4L740.2 725.4L740.4 727.4L740.5 729.4L740.7 731.4L740.9 733.4L741.0 735.3L741.2 737.3L741.4 739.3L741.5 741.3L741.7 743.3L741.9 745.3L742.1 747.3L742.2 749.3L742.4 751.3L742.6 753.3L742.8 755.3L743.0 757.3L743.1 759.3L743.3 761.3L743.5 763.2L743.7 765.2L743.9 767.2L744.0 769.2L744.2 771.2L744.4 773.2L744.6 775.2L744.8 777.2L744.9 779.2L745.1 781.2L745.3 783.2L745.5 785.2L745.7 787.2L745.9 789.2L746.1 791.1L746.2 793.1L746.4 795.1L746.6 797.1L746.8 799.1L747.0 801.1L747.2 803.1L747.4 805.1L747.5 807.1L747.7 809.1L747.9 811.1L748.1 813.1L748.3 815.1L748.5 817.0L748.7 819.0L748.8 821.0L749.0 823.0L749.2 825.0L749.4 827.0L749.6 829.0L749.8 831.0L750.0 833.0L750.1 835.0L750.3 837.0L750.5 839.0L750.7 841.0L750.9 843.0L751.1 844.9L751.2 846.9L751.4 848.9L751.6 850.9L751.8 852.9L752.0 854.9L752.1 856.9L752.3 858.9L752.5 860.9L752.7 862.9L752.9 864.9L753.0 866.9L753.2 868.9L753.4 870.9L753.6 872.9L753.7 874.8L753.9 876.8L754.1 878.8L754.3 880.8L754.4 882.8L754.6 884.8L754.8 886.8L754.9 888.8L755.1 890.8L755.3 892.8L755.4 894.8L755.6 896.8L755.8 898.8L755.9 900.8L756.1 902.8L756.2 904.8L756.4 906.8L756.6 908.7L756.7 910.7L756.9 912.7L757.0 914.7L757.2 916.7L757.4 918.7L757.5 920.7L757.7 922.7L757.8 924.7L758.0 926.7L758.1 928.7L758.3 930.7L758.4 932.7L758.6 934.7L758.7 936.7L758.9 938.7L759.0 940.7L759.2 942.7L759.3 944.7L759.4 946.7L759.6 948.7L759.7 950.7L759.9 952.7L760.0 954.7L760.2 956.6L760.3 958.6L760.4 960.6L760.6 962.6L760.7 964.6L760.9 966.6L761.0 968.6L761.1 970.6L761.3 972.6L761.4 974.6L761.6 976.6L761.7 978.6L761.8 980.6L762.0 982.6L762.1 984.6L762.3 986.6L762.4 988.6L762.5 990.6L762.7 992.6L762.8 994.6L762.9 996.6L763.1 998.6L763.2 1000.6L763.3 1002.6L763.5 1004.6L763.6 1006.6L763.8 1008.6L763.9 1010.6L764.0 1012.6L764.2 1014.6L764.3 1016.6L764.4 1018.5L764.6 1020.5L764.7 1022.5L764.8 1024.5L765.0 1026.5L765.1 1028.5L765.3 1030.5L765.4 1032.5L765.5 1034.5L765.7 1036.5L765.8 1038.5L765.9 1040.5L766.1 1042.5L766.2 1044.5L766.4 1046.5L766.5 1048.5L766.6 1050.5L766.8 1052.5L766.9 1054.5L767.1 1056.5L767.2 1058.5L767.3 1060.5L767.5 1062.5L767.6 1064.5L767.8 1066.5L767.9 1068.5L768.1 1070.5L768.2 1072.4L768.3 1074.4L768.5 1076.4L768.6 1078.4L768.8 1080.4L768.9 1082.4L769.1 1084.4L769.2 1086.4L769.4 1088.4L769.5 1090.4L769.7 1092.4L769.8 1094.4L770.0 1096.4L770.1 1098.4L770.3 1100.4L770.5 1102.4L770.6 1104.4L770.8 1106.4L770.9 1108.4L771.1 1110.4L771.2 1112.3L771.4 1114.3L771.6 1116.3L771.7 1118.3L771.9 1120.3L772.1 1122.3L772.2 1124.3L772.4 1126.3L772.6 1128.3L772.7 1130.3L772.9 1132.3L773.1 1134.3L773.2 1136.3L773.4 1138.3L773.6 1140.3L773.8 1142.2L773.9 1144.2L774.1 1146.2L774.3 1148.2L774.5 1150.2L774.7 1152.2L774.8 1154.2L775.0 1156.2L775.2 1158.2L775.4 1160.2L775.6 1162.2L775.8 1164.2L776.0 1166.1L776.2 1168.1L776.4 1170.1L776.6 1172.1L776.8 1174.1L777.0 1176.1L777.2 1178.1L777.4 1180.1L777.6 1182.1L777.8 1184.1L778.1 1186.0L778.3 1188.0L778.5 1190.0L778.7 1192.0L779.0 1194.0L779.2 1196.0L779.4 1198.0L779.7 1200.0L779.9 1201.9L780.2 1203.9L780.4 1205.9L780.7 1207.9L780.9 1209.9L781.2 1211.9L781.4 1213.9L781.7 1215.9L782.0 1217.8L782.2 1219.8L782.5 1221.8L782.8 1223.8L783.1 1225.8L783.4 1227.8L783.7 1229.8L784.0 1231.7L784.3 1233.7L784.6 1235.7L785.0 1237.7L785.3 1239.6L785.7 1241.6L786.1 1243.6L786.5 1245.5L786.9 1247.5L787.4 1249.4L787.8 1251.4L788.3 1253.3L788.8 1255.2L789.3 1257.2L789.9 1259.1L790.4 1261.0L791.0 1262.9L791.7 1264.8L792.3 1266.7L793.0 1268.6L793.7 1270.5L794.4 1272.3L795.2 1274.2L796.0 1276.1L796.8 1277.9L797.7 1279.7L798.6 1281.6L799.5 1283.3L800.5 1285.1L801.6 1286.8L802.6 1288.5L803.8 1290.2L805.0 1291.8L806.2 1293.3L807.5 1294.8L808.9 1296.2L810.3 1297.5L811.8 1298.8L813.4 1299.9L815.0 1301.0L816.7 1301.9L818.5 1302.8L820.3 1303.6L822.2 1304.3L824.2 1305.0L826.1 1305.6L828.1 1306.2L830.1 1306.8L832.0 1307.3L834.0 1307.8L836.0 1308.3L837.9 1308.8L839.9 1309.3L841.9 1309.7L843.9 1310.1L845.8 1310.5L847.8 1310.9L849.8 1311.3L851.8 1311.6L853.8 1311.9L855.7 1312.2L857.7 1312.5L859.7 1312.8L861.7 1313.0L863.7 1313.2L865.6 1313.5L867.6 1313.6L869.6 1313.8L871.6 1314.0L873.6 1314.1L875.6 1314.2L877.6 1314.3L879.5 1314.3L881.5 1314.4L883.5 1314.4L885.5 1314.4L887.5 1314.4L889.5 1314.4L891.5 1314.4L893.5 1314.3L895.5 1314.2L897.5 1314.1L899.5 1314.0L901.4 1313.9L903.4 1313.8L905.4 1313.6L907.4 1313.5L909.4 1313.3L911.4 1313.1L913.4 1313.0L915.4 1312.8L917.4 1312.6L919.4 1312.4L921.4 1312.2L923.4 1312.0L925.4 1311.7L927.4 1311.5L929.4 1311.3L931.4 1311.1L933.4 1310.9L935.4 1310.6L937.4 1310.4L939.4 1310.2L941.4 1310.0L943.4 1309.8L945.4 1309.6L947.3 1309.4L949.3 1309.2L951.3 1309.0L953.3 1308.8L955.3 1308.6L957.3 1308.5L959.3 1308.3L961.3 1308.1L963.3 1308.0L965.3 1307.8L967.3 1307.7L969.3 1307.6L971.3 1307.4L973.3 1307.3L975.2 1307.2L977.2 1307.0L979.2 1306.9L981.2 1306.8L983.2 1306.7L985.2 1306.6L987.2 1306.5L989.2 1306.4L991.2 1306.3L993.2 1306.2L995.2 1306.2L997.2 1306.1L999.2 1306.0L1001.2 1305.9L1003.2 1305.9L1005.2 1305.8L1007.2 1305.7L1009.2 1305.7L1011.2 1305.6L1013.2 1305.6L1015.2 1305.5L1017.2 1305.4L1019.2 1305.4L1021.2 1305.3L1023.2 1305.2L1025.2 1305.1L1027.2 1305.0L1029.2 1304.9L1031.2 1304.8L1033.2 1304.6L1035.2 1304.4L1037.2 1304.3L1039.2 1304.0L1041.2 1303.8L1043.2 1303.6L1045.1 1303.3L1047.1 1303.0L1049.1 1302.7L1051.1 1302.3L1053.0 1302.0L1055.0 1301.6L1057.0 1301.2L1059.0 1300.8L1060.9 1300.5L1062.9 1300.1L1064.9 1299.8L1066.9 1299.5L1068.9 1299.2L1070.9 1298.9L1072.8 1298.7L1074.8 1298.5L1076.8 1298.3L1078.8 1298.1L1080.8 1298.0L1082.8 1297.9L1084.8 1297.8L1086.8 1297.8L1088.8 1297.8L1090.8 1297.8L1092.8 1297.9L1094.8 1297.9L1096.8 1298.1L1098.8 1298.2L1100.7 1298.4L1102.7 1298.6L1104.7 1298.9L1106.6 1299.2L1108.6 1299.5L1110.6 1299.9L1112.5 1300.3L1114.5 1300.7L1116.4 1301.1L1118.3 1301.6L1120.3 1302.0L1122.2 1302.4L1124.2 1302.8L1126.2 1303.2L1128.1 1303.6L1130.1 1303.9L1132.1 1304.1L1134.1 1304.3L1136.1 1304.4L1138.2 1304.5L1140.2 1304.5L1142.2 1304.4L1144.3 1304.3L1146.3 1304.2L1148.3 1304.0L1150.3 1303.7L1152.3 1303.3L1154.3 1302.9L1156.3 1302.5L1158.3 1302.0L1160.2 1301.4L1162.1 1300.8L1164.0 1300.1L1165.8 1299.4L1167.7 1298.6L1169.5 1297.7L1171.2 1296.8L1173.0 1295.8L1174.6 1294.8L1176.3 1293.7L1177.9 1292.6L1179.5 1291.5L1181.1 1290.3L1182.7 1289.0L1184.2 1287.7L1185.7 1286.5L1187.2 1285.1L1188.7 1283.8L1190.1 1282.4L1191.5 1281.0L1193.0 1279.6L1194.4 1278.2L1195.8 1276.7L1197.2 1275.2L1198.6 1273.8L1199.9 1272.3L1201.3 1270.8L1202.7 1269.3L1204.0 1267.8L1205.3 1266.3L1206.7 1264.7L1207.9 1263.2L1209.2 1261.6L1210.4 1260.1L1211.6 1258.4L1212.7 1256.8L1213.8 1255.2L1214.9 1253.5L1215.9 1251.8L1216.9 1250.1L1217.8 1248.3L1218.7 1246.6L1219.6 1244.8L1220.5 1243.0L1221.3 1241.2L1222.1 1239.4L1222.8 1237.6L1223.6 1235.7L1224.3 1233.9L1225.0 1232.0L1225.6 1230.1L1226.3 1228.2L1226.9 1226.3L1227.5 1224.4L1228.1 1222.5L1228.7 1220.6L1229.2 1218.7L1229.8 1216.7L1230.3 1214.8L1230.9 1212.8L1231.4 1210.9L1231.9 1208.9L1232.4 1206.9L1232.9 1205.0L1233.3 1203.0L1233.8 1201.0L1234.3 1199.1L1234.8 1197.1L1235.3 1195.2L1235.8 1193.2L1236.2 1191.2L1236.7 1189.3L1237.2 1187.3L1237.7 1185.4L1238.2 1183.5L1238.7 1181.5L1239.2 1179.6L1239.7 1177.6L1240.2 1175.7L1240.7 1173.8L1241.3 1171.9L1241.8 1169.9L1242.3 1168.0L1242.8 1166.1L1243.4 1164.2L1243.9 1162.3L1244.4 1160.3L1245.0 1158.4L1245.5 1156.5L1246.1 1154.6L1246.6 1152.7L1247.2 1150.8L1247.8 1148.9L1248.3 1147.0L1248.9 1145.1L1249.5 1143.2L1250.0 1141.2L1250.6 1139.3L1251.2 1137.4L1251.8 1135.5L1252.4 1133.6L1253.0 1131.7L1253.6 1129.8L1254.2 1127.9L1254.8 1126.0L1255.4 1124.1L1256.0 1122.2L1256.7 1120.3L1257.3 1118.3L1258.0 1116.4L1258.6 1114.6L1259.4 1112.7L1260.1 1110.8L1260.9 1109.0L1261.8 1107.2L1262.7 1105.4L1263.7 1103.6L1264.7 1101.9L1265.9 1100.2L1267.1 1098.6L1268.4 1097.0L1269.8 1095.5L1271.4 1094.0L1273.0 1092.7L1274.7 1091.7L1276.4 1091.2L1278.1 1091.3L1279.8 1092.0L1281.5 1093.1L1283.1 1094.7L1284.6 1096.4L1285.9 1098.3L1287.1 1100.2L1288.1 1102.0L1288.9 1103.9L1289.7 1105.7L1290.4 1107.6L1291.0 1109.4L1291.6 1111.3L1292.1 1113.1L1292.7 1115.0L1293.3 1116.8L1294.0 1118.7L1294.7 1120.5L1295.4 1122.4L1296.0 1124.3L1296.7 1126.2L1297.4 1128.1L1298.0 1130.0L1298.5 1132.0L1299.1 1133.9L1299.6 1135.8L1300.1 1137.8L1300.6 1139.7L1301.1 1141.7L1301.6 1143.6L1302.2 1145.6L1302.7 1147.5L1303.3 1149.4L1303.9 1151.3L1304.5 1153.2L1305.2 1155.1L1306.0 1156.9L1306.8 1158.7L1307.7 1160.5L1308.7 1162.2L1309.8 1164.0L1311.0 1165.6L1312.2 1167.3L1313.6 1168.9L1315.0 1170.3L1316.6 1171.7L1318.2 1172.9L1319.8 1174.0L1321.5 1174.9L1323.3 1175.6L1325.0 1176.0L1326.9 1176.2L1328.7 1176.1L1330.6 1175.6L1332.4 1175.0L1334.2 1174.1L1336.0 1172.9L1337.8 1171.7L1339.4 1170.2L1341.0 1168.7L1342.5 1167.1L1343.9 1165.5L1345.2 1163.8L1346.3 1162.2L1347.4 1160.5L1348.4 1158.8L1349.3 1157.1L1350.2 1155.4L1351.1 1153.7L1352.0 1152.0L1352.9 1150.3L1353.8 1148.5L1354.7 1146.8L1355.6 1145.1L1356.6 1143.4L1357.5 1141.6L1358.5 1139.9L1359.5 1138.2L1360.6 1136.4L1361.6 1134.7L1362.6 1133.0L1363.7 1131.2L1364.7 1129.5L1365.8 1127.8L1366.8 1126.0L1367.9 1124.3L1369.0 1122.5L1370.1 1120.8L1371.1 1119.0L1372.2 1117.3L1373.4 1115.7L1374.8 1114.3L1376.4 1113.3L1378.3 1112.7L1380.3 1112.5L1382.3 1112.8L1384.2 1113.4L1385.9 1114.4L1387.3 1115.7L1388.5 1117.3L1389.6 1119.1L1390.5 1120.9L1391.5 1122.8L1392.4 1124.6L1393.2 1126.5L1394.0 1128.3L1394.8 1130.2L1395.5 1132.1L1396.2 1133.9L1396.8 1135.8L1397.5 1137.7L1398.1 1139.6L1398.7 1141.5L1399.2 1143.4L1399.8 1145.4L1400.3 1147.3L1400.8 1149.2L1401.3 1151.1L1401.8 1153.1L1402.3 1155.0L1402.7 1156.9L1403.2 1158.9L1403.7 1160.8L1404.1 1162.7L1404.6 1164.7L1405.1 1166.6L1405.6 1168.5L1406.0 1170.5L1406.6 1172.4L1407.1 1174.4L1407.6 1176.3L1408.1 1178.2L1408.7 1180.2L1409.2 1182.1L1409.8 1184.0L1410.3 1185.9L1410.9 1187.9L1411.5 1189.8L1412.0 1191.7L1412.6 1193.6L1413.2 1195.6L1413.8 1197.5L1414.4 1199.4L1415.0 1201.3L1415.6 1203.2L1416.3 1205.2L1416.9 1207.1L1417.5 1209.0L1418.1 1210.9L1418.7 1212.8L1419.4 1214.7L1420.0 1216.6L1420.6 1218.5L1421.3 1220.4L1421.9 1222.3L1422.5 1224.2L1423.1 1226.1L1423.8 1228.0L1424.4 1229.9L1425.0 1231.8L1425.7 1233.6L1426.3 1235.5L1426.9 1237.4L1427.5 1239.3L1428.2 1241.1L1428.8 1243.0L1429.5 1244.9L1430.1 1246.7L1430.8 1248.6L1431.6 1250.4L1432.3 1252.2L1433.1 1254.0L1433.9 1255.8L1434.8 1257.6L1435.7 1259.4L1436.6 1261.2L1437.6 1262.9L1438.6 1264.7L1439.7 1266.4L1440.9 1268.1L1442.1 1269.8L1443.4 1271.4L1444.7 1273.0L1446.0 1274.6L1447.5 1276.1L1448.9 1277.6L1450.4 1279.0L1451.9 1280.4L1453.5 1281.7L1455.0 1282.9L1456.7 1284.0L1458.3 1285.2L1460.0 1286.2L1461.7 1287.2L1463.4 1288.2L1465.2 1289.1L1466.9 1290.0L1468.7 1290.8L1470.5 1291.6L1472.4 1292.3L1474.2 1293.0L1476.1 1293.7L1477.9 1294.4L1479.8 1295.0L1481.7 1295.6L1483.6 1296.2L1485.6 1296.7L1487.5 1297.3L1489.4 1297.8L1491.3 1298.3L1493.3 1298.8L1495.2 1299.3L1497.2 1299.8L1499.1 1300.2L1501.1 1300.7L1503.0 1301.2L1504.9 1301.7L1506.9 1302.1L1508.8 1302.6L1510.8 1303.0L1512.7 1303.5L1514.7 1303.9L1516.6 1304.3L1518.6 1304.8L1520.5 1305.2L1522.5 1305.6L1524.4 1306.0L1526.4 1306.4L1528.4 1306.8L1530.3 1307.2L1532.3 1307.6L1534.3 1308.0L1536.2 1308.3L1538.2 1308.7L1540.2 1309.1L1542.2 1309.4L1544.2 1309.8L1546.1 1310.1L1548.1 1310.4L1550.1 1310.7L1552.1 1311.0L1554.1 1311.3L1556.1 1311.5L1558.1 1311.8L1560.1 1312.0L1562.1 1312.1L1564.1 1312.3L1566.1 1312.4L1568.1 1312.4L1570.1 1312.5L1572.1 1312.5L1574.0 1312.4L1576.0 1312.3L1578.0 1312.1L1579.9 1311.9L1581.9 1311.7L1583.8 1311.4L1585.8 1311.0L1587.7 1310.6L1589.6 1310.1L1591.6 1309.5L1593.5 1309.0L1595.4 1308.4L1597.3 1307.7L1599.2 1307.1L1601.1 1306.4L1603.1 1305.8L1605.0 1305.1L1606.9 1304.4L1608.8 1303.8L1610.7 1303.2L1612.7 1302.6L1614.6 1302.0L1616.5 1301.4L1618.5 1300.9L1620.4 1300.5L1622.4 1300.1L1624.4 1299.8L1626.4 1299.5L1628.4 1299.4L1630.4 1299.3L1632.4 1299.2L1634.4 1299.3L1636.4 1299.5L1638.4 1299.7L1640.4 1300.1L1642.3 1300.5L1644.2 1301.0L1646.1 1301.7L1648.0 1302.4L1649.7 1303.3L1651.5 1304.2L1653.2 1305.3L1654.8 1306.4L1656.4 1307.6L1658.1 1308.8L1659.6 1310.0L1661.2 1311.3L1662.8 1312.5L1664.4 1313.7L1666.0 1314.9L1667.6 1316.2L1669.2 1317.4L1670.8 1318.6L1672.3 1319.9L1673.9 1321.1L1675.4 1322.4L1677.0 1323.7L1678.5 1325.0L1680.0 1326.3L1681.5 1327.6L1682.9 1328.9L1684.4 1330.3L1685.9 1331.6L1687.3 1333.0L1688.8 1334.3L1690.3 1335.6L1691.9 1336.9L1693.4 1338.2L1695.0 1339.4L1696.6 1340.7L1698.2 1341.9L1699.8 1343.1L1701.5 1344.2L1703.2 1345.3L1704.9 1346.4L1706.6 1347.5L1708.3 1348.5L1710.1 1349.5L1711.8 1350.4L1713.6 1351.3L1715.4 1352.2L1717.2 1353.0L1719.1 1353.8L1720.9 1354.5L1722.8 1355.2L1724.7 1355.8L1726.6 1356.4L1728.5 1357.0L1730.4 1357.5L1732.4 1358.0L1734.3 1358.4L1736.3 1358.8L1738.2 1359.2L1740.2 1359.6L1742.2 1359.9L1744.2 1360.3L1746.1 1360.6L1748.1 1360.9L1750.1 1361.2L1752.1 1361.4L1754.1 1361.7L1756.1 1361.9L1758.1 1362.2L1760.1 1362.4L1762.0 1362.6L1764.0 1362.8L1766.0 1363.0L1768.0 1363.2L1770.0 1363.4L1772.0 1363.6L1774.0 1363.7L1776.0 1363.9L1778.0 1364.0L1780.0 1364.2L1782.0 1364.3L1784.0 1364.4L1786.0 1364.5L1788.0 1364.6L1790.0 1364.7L1792.0 1364.8L1794.0 1364.9L1796.0 1365.0L1798.0 1365.1L1800.0 1365.2L1802.0 1365.2L1804.0 1365.3L1806.0 1365.4L1808.0 1365.4L1810.0 1365.5L1812.0 1365.5L1814.0 1365.6L1816.0 1365.6L1818.0 1365.6L1820.0 1365.7L1822.0 1365.7L1824.0 1365.7L1826.0 1365.8L1828.0 1365.8L1830.0 1365.8L1832.0 1365.9L1834.0 1365.9L1836.0 1365.9L1838.0 1365.9L1840.0 1366.0L1842.0 1366.0L1844.0 1366.0L1846.0 1366.0L1848.0 1366.1L1850.0 1366.1L1852.0 1366.1L1854.0 1366.2L1856.0 1366.2L1858.0 1366.2L1860.0 1366.3L1862.0 1366.3L1864.0 1366.4L1866.0 1366.4L1868.0 1366.5L1870.0 1366.5L1872.0 1366.6L1874.0 1366.6L1876.0 1366.7L1878.0 1366.8L1880.0 1366.9"/>
<path stroke="#7F2AA3" d="M239.7 1095.0L240.6 1096.6L241.6 1098.3L242.8 1100.0L244.1 1101.7L245.5 1103.2L247.0 1104.7L248.5 1106.0L250.2 1107.1L251.9 1108.0L253.7 1108.8L255.5 1109.4L257.4 1110.0L259.3 1110.5L261.3 1110.9L263.3 1111.4L265.3 1111.8L267.2 1112.3L269.2 1112.9L271.1 1113.6L272.8 1114.4L274.5 1115.4L276.0 1116.6L277.3 1118.0L278.5 1119.6L279.7 1121.3L280.7 1122.9L281.8 1124.7L282.8 1126.4L283.8 1128.1L284.8 1129.9L285.7 1131.7L286.7 1133.5L287.6 1135.3L288.5 1137.1L289.4 1138.9L290.3 1140.8L291.1 1142.6L292.0 1144.4L292.8 1146.3L293.7 1148.1L294.6 1149.9L295.4 1151.7L296.3 1153.6L297.2 1155.4L298.1 1157.2L299.0 1158.9L299.9 1160.7L300.9 1162.5L301.8 1164.2L302.8 1165.9L303.8 1167.7L304.9 1169.3L305.9 1171.0L307.1 1172.6L308.2 1174.2L309.4 1175.8L310.6 1177.4L311.9 1178.9L313.2 1180.4L314.5 1181.8L315.9 1183.3L317.3 1184.7L318.7 1186.1L320.2 1187.5L321.7 1188.8L323.2 1190.2L324.7 1191.5L326.2 1192.8L327.7 1194.2L329.3 1195.5L330.8 1196.8L332.4 1198.1L333.9 1199.4L335.5 1200.6L337.1 1201.9L338.7 1203.2L340.3 1204.4L341.9 1205.6L343.5 1206.8L345.1 1207.9L346.8 1209.1L348.4 1210.1L350.1 1211.2L351.8 1212.2L353.6 1213.2L355.3 1214.1L357.1 1214.9L358.9 1215.7L360.8 1216.5L362.6 1217.2L364.5 1217.8L366.4 1218.3L368.4 1218.8L370.3 1219.1L372.3 1219.4L374.3 1219.6L376.2 1219.6L378.2 1219.5L380.2 1219.2L382.1 1218.9L384.1 1218.4L386.0 1217.8L388.0 1217.2L389.9 1216.6L391.9 1215.9L393.8 1215.3L395.8 1214.6L397.7 1213.9L399.6 1213.3L401.5 1212.6L403.4 1212.0L405.3 1211.3L407.2 1210.6L409.1 1209.9L410.9 1209.2L412.8 1208.5L414.6 1207.7L416.5 1207.0L418.3 1206.2L420.1 1205.4L421.9 1204.6L423.7 1203.8L425.5 1203.0L427.3 1202.1L429.1 1201.2L430.8 1200.3L432.5 1199.4L434.3 1198.4L436.0 1197.4L437.7 1196.4L439.4 1195.3L441.0 1194.3L442.7 1193.2L444.3 1192.0L445.9 1190.9L447.6 1189.7L449.2 1188.5L450.7 1187.3L452.3 1186.0L453.9 1184.8L455.4 1183.5L457.0 1182.2L458.5 1180.9L460.0 1179.5L461.5 1178.2L463.0 1176.8L464.5 1175.4L465.9 1174.0L467.4 1172.6L468.8 1171.2L470.2 1169.7L471.6 1168.3L473.0 1166.8L474.4 1165.3L475.8 1163.8L477.2 1162.3L478.5 1160.8L479.9 1159.3L481.2 1157.8L482.5 1156.3L483.8 1154.8L485.1 1153.2L486.4 1151.7L487.7 1150.1L489.0 1148.6L490.2 1147.0L491.5 1145.5L492.7 1143.9L493.9 1142.4L495.1 1140.8L496.4 1139.2L497.6 1137.6L498.7 1136.1L499.9 1134.5L501.1 1132.9L502.3 1131.3L503.4 1129.7L504.6 1128.1L505.7 1126.4L506.9 1124.8L508.0 1123.2L509.1 1121.6L510.2 1119.9L511.4 1118.3L512.5 1116.6L513.6 1115.0L514.7 1113.3L515.8 1111.7L516.8 1110.0L517.9 1108.3L519.0 1106.7L520.1 1105.0L521.1 1103.3L522.2 1101.6L523.3 1099.9L524.3 1098.2L525.4 1096.5L526.4 1094.8L527.5 1093.0L528.5 1091.3L529.6 1089.6L530.6 1087.9L531.6 1086.1L532.7 1084.4L533.7 1082.6L534.7 1080.9L535.7 1079.1L536.6 1077.3L537.6 1075.6L538.6 1073.8L539.5 1072.0L540.5 1070.2L541.4 1068.4L542.3 1066.6L543.2 1064.8L544.1 1063.0L544.9 1061.2L545.8 1059.4L546.6 1057.6L547.5 1055.7L548.3 1053.9L549.1 1052.1L549.9 1050.2L550.6 1048.4L551.4 1046.6L552.2 1044.7L552.9 1042.9L553.6 1041.0L554.3 1039.1L555.0 1037.3L555.7 1035.4L556.4 1033.5L557.1 1031.6L557.8 1029.8L558.4 1027.9L559.0 1026.0L559.7 1024.1L560.3 1022.2L560.9 1020.3L561.5 1018.4L562.1 1016.5L562.7 1014.6L563.3 1012.7L563.8 1010.8L564.4 1008.8L564.9 1006.9L565.5 1005.0L566.0 1003.1L566.5 1001.2L567.1 999.2L567.6 997.3L568.1 995.4L568.6 993.4L569.1 991.5L569.6 989.6L570.0 987.6L570.5 985.7L571.0 983.7L571.4 981.8L571.9 979.8L572.3 977.9L572.8 975.9L573.2 974.0L573.7 972.0L574.1 970.1L574.5 968.1L574.9 966.1L575.4 964.2L575.8 962.2L576.2 960.3L576.6 958.3L577.0 956.3L577.4 954.4L577.8 952.4L578.2 950.5L578.6 948.5L579.0 946.5L579.4 944.6L579.8 942.6L580.2 940.6L580.6 938.7L581.0 936.7L581.4 934.7L581.7 932.8L582.1 930.8L582.5 928.8L582.9 926.9L583.3 924.9L583.7 922.9L584.1 921.0L584.4 919.0L584.8 917.0L585.2 915.1L585.6 913.1L586.0 911.1L586.4 909.2L586.8 907.2L587.2 905.3L587.6 903.3L587.9 901.3L588.3 899.4L588.7 897.4L589.1 895.5L589.5 893.5L589.9 891.5L590.3 889.6L590.7 887.6L591.1 885.7L591.5 883.7L591.9 881.7L592.3 879.8L592.7 877.8L593.1 875.9L593.5 873.9L594.0 872.0L594.4 870.0L594.8 868.0L595.2 866.1L595.6 864.1L596.0 862.2L596.5 860.2L596.9 858.3L597.3 856.3L597.8 854.4L598.2 852.4L598.6 850.5L599.1 848.5L599.5 846.6L600.0 844.6L600.4 842.7L600.9 840.7L601.3 838.7L601.8 836.8L602.2 834.9L602.7 832.9L603.2 831.0L603.6 829.0L604.1 827.1L604.6 825.1L605.1 823.2L605.6 821.2L606.0 819.3L606.5 817.3L607.0 815.4L607.6 813.4L608.1 811.5L608.6 809.6L609.2 807.7L609.7 805.7L610.3 803.8L610.8 801.9L611.4 800.0L612.0 798.1L612.7 796.2L613.3 794.3L614.0 792.4L614.6 790.5L615.3 788.7L616.1 786.8L616.8 784.9L617.6 783.1L618.3 781.3L619.2 779.4L620.0 777.6L620.8 775.8L621.7 774.0L622.6 772.3L623.6 770.5L624.6 768.7L625.5 767.0L626.6 765.2L627.6 763.5L628.6 761.8L629.7 760.1L630.7 758.3L631.8 756.6L632.8 754.9L633.9 753.2L634.9 751.4L635.9 749.7L636.9 748.0L637.9 746.2L638.8 744.4L639.7 742.6L640.6 740.8L641.4 739.0L642.2 737.2L642.9 735.3L643.7 733.5L644.4 731.6L645.0 729.7L645.6 727.8L646.3 725.9L646.8 724.0L647.4 722.1L648.0 720.2L648.5 718.2L649.1 716.3L649.6 714.4L650.1 712.4L650.5 710.5L651.0 708.6L651.5 706.6L651.9 704.7L652.4 702.7L652.8 700.7L653.2 698.8L653.6 696.8L654.0 694.9L654.4 692.9L654.7 690.9L655.1 688.9L655.4 687.0L655.8 685.0L656.1 683.0L656.5 681.0L656.8 679.1L657.1 677.1L657.4 675.1L657.7 673.1L658.0 671.1L658.3 669.2L658.6 667.2L658.9 665.2L659.2 663.2L659.4 661.2L659.7 659.3L660.0 657.3L660.2 655.3L660.5 653.3L660.7 651.3L661.0 649.3L661.2 647.3L661.5 645.4L661.7 643.4L661.9 641.4L662.2 639.4L662.4 637.4L662.6 635.4L662.8 633.4L663.0 631.4L663.2 629.4L663.5 627.5L663.7 625.5L663.9 623.5L664.1 621.5L664.3 619.5L664.5 617.5L664.6 615.5L664.8 613.5L665.0 611.5L665.2 609.5L665.4 607.5L665.6 605.5L665.8 603.6L665.9 601.6L666.1 599.6L666.3 597.6L666.5 595.6L666.6 593.6L666.8 591.6L667.0 589.6L667.1 587.6L667.3 585.6L667.5 583.6L667.6 581.6L667.8 579.6L667.9 577.6L668.1 575.6L668.3 573.6L668.4 571.6L668.6 569.6L668.7 567.6L668.9 565.7L669.0 563.7L669.2 561.7L669.3 559.7L669.5 557.7L669.6 555.7L669.8 553.7L669.9 551.7L670.1 549.7L670.2 547.7L670.4 545.7L670.5 543.7L670.7 541.7L670.8 539.7L671.0 537.7L671.1 535.7L671.3 533.7L671.4 531.7L671.6 529.7L671.7 527.7L671.9 525.7L672.0 523.7L672.2 521.7L672.3 519.7L672.5 517.7L672.6 515.7L672.8 513.7L672.9 511.7L673.1 509.8L673.2 507.8L673.4 505.8L673.5 503.8L673.7 501.8L673.8 499.8L674.0 497.8L674.2 495.8L674.3 493.8L674.5 491.8L674.6 489.8L674.8 487.8L675.0 485.8L675.1 483.8L675.3 481.8L675.5 479.8L675.6 477.8L675.8 475.8L675.9 473.8L676.1 471.8L676.3 469.8L676.4 467.8L676.6 465.8L676.8 463.9L676.9 461.9L677.1 459.9L677.3 457.9L677.4 455.9L677.6 453.9L677.7 451.9L677.9 449.9L678.1 447.9L678.2 445.9L678.4 443.9L678.6 441.9L678.7 439.9L678.9 437.9L679.1 435.9L679.2 433.9L679.4 431.9L679.5 429.9L679.7 427.9L679.9 425.9L680.0 423.9L680.2 422.0L680.3 420.0L680.5 418.0L680.6 416.0L680.8 414.0L680.9 412.0L681.1 410.0L681.2 408.0L681.4 406.0L681.5 404.0L681.7 402.0L681.8 400.0L682.0 398.0L682.1 396.0L682.3 394.0L682.4 392.0L682.6 390.0L682.7 388.0L682.8 386.0L683.0 384.0L683.1 382.0L683.3 380.0L683.4 378.0L683.5 376.0L683.7 374.0L683.8 372.0L683.9 370.1L684.1 368.1L684.2 366.1L684.3 364.1L684.5 362.1L684.6 360.1L684.8 358.1L684.9 356.1L685.0 354.1L685.2 352.1L685.3 350.1L685.5 348.1L685.6 346.1L685.8 344.1L685.9 342.1L686.1 340.1L686.2 338.1L686.4 336.1L686.5 334.1L686.7 332.1L686.8 330.1L687.0 328.1L687.2 326.1L687.4 324.1L687.5 322.2L687.7 320.2L687.9 318.2L688.1 316.2L688.3 314.2L688.4 312.2L688.6 310.2L688.8 308.2L689.0 306.2L689.3 304.2L689.5 302.2L689.7 300.2L689.9 298.2L690.1 296.2L690.4 294.3L690.6 292.3L690.8 290.3L691.1 288.3L691.3 286.3L691.6 284.3L691.9 282.3L692.1 280.3L692.4 278.3L692.7 276.4L693.0 274.4L693.3 272.4L693.6 270.4L693.9 268.4L694.3 266.5L694.6 264.5L695.0 262.6L695.4 260.6L695.8 258.7L696.2 256.8L696.6 254.8L697.1 252.9L697.7 250.9L698.6 248.9L699.8 247.2L701.1 247.5L702.2 249.3L703.0 251.4L703.6 253.3L704.1 255.3L704.6 257.2L705.0 259.2L705.4 261.1L705.7 263.1L706.1 265.0L706.4 267.0L706.7 269.0L707.0 270.9L707.2 272.9L707.5 274.9L707.7 276.9L707.9 278.9L708.1 280.8L708.3 282.8L708.4 284.8L708.6 286.8L708.7 288.8L708.9 290.8L709.0 292.8L709.1 294.8L709.3 296.8L709.4 298.8L709.5 300.8L709.6 302.8L709.7 304.8L709.8 306.8L709.9 308.8L710.0 310.8L710.1 312.8L710.3 314.8L710.4 316.8L710.5 318.8L710.6 320.8L710.8 322.8L710.9 324.8L711.0 326.8L711.2 328.8L711.3 330.8L711.5 332.8L711.6 334.8L711.8 336.8L711.9 338.8L712.1 340.8L712.2 342.8L712.4 344.8L712.5 346.8L712.7 348.8L712.9 350.8L713.0 352.8L713.2 354.8L713.4 356.8L713.5 358.8L713.7 360.8L713.9 362.8L714.0 364.8L714.2 366.8L714.4 368.8L714.6 370.8L714.7 372.7L714.9 374.7L715.1 376.7L715.3 378.7L715.5 380.7L715.6 382.7L715.8 384.7L716.0 386.7L716.2 388.7L716.3 390.7L716.5 392.7L716.7 394.7L716.9 396.7L717.0 398.7L717.2 400.7L717.4 402.6L717.6 404.6L717.7 406.6L717.9 408.6L718.1 410.6L718.2 412.6L718.4 414.6L718.6 416.6L718.7 418.6L718.9 420.6L719.1 422.6L719.2 424.6L719.4 426.6L719.5 428.6L719.7 430.6L719.8 432.6L720.0 434.6L720.1 436.6L720.3 438.5L720.4 440.5L720.5 442.5L720.7 444.5L720.8 446.5L721.0 448.5L721.1 450.5L721.2 452.5L721.3 454.5L721.5 456.5L721.6 458.5L721.7 460.5L721.8 462.5L722.0 464.5L722.1 466.5L722.2 468.5L722.3 470.5L722.4 472.5L722.5 474.5L722.6 476.5L722.7 478.5L722.8 480.5L723.0 482.5L723.1 484.5L723.2 486.5L723.3 488.5L723.4 490.5L723.5 492.5L723.6 494.5L723.7 496.5L723.7 498.5L723.8 500.5L723.9 502.5L724.0 504.5L724.1 506.5L724.2 508.5L724.3 510.5L724.4 512.5L724.5 514.5L724.6 516.5L724.7 518.5L724.7 520.5L724.8 522.5L724.9 524.5L725.0 526.5L725.1 528.5L725.2 530.5L725.2 532.5L725.3 534.5L725.4 536.5L725.5 538.5L725.6 540.5L725.6 542.5L725.7 544.5L725.8 546.5L725.9 548.5L726.0 550.5L726.0 552.5L726.1 554.5L726.2 556.5L726.3 558.5L726.4 560.5L726.4 562.5L726.5 564.5L726.6 566.5L726.7 568.5L726.7 570.5L726.8 572.5L726.9 574.5L727.0 576.5L727.1 578.5L727.1 580.5L727.2 582.5L727.3 584.5L727.4 586.5L727.5 588.5L727.5 590.5L727.6 592.5L727.7 594.5L727.8 596.5L727.9 598.5L728.0 600.5L728.0 602.5L728.1 604.5L728.2 606.5L728.3 608.6L728.4 610.6L728.5 612.6L728.6 614.6L728.7 616.6L728.8 618.6L728.8 620.6L728.9 622.6L729.0 624.6L729.1 626.6L729.2 628.6L729.3 630.6L729.4 632.6L729.5 634.6L729.6 636.6L729.7 638.6L729.8 640.5L729.9 642.5L730.0 644.5L730.2 646.5L730.3 648.5L730.4 650.5L730.5 652.5L730.6 654.5L730.7 656.5L730.8 658.5L731.0 660.5L731.1 662.5L731.2 664.5L731.3 666.5L731.4 668.5L731.6 670.5L731.7 672.5L731.8 674.5L732.0 676.5L732.1 678.5L732.2 680.5L732.4 682.5L732.5 684.5L732.6 686.5L732.8 688.5L732.9 690.5L733.1 692.5L733.2 694.5L733.4 696.5L733.5 698.5L733.7 700.5L733.8 702.5L734.0 704.5L734.1 706.4L734.3 708.4L734.4 710.4L734.6 712.4L734.7 714.4L734.9 716.4L735.1 718.4L735.2 720.4L735.4 722.4L735.5 724.4L735.7 726.4L735.9 728.4L736.0 730.4L736.2 732.4L736.4 734.4L736.5 736.4L736.7 738.4L736.9 740.4L737.0 742.3L737.2 744.3L737.4 746.3L737.6 748.3L737.7 750.3L737.9 752.3L738.1 754.3L738.3 756.3L738.4 758.3L738.6 760.3L738.8 762.3L739.0 764.3L739.1 766.3L739.3 768.3L739.5 770.2L739.7 772.2L739.9 774.2L740.0 776.2L740.2 778.2L740.4 780.2L740.6 782.2L740.8 784.2L741.0 786.2L741.1 788.2L741.3 790.2L741.5 792.2L741.7 794.2L741.9 796.2L742.1 798.1L742.2 800.1L742.4 802.1L742.6 804.1L742.8 806.1L743.0 808.1L743.2 810.1L743.4 812.1L743.5 814.1L743.7 816.1L743.9 818.1L744.1 820.1L744.3 822.1L744.5 824.1L744.7 826.0L744.8 828.0L745.0 830.0L745.2 832.0L745.4 834.0L745.6 836.0L745.8 838.0L745.9 840.0L746.1 842.0L746.3 844.0L746.5 846.0L746.7 848.0L746.9 850.0L747.0 852.0L747.2 853.9L747.4 855.9L747.6 857.9L747.8 859.9L748.0 861.9L748.1 863.9L748.3 865.9L748.5 867.9L748.7 869.9L748.8 871.9L749.0 873.9L749.2 875.9L749.4 877.9L749.5 879.9L749.7 881.9L749.9 883.9L750.1 885.9L750.2 887.8L750.4 889.8L750.6 891.8L750.8 893.8L750.9 895.8L751.1 897.8L751.3 899.8L751.4 901.8L751.6 903.8L751.8 905.8L751.9 907.8L752.1 909.8L752.2 911.8L752.4 913.8L752.6 915.8L752.7 917.8L752.9 919.8L753.0 921.8L753.2 923.8L753.4 925.8L753.5 927.8L753.7 929.8L753.8 931.8L754.0 933.8L754.1 935.7L754.3 937.7L754.4 939.7L754.6 941.7L754.8 943.7L754.9 945.7L755.1 947.7L755.2 949.7L755.4 951.7L755.5 953.7L755.7 955.7L755.8 957.7L756.0 959.7L756.1 961.7L756.3 963.7L756.4 965.7L756.5 967.7L756.7 969.7L756.8 971.7L757.0 973.7L757.1 975.7L757.3 977.7L757.4 979.7L757.6 981.7L757.7 983.7L757.9 985.7L758.0 987.7L758.2 989.7L758.3 991.7L758.5 993.7L758.6 995.7L758.7 997.7L758.9 999.7L759.0 1001.7L759.2 1003.7L759.3 1005.7L759.5 1007.7L759.6 1009.7L759.8 1011.7L759.9 1013.6L760.1 1015.6L760.2 1017.6L760.4 1019.6L760.5 1021.6L760.7 1023.6L760.8 1025.6L761.0 1027.6L761.1 1029.6L761.3 1031.6L761.4 1033.6L761.6 1035.6L761.7 1037.6L761.9 1039.6L762.0 1041.6L762.2 1043.6L762.3 1045.6L762.5 1047.6L762.6 1049.6L762.8 1051.6L762.9 1053.6L763.1 1055.6L763.2 1057.6L763.4 1059.6L763.6 1061.6L763.7 1063.6L763.9 1065.6L764.0 1067.6L764.2 1069.5L764.4 1071.5L764.5 1073.5L764.7 1075.5L764.8 1077.5L765.0 1079.5L765.2 1081.5L765.3 1083.5L765.5 1085.5L765.7 1087.5L765.8 1089.5L766.0 1091.5L766.2 1093.5L766.3 1095.5L766.5 1097.5L766.7 1099.5L766.9 1101.5L767.0 1103.5L767.2 1105.4L767.4 1107.4L767.6 1109.4L767.8 1111.4L767.9 1113.4L768.1 1115.4L768.3 1117.4L768.5 1119.4L768.7 1121.4L768.9 1123.4L769.0 1125.4L769.2 1127.4L769.4 1129.3L769.6 1131.3L769.8 1133.3L770.0 1135.3L770.2 1137.3L770.4 1139.3L770.6 1141.3L770.8 1143.3L771.0 1145.3L771.2 1147.3L771.4 1149.2L771.6 1151.2L771.8 1153.2L772.0 1155.2L772.2 1157.2L772.4 1159.2L772.7 1161.2L772.9 1163.2L773.1 1165.2L773.3 1167.1L773.5 1169.1L773.8 1171.1L774.0 1173.1L774.2 1175.1L774.4 1177.1L774.7 1179.1L774.9 1181.0L775.1 1183.0L775.4 1185.0L775.6 1187.0L775.8 1189.0L776.1 1191.0L776.3 1192.9L776.6 1194.9L776.8 1196.9L777.1 1198.9L777.3 1200.9L777.6 1202.9L777.8 1204.8L778.1 1206.8L778.3 1208.8L778.6 1210.8L778.8 1212.8L779.1 1214.8L779.4 1216.7L779.6 1218.7L779.9 1220.7L780.2 1222.7L780.5 1224.7L780.7 1226.6L781.0 1228.6L781.3 1230.6L781.6 1232.6L782.0 1234.5L782.3 1236.5L782.6 1238.5L783.0 1240.5L783.4 1242.4L783.7 1244.4L784.1 1246.4L784.6 1248.4L785.0 1250.3L785.4 1252.3L785.9 1254.3L786.4 1256.2L787.0 1258.2L787.5 1260.2L788.1 1262.1L788.7 1264.1L789.3 1266.0L790.0 1267.9L790.7 1269.9L791.4 1271.7L792.2 1273.6L793.0 1275.5L793.9 1277.3L794.8 1279.1L795.7 1280.8L796.7 1282.6L797.8 1284.3L798.9 1285.9L800.0 1287.5L801.2 1289.1L802.4 1290.6L803.8 1292.1L805.1 1293.5L806.6 1294.9L808.0 1296.2L809.6 1297.4L811.2 1298.6L812.8 1299.8L814.5 1300.9L816.2 1301.9L817.9 1302.9L819.7 1303.8L821.5 1304.6L823.4 1305.4L825.3 1306.1L827.2 1306.8L829.1 1307.4L831.0 1307.9L833.0 1308.4L835.0 1308.8L836.9 1309.2L838.9 1309.6L840.9 1309.9L842.9 1310.3L844.9 1310.6L846.8 1310.9L848.8 1311.2L850.8 1311.5L852.8 1311.8L854.8 1312.1L856.8 1312.3L858.8 1312.5L860.8 1312.8L862.8 1313.0L864.8 1313.2L866.8 1313.3L868.7 1313.5L870.7 1313.7L872.7 1313.8L874.7 1313.9L876.7 1314.0L878.7 1314.1L880.7 1314.2L882.7 1314.3L884.7 1314.3L886.7 1314.3L888.7 1314.3L890.7 1314.3L892.7 1314.3L894.7 1314.3L896.7 1314.2L898.7 1314.1L900.7 1314.0L902.6 1313.9L904.6 1313.8L906.6 1313.7L908.6 1313.5L910.6 1313.3L912.6 1313.1L914.6 1313.0L916.6 1312.8L918.6 1312.5L920.6 1312.3L922.5 1312.1L924.5 1311.9L926.5 1311.6L928.5 1311.4L930.5 1311.1L932.5 1310.9L934.5 1310.6L936.5 1310.4L938.5 1310.1L940.5 1309.9L942.4 1309.7L944.4 1309.4L946.4 1309.2L948.4 1309.0L950.4 1308.8L952.4 1308.6L954.4 1308.4L956.4 1308.2L958.4 1308.1L960.4 1307.9L962.4 1307.8L964.4 1307.7L966.4 1307.6L968.4 1307.5L970.4 1307.4L972.4 1307.3L974.4 1307.3L976.4 1307.2L978.4 1307.2L980.4 1307.1L982.4 1307.1L984.4 1307.1L986.4 1307.0L988.4 1307.0L990.4 1307.0L992.4 1307.0L994.4 1307.0L996.4 1307.0L998.4 1307.0L1000.4 1307.0L1002.4 1306.9L1004.4 1306.9L1006.4 1306.9L1008.4 1306.9L1010.4 1306.8L1012.4 1306.8L1014.4 1306.7L1016.4 1306.7L1018.4 1306.6L1020.4 1306.5L1022.4 1306.4L1024.4 1306.3L1026.4 1306.2L1028.4 1306.1L1030.4 1305.9L1032.4 1305.8L1034.4 1305.6L1036.4 1305.4L1038.3 1305.2L1040.3 1305.0L1042.3 1304.7L1044.3 1304.5L1046.3 1304.2L1048.3 1303.9L1050.3 1303.6L1052.2 1303.3L1054.2 1302.9L1056.2 1302.6L1058.2 1302.2L1060.2 1301.8L1062.2 1301.4L1064.1 1300.9L1066.1 1300.5L1068.1 1300.1L1070.1 1299.6L1072.1 1299.2L1074.1 1298.8L1076.0 1298.5L1078.0 1298.2L1080.0 1298.0L1082.0 1297.8L1083.9 1297.7L1085.9 1297.7L1087.9 1297.7L1089.8 1297.8L1091.8 1297.9L1093.7 1298.1L1095.7 1298.4L1097.7 1298.6L1099.6 1298.9L1101.6 1299.3L1103.5 1299.6L1105.5 1300.0L1107.5 1300.4L1109.4 1300.8L1111.4 1301.2L1113.4 1301.6L1115.4 1302.0L1117.3 1302.4L1119.3 1302.8L1121.3 1303.2L1123.3 1303.5L1125.3 1303.8L1127.3 1304.1L1129.3 1304.4L1131.3 1304.6L1133.3 1304.8L1135.3 1304.9L1137.3 1305.0L1139.4 1305.0L1141.4 1305.0L1143.4 1304.9L1145.4 1304.8L1147.4 1304.6L1149.4 1304.4L1151.4 1304.2L1153.4 1303.8L1155.3 1303.4L1157.3 1303.0L1159.2 1302.5L1161.1 1301.9L1163.0 1301.3L1164.9 1300.6L1166.7 1299.9L1168.5 1299.1L1170.3 1298.2L1172.1 1297.2L1173.8 1296.2L1175.6 1295.2L1177.2 1294.1L1178.9 1292.9L1180.5 1291.7L1182.1 1290.5L1183.6 1289.2L1185.1 1287.9L1186.6 1286.6L1188.0 1285.2L1189.5 1283.9L1190.9 1282.5L1192.3 1281.1L1193.7 1279.6L1195.0 1278.2L1196.4 1276.7L1197.7 1275.2L1199.1 1273.7L1200.4 1272.2L1201.8 1270.7L1203.1 1269.1L1204.5 1267.6L1205.8 1266.1L1207.1 1264.5L1208.3 1262.9L1209.5 1261.3L1210.7 1259.7L1211.9 1258.0L1213.0 1256.4L1214.0 1254.7L1215.0 1253.0L1216.0 1251.2L1216.9 1249.5L1217.8 1247.7L1218.7 1245.9L1219.5 1244.1L1220.3 1242.3L1221.1 1240.5L1221.8 1238.7L1222.5 1236.8L1223.2 1234.9L1223.9 1233.1L1224.5 1231.2L1225.1 1229.3L1225.7 1227.4L1226.3 1225.4L1226.8 1223.5L1227.3 1221.6L1227.8 1219.6L1228.3 1217.7L1228.8 1215.7L1229.3 1213.8L1229.8 1211.8L1230.2 1209.9L1230.7 1207.9L1231.1 1205.9L1231.6 1203.9L1232.0 1202.0L1232.5 1200.0L1232.9 1198.0L1233.4 1196.1L1233.8 1194.1L1234.2 1192.1L1234.7 1190.2L1235.2 1188.2L1235.6 1186.3L1236.1 1184.3L1236.6 1182.4L1237.1 1180.4L1237.5 1178.5L1238.0 1176.6L1238.5 1174.6L1239.0 1172.7L1239.5 1170.8L1240.1 1168.8L1240.6 1166.9L1241.1 1165.0L1241.6 1163.1L1242.2 1161.1L1242.7 1159.2L1243.2 1157.3L1243.8 1155.4L1244.3 1153.5L1244.9 1151.6L1245.5 1149.7L1246.0 1147.8L1246.6 1145.8L1247.2 1143.9L1247.7 1142.0L1248.3 1140.1L1248.9 1138.2L1249.5 1136.3L1250.1 1134.4L1250.7 1132.5L1251.3 1130.6L1251.9 1128.7L1252.6 1126.8L1253.2 1124.8L1253.8 1122.9L1254.4 1121.0L1255.1 1119.1L1255.7 1117.2L1256.4 1115.3L1257.1 1113.4L1257.9 1111.6L1258.7 1109.8L1259.6 1108.0L1260.5 1106.2L1261.5 1104.4L1262.6 1102.8L1263.7 1101.1L1265.0 1099.5L1266.4 1098.0L1267.8 1096.5L1269.4 1095.1L1271.1 1093.8L1272.9 1092.8L1274.6 1092.3L1276.4 1092.4L1278.1 1093.0L1279.8 1094.1L1281.3 1095.6L1282.8 1097.4L1284.1 1099.2L1285.3 1101.0L1286.4 1102.8L1287.4 1104.6L1288.3 1106.4L1289.1 1108.2L1289.8 1110.0L1290.5 1111.8L1291.1 1113.6L1291.8 1115.5L1292.4 1117.3L1293.0 1119.2L1293.6 1121.1L1294.2 1123.0L1294.9 1124.9L1295.5 1126.9L1296.1 1128.8L1296.7 1130.7L1297.3 1132.6L1297.9 1134.5L1298.5 1136.5L1299.1 1138.4L1299.7 1140.3L1300.3 1142.2L1301.0 1144.1L1301.6 1146.0L1302.2 1147.9L1302.8 1149.8L1303.5 1151.6L1304.1 1153.5L1304.8 1155.4L1305.4 1157.3L1306.1 1159.2L1306.8 1161.1L1307.4 1163.0L1308.1 1164.8L1308.8 1166.7L1309.6 1168.6L1310.3 1170.5L1311.0 1172.3L1311.8 1174.2L1312.6 1176.1L1313.4 1177.9L1314.2 1179.7L1315.1 1181.6L1315.9 1183.3L1316.9 1185.1L1317.8 1186.8L1318.9 1188.5L1319.9 1190.2L1321.1 1191.8L1322.4 1193.3L1323.9 1194.7L1325.6 1195.9L1327.6 1196.9L1329.6 1197.5L1331.6 1197.6L1333.5 1197.2L1335.2 1196.2L1336.8 1195.0L1338.3 1193.6L1339.7 1192.1L1341.1 1190.7L1342.5 1189.2L1343.8 1187.7L1345.0 1186.1L1346.2 1184.6L1347.4 1182.9L1348.5 1181.3L1349.6 1179.6L1350.7 1177.9L1351.7 1176.2L1352.8 1174.5L1353.8 1172.7L1354.8 1171.0L1355.9 1169.3L1356.9 1167.5L1358.0 1165.8L1359.1 1164.2L1360.2 1162.5L1361.4 1160.9L1362.6 1159.3L1363.9 1157.7L1365.2 1156.2L1366.6 1154.8L1368.0 1153.4L1369.5 1152.1L1371.1 1150.8L1372.8 1149.6L1374.5 1148.5L1376.4 1147.5L1378.3 1146.6L1380.2 1146.0L1382.1 1145.5L1384.0 1145.4L1385.7 1145.7L1387.3 1146.4L1388.7 1147.5L1390.0 1149.0L1391.1 1150.8L1392.2 1152.6L1393.3 1154.5L1394.3 1156.3L1395.3 1158.1L1396.3 1160.0L1397.2 1161.8L1398.2 1163.6L1399.1 1165.4L1400.0 1167.2L1400.8 1169.0L1401.7 1170.8L1402.5 1172.6L1403.3 1174.4L1404.1 1176.2L1404.9 1178.1L1405.7 1179.9L1406.5 1181.7L1407.2 1183.5L1408.0 1185.3L1408.7 1187.2L1409.4 1189.0L1410.2 1190.9L1410.9 1192.7L1411.6 1194.6L1412.3 1196.5L1413.0 1198.3L1413.7 1200.2L1414.4 1202.1L1415.1 1204.0L1415.8 1205.8L1416.5 1207.7L1417.3 1209.6L1418.0 1211.5L1418.7 1213.4L1419.4 1215.2L1420.2 1217.1L1420.9 1219.0L1421.7 1220.8L1422.4 1222.7L1423.2 1224.6L1424.0 1226.4L1424.8 1228.3L1425.6 1230.1L1426.4 1231.9L1427.3 1233.8L1428.1 1235.6L1429.0 1237.4L1429.9 1239.2L1430.8 1241.0L1431.7 1242.7L1432.7 1244.5L1433.7 1246.2L1434.7 1248.0L1435.7 1249.7L1436.8 1251.4L1437.8 1253.1L1438.9 1254.8L1440.0 1256.4L1441.2 1258.0L1442.4 1259.7L1443.6 1261.2L1444.8 1262.8L1446.0 1264.4L1447.3 1265.9L1448.6 1267.4L1449.9 1268.9L1451.3 1270.3L1452.7 1271.8L1454.1 1273.2L1455.5 1274.5L1457.0 1275.9L1458.5 1277.2L1460.0 1278.5L1461.6 1279.7L1463.2 1281.0L1464.8 1282.2L1466.4 1283.3L1468.1 1284.4L1469.8 1285.5L1471.6 1286.6L1473.3 1287.6L1475.1 1288.6L1476.9 1289.5L1478.8 1290.4L1480.6 1291.2L1482.5 1292.0L1484.3 1292.8L1486.2 1293.5L1488.1 1294.2L1490.0 1294.8L1491.9 1295.4L1493.8 1296.0L1495.7 1296.4L1497.7 1296.9L1499.6 1297.3L1501.5 1297.7L1503.4 1298.0L1505.3 1298.4L1507.3 1298.7L1509.2 1299.1L1511.1 1299.5L1513.1 1299.9L1515.0 1300.4L1517.0 1300.9L1518.9 1301.5L1520.9 1302.0L1522.9 1302.6L1524.8 1303.1L1526.8 1303.7L1528.8 1304.3L1530.7 1304.9L1532.7 1305.4L1534.7 1306.0L1536.7 1306.5L1538.7 1307.0L1540.6 1307.5L1542.6 1307.9L1544.6 1308.3L1546.6 1308.7L1548.5 1309.0L1550.5 1309.3L1552.5 1309.5L1554.4 1309.6L1556.4 1309.7L1558.3 1309.7L1560.3 1309.6L1562.2 1309.5L1564.2 1309.3L1566.1 1309.1L1568.0 1308.8L1570.0 1308.4L1571.9 1308.0L1573.8 1307.6L1575.7 1307.1L1577.6 1306.5L1579.5 1305.9L1581.4 1305.3L1583.3 1304.6L1585.2 1303.9L1587.1 1303.2L1588.9 1302.4L1590.8 1301.6L1592.7 1300.8L1594.5 1299.9L1596.3 1299.1L1598.2 1298.2L1600.0 1297.2L1601.8 1296.3L1603.7 1295.3L1605.5 1294.4L1607.3 1293.4L1609.1 1292.5L1610.9 1291.6L1612.7 1290.6L1614.5 1289.8L1616.3 1288.9L1618.2 1288.1L1620.0 1287.4L1621.8 1286.7L1623.7 1286.0L1625.5 1285.5L1627.4 1285.0L1629.3 1284.6L1631.2 1284.3L1633.1 1284.1L1635.1 1283.9L1637.0 1283.9L1639.0 1284.1L1641.0 1284.3L1643.0 1284.6L1645.0 1285.1L1647.0 1285.7L1649.0 1286.3L1650.9 1287.0L1652.9 1287.9L1654.8 1288.8L1656.6 1289.7L1658.4 1290.8L1660.1 1291.9L1661.7 1293.0L1663.3 1294.3L1664.8 1295.5L1666.2 1296.8L1667.6 1298.2L1669.0 1299.6L1670.3 1300.9L1671.7 1302.3L1673.1 1303.7L1674.4 1305.2L1675.8 1306.6L1677.2 1308.0L1678.5 1309.5L1679.9 1310.9L1681.3 1312.4L1682.7 1313.8L1684.1 1315.3L1685.5 1316.7L1686.9 1318.2L1688.4 1319.6L1689.8 1321.1L1691.3 1322.5L1692.7 1323.9L1694.2 1325.4L1695.6 1326.8L1697.1 1328.2L1698.6 1329.5L1700.1 1330.9L1701.6 1332.2L1703.1 1333.6L1704.7 1334.9L1706.2 1336.2L1707.8 1337.4L1709.4 1338.7L1711.0 1339.9L1712.6 1341.1L1714.2 1342.3L1715.8 1343.4L1717.5 1344.5L1719.1 1345.6L1720.8 1346.6L1722.5 1347.6L1724.2 1348.6L1726.0 1349.6L1727.7 1350.4L1729.5 1351.3L1731.3 1352.1L1733.1 1352.9L1734.9 1353.6L1736.7 1354.3L1738.6 1355.0L1740.5 1355.6L1742.3 1356.2L1744.2 1356.8L1746.1 1357.3L1748.1 1357.8L1750.0 1358.2L1752.0 1358.7L1753.9 1359.1L1755.9 1359.5L1757.8 1359.8L1759.8 1360.2L1761.8 1360.5L1763.8 1360.8L1765.8 1361.0L1767.8 1361.3L1769.8 1361.5L1771.9 1361.7L1773.9 1361.9L1775.9 1362.1L1777.9 1362.3L1780.0 1362.5L1782.0 1362.6L1784.0 1362.8L1786.1 1362.9L1788.1 1363.0L1790.1 1363.2L1792.1 1363.3L1794.2 1363.4L1796.2 1363.5L1798.2 1363.6L1800.2 1363.7L1802.2 1363.8L1804.2 1363.9L1806.2 1364.0L1808.2 1364.1L1810.2 1364.2L1812.2 1364.3L1814.2 1364.4L1816.2 1364.5L1818.1 1364.6L1820.1 1364.7L1822.1 1364.8L1824.1 1364.9L1826.1 1365.0L1828.0 1365.1L1830.0 1365.2L1832.0 1365.2L1834.0 1365.3L1835.9 1365.4L1837.9 1365.5L1839.9 1365.5L1841.9 1365.6L1843.9 1365.7L1845.8 1365.7L1847.8 1365.8L1849.8 1365.8L1851.8 1365.9L1853.8 1365.9L1855.8 1366.0L1857.8 1366.0L1859.8 1366.0L1861.8 1366.1L1863.8 1366.1L1865.8 1366.1L1867.9 1366.1L1869.9 1366.2L1871.9 1366.2L1874.0 1366.2L1876.0 1366.2L1878.0 1366.2L1880.1 1366.2"/>
</g>
<text x="188.7" y="1388.9" font-size="58.4" text-anchor="end">0</text><text x="188.7" y="1151.3" font-size="58.4" text-anchor="end">2</text><text x="188.7" y="913.7" font-size="58.4" text-anchor="end">4</text><text x="188.7" y="676.2" font-size="58.4" text-anchor="end">6</text><text x="188.7" y="438.6" font-size="58.4" text-anchor="end">8</text><text x="188.7" y="201.0" font-size="58.4" text-anchor="end">10</text><text x="238.4" y="1459.6" font-size="58.4" text-anchor="middle">300</text><text x="564.5" y="1459.6" font-size="58.4" text-anchor="middle">400</text><text x="890.5" y="1459.6" font-size="58.4" text-anchor="middle">500</text><text x="1216.5" y="1459.6" font-size="58.4" text-anchor="middle">600</text><text x="1542.6" y="1459.6" font-size="58.4" text-anchor="middle">700</text><text x="1868.7" y="1459.6" font-size="58.4" text-anchor="middle">800</text>
<text transform="translate(1083,1545.8) scale(1,1.012)" font-size="67" text-anchor="middle">Wavelength (nm)</text>
<text transform="translate(96.4,644.5) rotate(-90) scale(1,1.07)" font-size="66.6" text-anchor="middle"><tspan font-style="italic">ε</tspan><tspan dx="-5"> x 10</tspan><tspan font-weight="normal" font-size="37" dy="-22.85" dx="1.2">–</tspan><tspan font-size="44.5" dy="3.7" dx="1">4</tspan><tspan dy="19.15"> M</tspan><tspan font-weight="normal" font-size="37" dy="-22.85" dx="1.2">–</tspan><tspan font-size="44.5" dy="3.7" dx="1">1</tspan><tspan dy="19.15">cm</tspan><tspan font-weight="normal" font-size="37" dy="-22.85" dx="1.2">–</tspan><tspan font-size="44.5" dy="3.7" dx="1">1</tspan></text>
<line x1="1052" y1="192.0" x2="1212.3" y2="192.0" stroke="#FF0000" stroke-width="15.8" stroke-linecap="round"/><text transform="translate(1228.8,211.2) scale(1,1.022)" font-size="63.4">0 equiv TFA</text>
<line x1="1052" y1="314.3" x2="1212.3" y2="314.3" stroke="#F47206" stroke-width="15.8" stroke-linecap="round"/><text transform="translate(1228.8,333.5) scale(1,1.022)" font-size="63.4">50 equiv TFA</text>
<line x1="1052" y1="436.6" x2="1212.3" y2="436.6" stroke="#00B050" stroke-width="15.8" stroke-linecap="round"/><text transform="translate(1228.8,455.8) scale(1,1.022)" font-size="63.4">100 equiv TFA</text>
<line x1="1052" y1="558.9" x2="1212.3" y2="558.9" stroke="#0070C0" stroke-width="15.8" stroke-linecap="round"/><text transform="translate(1228.8,578.1) scale(1,1.022)" font-size="63.4">200 equiv TFA</text>
<line x1="1052" y1="681.2" x2="1212.3" y2="681.2" stroke="#7F2AA3" stroke-width="15.8" stroke-linecap="round"/><text transform="translate(1228.8,700.4) scale(1,1.022)" font-size="63.4">300 equiv TFA</text>
</svg></body></html>
